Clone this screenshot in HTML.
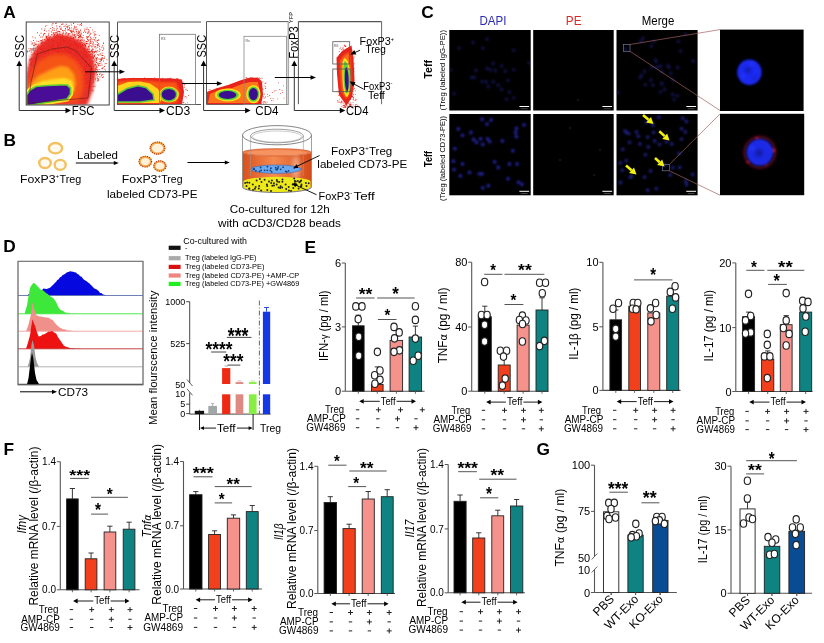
<!DOCTYPE html><html><head><meta charset="utf-8"><style>html,body{margin:0;padding:0;background:#fff;}svg{display:block;filter:blur(0.35px);}</style></head><body><svg width="824" height="643" viewBox="0 0 824 643" font-family='"Liberation Sans", Arial, sans-serif'>
<defs>
<filter id="b1" x="-20%" y="-20%" width="140%" height="140%"><feGaussianBlur stdDeviation="1"/></filter>
<filter id="b15" x="-20%" y="-20%" width="140%" height="140%"><feGaussianBlur stdDeviation="1.5"/></filter>
<filter id="b05" x="-20%" y="-20%" width="140%" height="140%"><feGaussianBlur stdDeviation="0.6"/></filter>
<filter id="b2" x="-30%" y="-30%" width="160%" height="160%"><feGaussianBlur stdDeviation="2"/></filter>
<filter id="b3" x="-30%" y="-30%" width="160%" height="160%"><feGaussianBlur stdDeviation="3"/></filter>
<radialGradient id="cellY" cx="50%" cy="50%" r="50%"><stop offset="0.55" stop-color="#fff8e0"/><stop offset="0.75" stop-color="#f6c55a"/><stop offset="0.9" stop-color="#f0b040"/><stop offset="1" stop-color="#f8dca0"/></radialGradient>
<linearGradient id="liq" x1="0" x2="1" y1="0" y2="0"><stop offset="0" stop-color="#d8501c"/><stop offset="0.45" stop-color="#f58a50"/><stop offset="1" stop-color="#d24a18"/></linearGradient>
<radialGradient id="nucB" cx="50%" cy="50%" r="50%"><stop offset="0" stop-color="#1c2ad8"/><stop offset="0.7" stop-color="#1a34f0"/><stop offset="1" stop-color="#1020a0"/></radialGradient>
</defs>
<rect width="824" height="643" fill="#fff"/>
<text x="3.2" y="17.7" font-size="17.3" font-weight="bold">A</text>
<text x="3.6" y="145.6" font-size="17.3" font-weight="bold">B</text>
<text x="421.2" y="17.6" font-size="17.3" font-weight="bold">C</text>
<text x="3.3" y="252.0" font-size="17.3" font-weight="bold">D</text>
<text x="304.6" y="252.6" font-size="17.3" font-weight="bold">E</text>
<text x="3.6" y="455.4" font-size="17.3" font-weight="bold">F</text>
<text x="536.4" y="455.3" font-size="17.3" font-weight="bold">G</text>
<clipPath id="cp1"><rect x="26.5" y="22.5" width="82.5" height="82.3"/></clipPath>
<clipPath id="cp2"><rect x="118" y="22.5" width="82" height="81.8"/></clipPath>
<clipPath id="cp3"><rect x="207" y="22" width="81" height="82.2"/></clipPath>
<clipPath id="cp4"><rect x="299" y="22" width="82" height="86"/></clipPath>
<g clip-path="url(#cp1)">
<path fill="#e4281c" d="M45.8 67.2h.9v.9h-.9zM76.1 73.9h.9v.9h-.9zM69.4 83.5h.9v.9h-.9zM78.0 47.0h.9v.9h-.9zM58.0 51.1h.9v.9h-.9zM73.6 45.7h.9v.9h-.9zM92.4 56.1h.9v.9h-.9zM29.7 73.0h.9v.9h-.9zM76.7 35.0h.9v.9h-.9zM69.2 75.4h.9v.9h-.9zM72.4 73.5h.9v.9h-.9zM68.1 57.8h.9v.9h-.9zM69.3 67.5h.9v.9h-.9zM60.5 70.1h.9v.9h-.9zM77.1 74.5h.9v.9h-.9zM78.1 60.7h.9v.9h-.9zM55.3 80.7h.9v.9h-.9zM75.2 48.6h.9v.9h-.9zM52.0 52.6h.9v.9h-.9zM50.9 53.3h.9v.9h-.9zM45.8 37.6h.9v.9h-.9zM83.9 30.5h.9v.9h-.9zM79.3 88.9h.9v.9h-.9zM48.5 50.7h.9v.9h-.9zM60.8 56.0h.9v.9h-.9zM69.1 46.0h.9v.9h-.9zM49.8 89.2h.9v.9h-.9zM50.9 77.0h.9v.9h-.9zM65.6 86.9h.9v.9h-.9zM92.9 90.4h.9v.9h-.9zM78.2 93.6h.9v.9h-.9zM48.5 44.3h.9v.9h-.9zM61.1 61.3h.9v.9h-.9zM52.2 48.1h.9v.9h-.9zM79.7 70.7h.9v.9h-.9zM41.9 49.3h.9v.9h-.9zM72.1 81.4h.9v.9h-.9zM76.2 87.0h.9v.9h-.9zM92.5 73.7h.9v.9h-.9zM56.9 63.2h.9v.9h-.9zM60.9 79.6h.9v.9h-.9zM46.3 66.5h.9v.9h-.9zM81.4 82.9h.9v.9h-.9zM34.6 70.8h.9v.9h-.9zM37.9 86.3h.9v.9h-.9zM68.4 81.4h.9v.9h-.9zM52.9 68.8h.9v.9h-.9zM46.1 36.9h.9v.9h-.9zM77.1 84.5h.9v.9h-.9zM56.5 54.9h.9v.9h-.9zM81.9 64.9h.9v.9h-.9zM79.4 96.5h.9v.9h-.9zM68.9 58.8h.9v.9h-.9zM41.4 44.2h.9v.9h-.9zM74.6 48.1h.9v.9h-.9zM84.5 56.3h.9v.9h-.9zM74.5 44.2h.9v.9h-.9zM40.3 51.9h.9v.9h-.9zM65.8 71.7h.9v.9h-.9zM64.8 41.1h.9v.9h-.9zM96.9 42.1h.9v.9h-.9zM86.5 29.1h.9v.9h-.9zM95.2 46.2h.9v.9h-.9zM74.2 78.1h.9v.9h-.9zM53.8 58.2h.9v.9h-.9zM58.4 67.2h.9v.9h-.9zM48.8 77.2h.9v.9h-.9zM80.3 88.9h.9v.9h-.9zM70.5 31.4h.9v.9h-.9zM55.2 81.6h.9v.9h-.9zM73.0 37.1h.9v.9h-.9zM75.6 68.1h.9v.9h-.9zM64.0 47.9h.9v.9h-.9zM71.1 83.4h.9v.9h-.9zM48.1 53.8h.9v.9h-.9zM29.5 63.9h.9v.9h-.9zM89.8 51.4h.9v.9h-.9zM59.5 66.9h.9v.9h-.9zM55.3 92.3h.9v.9h-.9zM48.5 30.3h.9v.9h-.9zM90.7 82.4h.9v.9h-.9zM38.2 55.1h.9v.9h-.9zM69.8 69.2h.9v.9h-.9zM46.8 86.9h.9v.9h-.9zM57.8 67.9h.9v.9h-.9zM75.9 82.3h.9v.9h-.9zM89.9 76.9h.9v.9h-.9zM69.5 60.2h.9v.9h-.9zM79.6 58.9h.9v.9h-.9zM91.8 73.7h.9v.9h-.9zM55.9 41.4h.9v.9h-.9zM98.3 79.7h.9v.9h-.9zM85.4 83.4h.9v.9h-.9zM62.3 84.8h.9v.9h-.9zM84.0 66.6h.9v.9h-.9zM79.9 47.3h.9v.9h-.9zM88.8 55.3h.9v.9h-.9zM56.8 65.9h.9v.9h-.9zM42.2 39.4h.9v.9h-.9zM59.5 36.0h.9v.9h-.9zM59.8 80.4h.9v.9h-.9zM59.5 54.9h.9v.9h-.9zM65.4 35.7h.9v.9h-.9zM54.7 32.3h.9v.9h-.9zM78.2 50.6h.9v.9h-.9zM35.5 54.4h.9v.9h-.9zM60.4 41.0h.9v.9h-.9zM65.9 44.4h.9v.9h-.9zM85.8 72.3h.9v.9h-.9zM58.1 62.4h.9v.9h-.9zM89.0 78.2h.9v.9h-.9zM56.7 28.0h.9v.9h-.9zM79.5 70.6h.9v.9h-.9zM72.7 56.8h.9v.9h-.9zM76.2 87.5h.9v.9h-.9zM41.6 36.7h.9v.9h-.9zM94.5 31.3h.9v.9h-.9zM33.1 60.6h.9v.9h-.9zM76.1 59.0h.9v.9h-.9zM43.1 66.8h.9v.9h-.9zM87.0 57.1h.9v.9h-.9zM76.3 39.8h.9v.9h-.9zM33.0 40.1h.9v.9h-.9zM70.5 56.8h.9v.9h-.9zM50.4 65.1h.9v.9h-.9zM61.9 50.6h.9v.9h-.9zM88.0 45.8h.9v.9h-.9zM50.8 56.1h.9v.9h-.9zM56.9 35.4h.9v.9h-.9zM64.4 65.7h.9v.9h-.9zM55.9 92.8h.9v.9h-.9zM70.5 35.8h.9v.9h-.9zM61.9 50.1h.9v.9h-.9zM71.3 29.8h.9v.9h-.9zM93.1 42.5h.9v.9h-.9zM95.0 67.8h.9v.9h-.9zM76.0 56.4h.9v.9h-.9zM55.2 59.8h.9v.9h-.9zM52.1 65.3h.9v.9h-.9zM71.6 62.5h.9v.9h-.9zM81.5 52.8h.9v.9h-.9zM57.8 90.7h.9v.9h-.9zM52.3 54.6h.9v.9h-.9zM48.2 67.3h.9v.9h-.9zM82.0 75.7h.9v.9h-.9zM57.7 30.9h.9v.9h-.9zM66.3 80.4h.9v.9h-.9zM90.9 69.2h.9v.9h-.9zM70.7 58.7h.9v.9h-.9zM48.1 38.8h.9v.9h-.9zM69.6 85.6h.9v.9h-.9zM70.9 58.6h.9v.9h-.9zM75.8 48.8h.9v.9h-.9zM57.0 48.4h.9v.9h-.9zM67.6 82.8h.9v.9h-.9zM63.6 61.7h.9v.9h-.9zM62.6 73.3h.9v.9h-.9zM51.0 63.9h.9v.9h-.9zM56.9 76.1h.9v.9h-.9zM74.5 34.1h.9v.9h-.9zM56.8 73.0h.9v.9h-.9zM32.8 48.6h.9v.9h-.9zM57.4 61.5h.9v.9h-.9zM75.7 29.0h.9v.9h-.9zM41.2 44.8h.9v.9h-.9zM68.5 57.9h.9v.9h-.9zM80.8 58.2h.9v.9h-.9zM53.5 56.8h.9v.9h-.9zM33.3 75.2h.9v.9h-.9zM97.2 66.7h.9v.9h-.9zM31.0 57.9h.9v.9h-.9zM101.8 55.0h.9v.9h-.9zM40.7 42.8h.9v.9h-.9zM83.6 50.2h.9v.9h-.9zM44.3 58.7h.9v.9h-.9zM46.4 80.1h.9v.9h-.9zM81.7 72.6h.9v.9h-.9zM88.3 54.7h.9v.9h-.9zM75.6 74.1h.9v.9h-.9zM66.7 70.1h.9v.9h-.9zM85.5 50.1h.9v.9h-.9zM74.4 90.4h.9v.9h-.9zM88.1 46.2h.9v.9h-.9zM82.3 83.0h.9v.9h-.9zM65.7 69.1h.9v.9h-.9zM83.9 68.7h.9v.9h-.9zM35.1 68.0h.9v.9h-.9zM86.2 36.3h.9v.9h-.9zM42.3 55.9h.9v.9h-.9zM42.7 63.9h.9v.9h-.9zM98.1 64.8h.9v.9h-.9zM65.6 58.0h.9v.9h-.9zM68.4 38.6h.9v.9h-.9zM88.3 40.7h.9v.9h-.9zM39.7 77.4h.9v.9h-.9zM68.2 52.9h.9v.9h-.9zM87.8 63.8h.9v.9h-.9zM61.5 88.8h.9v.9h-.9zM71.2 70.6h.9v.9h-.9zM66.2 83.3h.9v.9h-.9zM71.2 77.5h.9v.9h-.9zM47.9 80.2h.9v.9h-.9zM49.4 80.0h.9v.9h-.9zM58.2 88.8h.9v.9h-.9zM81.4 49.1h.9v.9h-.9zM63.6 88.4h.9v.9h-.9zM45.1 56.5h.9v.9h-.9zM52.2 69.5h.9v.9h-.9zM75.6 46.1h.9v.9h-.9zM73.2 44.0h.9v.9h-.9zM75.9 77.0h.9v.9h-.9zM69.3 57.4h.9v.9h-.9zM77.8 58.4h.9v.9h-.9zM51.3 61.2h.9v.9h-.9zM87.8 66.1h.9v.9h-.9zM68.2 74.3h.9v.9h-.9zM72.5 54.4h.9v.9h-.9zM87.3 43.4h.9v.9h-.9zM47.3 51.7h.9v.9h-.9zM42.8 50.0h.9v.9h-.9zM45.9 70.5h.9v.9h-.9zM46.0 37.1h.9v.9h-.9zM40.8 63.6h.9v.9h-.9zM99.3 68.9h.9v.9h-.9zM88.3 52.2h.9v.9h-.9zM48.6 40.2h.9v.9h-.9zM42.3 72.3h.9v.9h-.9zM65.7 53.4h.9v.9h-.9zM61.9 38.6h.9v.9h-.9zM61.0 48.2h.9v.9h-.9zM103.0 43.1h.9v.9h-.9zM53.6 47.2h.9v.9h-.9zM71.0 68.5h.9v.9h-.9zM68.1 46.7h.9v.9h-.9zM101.9 68.3h.9v.9h-.9zM59.1 50.6h.9v.9h-.9zM75.3 42.8h.9v.9h-.9zM54.5 36.1h.9v.9h-.9zM59.8 49.7h.9v.9h-.9zM66.4 86.6h.9v.9h-.9zM89.7 62.1h.9v.9h-.9zM57.7 64.8h.9v.9h-.9zM57.2 52.0h.9v.9h-.9zM67.2 59.5h.9v.9h-.9zM92.0 43.6h.9v.9h-.9zM49.3 77.0h.9v.9h-.9zM43.5 81.4h.9v.9h-.9zM89.6 79.9h.9v.9h-.9zM44.0 70.7h.9v.9h-.9zM96.3 58.9h.9v.9h-.9zM62.4 54.4h.9v.9h-.9zM84.0 48.4h.9v.9h-.9zM89.6 86.5h.9v.9h-.9zM75.3 55.6h.9v.9h-.9zM61.7 40.0h.9v.9h-.9zM55.1 71.9h.9v.9h-.9zM80.8 71.9h.9v.9h-.9zM67.1 65.4h.9v.9h-.9zM50.8 92.4h.9v.9h-.9zM66.3 58.8h.9v.9h-.9zM42.8 43.8h.9v.9h-.9zM72.6 69.9h.9v.9h-.9zM63.8 68.9h.9v.9h-.9zM50.3 73.9h.9v.9h-.9zM56.2 66.5h.9v.9h-.9zM74.1 34.4h.9v.9h-.9zM51.4 32.2h.9v.9h-.9zM83.0 92.1h.9v.9h-.9zM48.0 52.6h.9v.9h-.9zM56.7 51.5h.9v.9h-.9zM45.0 95.3h.9v.9h-.9zM79.8 62.3h.9v.9h-.9zM73.3 61.4h.9v.9h-.9zM58.5 39.1h.9v.9h-.9zM94.5 51.6h.9v.9h-.9zM72.5 58.1h.9v.9h-.9zM69.4 53.0h.9v.9h-.9zM63.2 75.8h.9v.9h-.9zM77.7 70.5h.9v.9h-.9zM77.4 32.4h.9v.9h-.9zM65.2 84.7h.9v.9h-.9zM89.4 85.1h.9v.9h-.9zM75.0 50.9h.9v.9h-.9zM44.7 87.8h.9v.9h-.9zM40.1 85.6h.9v.9h-.9zM60.4 40.4h.9v.9h-.9zM84.4 68.6h.9v.9h-.9zM67.5 34.7h.9v.9h-.9zM94.2 51.4h.9v.9h-.9zM40.3 74.0h.9v.9h-.9zM61.3 24.0h.9v.9h-.9zM46.7 60.3h.9v.9h-.9zM59.9 72.0h.9v.9h-.9zM45.5 56.8h.9v.9h-.9zM31.7 43.5h.9v.9h-.9zM85.3 53.9h.9v.9h-.9zM39.0 67.4h.9v.9h-.9zM87.4 48.6h.9v.9h-.9zM71.4 74.1h.9v.9h-.9zM47.3 79.2h.9v.9h-.9zM69.7 84.5h.9v.9h-.9zM42.2 65.0h.9v.9h-.9zM64.5 76.8h.9v.9h-.9zM56.9 80.6h.9v.9h-.9zM59.0 58.4h.9v.9h-.9zM51.2 81.1h.9v.9h-.9zM64.5 30.0h.9v.9h-.9zM67.1 81.0h.9v.9h-.9zM87.2 70.5h.9v.9h-.9zM69.1 72.8h.9v.9h-.9zM51.7 75.2h.9v.9h-.9zM74.7 62.7h.9v.9h-.9zM31.8 74.3h.9v.9h-.9zM38.7 84.9h.9v.9h-.9zM46.5 48.8h.9v.9h-.9zM71.8 56.3h.9v.9h-.9zM54.3 61.5h.9v.9h-.9zM57.0 49.6h.9v.9h-.9zM98.5 58.7h.9v.9h-.9zM69.2 63.7h.9v.9h-.9zM95.0 69.5h.9v.9h-.9zM53.6 47.1h.9v.9h-.9zM97.3 80.7h.9v.9h-.9zM83.0 70.0h.9v.9h-.9zM73.0 47.3h.9v.9h-.9zM101.7 52.5h.9v.9h-.9zM54.2 34.4h.9v.9h-.9zM62.8 32.7h.9v.9h-.9zM69.4 52.3h.9v.9h-.9zM44.0 47.8h.9v.9h-.9zM96.9 69.5h.9v.9h-.9zM49.4 45.7h.9v.9h-.9zM33.3 65.8h.9v.9h-.9zM48.7 73.7h.9v.9h-.9zM68.0 44.7h.9v.9h-.9zM44.4 28.5h.9v.9h-.9zM89.6 41.9h.9v.9h-.9zM67.9 43.4h.9v.9h-.9zM76.1 59.0h.9v.9h-.9zM76.9 78.8h.9v.9h-.9zM96.0 60.4h.9v.9h-.9zM33.0 45.2h.9v.9h-.9zM80.1 34.8h.9v.9h-.9zM42.9 52.9h.9v.9h-.9zM76.0 44.6h.9v.9h-.9zM67.7 37.2h.9v.9h-.9zM94.4 51.0h.9v.9h-.9zM49.6 65.3h.9v.9h-.9zM55.1 48.8h.9v.9h-.9zM67.9 71.8h.9v.9h-.9zM51.3 39.3h.9v.9h-.9zM74.9 51.3h.9v.9h-.9zM49.0 37.8h.9v.9h-.9zM64.5 79.8h.9v.9h-.9zM87.3 72.3h.9v.9h-.9zM50.3 60.7h.9v.9h-.9zM47.2 90.5h.9v.9h-.9zM70.0 70.8h.9v.9h-.9zM52.4 85.9h.9v.9h-.9zM51.2 84.2h.9v.9h-.9zM76.0 48.6h.9v.9h-.9zM68.2 61.2h.9v.9h-.9zM80.2 80.1h.9v.9h-.9zM101.9 57.6h.9v.9h-.9zM75.0 44.8h.9v.9h-.9zM78.5 76.5h.9v.9h-.9zM78.2 55.5h.9v.9h-.9zM51.1 45.0h.9v.9h-.9zM86.2 59.8h.9v.9h-.9zM55.5 69.1h.9v.9h-.9zM104.1 66.0h.9v.9h-.9zM86.1 64.2h.9v.9h-.9zM80.0 51.1h.9v.9h-.9zM57.2 84.7h.9v.9h-.9zM41.8 70.5h.9v.9h-.9zM68.5 77.3h.9v.9h-.9zM71.3 63.2h.9v.9h-.9zM105.1 69.7h.9v.9h-.9zM41.6 76.0h.9v.9h-.9zM71.2 31.0h.9v.9h-.9zM65.0 64.2h.9v.9h-.9zM34.4 54.0h.9v.9h-.9zM56.0 90.8h.9v.9h-.9zM53.2 91.7h.9v.9h-.9zM83.2 79.6h.9v.9h-.9zM69.1 74.2h.9v.9h-.9zM70.2 74.1h.9v.9h-.9zM49.6 36.4h.9v.9h-.9zM75.5 62.4h.9v.9h-.9zM42.7 64.2h.9v.9h-.9zM42.4 59.7h.9v.9h-.9zM73.1 47.8h.9v.9h-.9zM51.2 34.4h.9v.9h-.9zM63.4 67.1h.9v.9h-.9zM51.2 64.5h.9v.9h-.9zM95.8 51.0h.9v.9h-.9zM59.5 95.4h.9v.9h-.9zM78.0 33.0h.9v.9h-.9zM77.9 30.5h.9v.9h-.9zM74.7 54.2h.9v.9h-.9zM88.7 71.5h.9v.9h-.9zM73.1 83.4h.9v.9h-.9zM48.5 76.0h.9v.9h-.9zM71.8 69.2h.9v.9h-.9zM41.3 77.5h.9v.9h-.9zM70.3 59.4h.9v.9h-.9zM49.0 47.3h.9v.9h-.9zM50.0 45.9h.9v.9h-.9zM86.8 82.2h.9v.9h-.9zM55.2 77.3h.9v.9h-.9zM37.7 72.6h.9v.9h-.9zM40.6 58.4h.9v.9h-.9zM47.6 78.0h.9v.9h-.9zM47.4 36.3h.9v.9h-.9zM85.0 77.2h.9v.9h-.9zM87.9 77.2h.9v.9h-.9zM88.3 47.2h.9v.9h-.9zM90.2 51.6h.9v.9h-.9zM61.4 80.1h.9v.9h-.9zM72.5 69.1h.9v.9h-.9zM65.0 56.9h.9v.9h-.9zM64.2 82.7h.9v.9h-.9zM44.4 66.6h.9v.9h-.9zM75.5 28.6h.9v.9h-.9zM85.9 43.2h.9v.9h-.9zM66.6 43.4h.9v.9h-.9zM49.5 76.5h.9v.9h-.9zM44.7 42.7h.9v.9h-.9zM63.8 82.3h.9v.9h-.9zM26.9 51.5h.9v.9h-.9zM62.4 36.7h.9v.9h-.9zM51.4 34.0h.9v.9h-.9zM67.8 33.1h.9v.9h-.9zM35.0 76.9h.9v.9h-.9zM90.4 33.0h.9v.9h-.9zM83.7 53.0h.9v.9h-.9zM62.5 72.3h.9v.9h-.9zM91.8 76.8h.9v.9h-.9zM41.5 43.0h.9v.9h-.9zM49.9 88.0h.9v.9h-.9zM52.6 78.5h.9v.9h-.9zM61.5 54.8h.9v.9h-.9zM76.6 56.2h.9v.9h-.9zM65.1 80.8h.9v.9h-.9zM48.0 64.4h.9v.9h-.9zM84.9 53.7h.9v.9h-.9zM46.6 41.5h.9v.9h-.9zM74.8 76.4h.9v.9h-.9zM85.1 31.9h.9v.9h-.9zM88.4 80.9h.9v.9h-.9zM40.6 32.8h.9v.9h-.9zM65.5 52.6h.9v.9h-.9zM62.3 82.2h.9v.9h-.9zM88.2 36.3h.9v.9h-.9zM56.0 89.8h.9v.9h-.9zM90.7 78.1h.9v.9h-.9zM54.4 59.3h.9v.9h-.9zM99.7 65.1h.9v.9h-.9zM42.0 84.0h.9v.9h-.9zM83.8 66.4h.9v.9h-.9zM73.2 76.3h.9v.9h-.9zM85.0 44.7h.9v.9h-.9zM96.2 62.1h.9v.9h-.9zM69.2 69.1h.9v.9h-.9zM48.5 61.3h.9v.9h-.9zM72.5 56.1h.9v.9h-.9zM63.6 52.7h.9v.9h-.9zM72.5 90.0h.9v.9h-.9zM60.7 64.4h.9v.9h-.9zM55.6 42.1h.9v.9h-.9zM68.6 82.9h.9v.9h-.9zM58.8 58.3h.9v.9h-.9zM76.0 26.4h.9v.9h-.9zM70.4 50.2h.9v.9h-.9zM56.4 37.2h.9v.9h-.9zM46.9 65.8h.9v.9h-.9zM56.0 22.6h.9v.9h-.9zM76.9 81.8h.9v.9h-.9zM62.1 89.7h.9v.9h-.9zM76.5 70.6h.9v.9h-.9zM52.8 61.1h.9v.9h-.9zM85.2 78.3h.9v.9h-.9zM74.2 74.3h.9v.9h-.9zM81.5 53.7h.9v.9h-.9zM50.2 28.2h.9v.9h-.9zM88.7 51.6h.9v.9h-.9zM96.0 58.0h.9v.9h-.9zM57.9 89.1h.9v.9h-.9zM80.1 40.0h.9v.9h-.9zM97.0 57.3h.9v.9h-.9zM60.0 58.6h.9v.9h-.9zM71.3 86.7h.9v.9h-.9zM39.9 66.2h.9v.9h-.9zM75.0 50.4h.9v.9h-.9zM91.8 49.6h.9v.9h-.9zM87.3 64.4h.9v.9h-.9zM53.9 69.2h.9v.9h-.9zM43.8 46.1h.9v.9h-.9zM64.9 80.9h.9v.9h-.9zM95.3 50.9h.9v.9h-.9zM70.9 96.0h.9v.9h-.9zM42.1 55.4h.9v.9h-.9zM37.0 58.1h.9v.9h-.9zM31.4 49.5h.9v.9h-.9zM76.9 41.1h.9v.9h-.9zM55.3 37.0h.9v.9h-.9zM50.4 55.2h.9v.9h-.9zM57.0 51.1h.9v.9h-.9zM46.6 89.0h.9v.9h-.9zM51.5 64.8h.9v.9h-.9zM69.1 26.9h.9v.9h-.9zM83.2 78.9h.9v.9h-.9zM53.7 44.9h.9v.9h-.9zM60.7 72.8h.9v.9h-.9zM54.1 40.7h.9v.9h-.9zM79.6 41.2h.9v.9h-.9zM95.4 34.3h.9v.9h-.9zM83.8 44.7h.9v.9h-.9zM52.6 45.7h.9v.9h-.9zM83.8 62.5h.9v.9h-.9zM79.7 41.9h.9v.9h-.9zM75.1 51.4h.9v.9h-.9zM53.4 33.9h.9v.9h-.9zM76.9 44.7h.9v.9h-.9zM59.0 81.1h.9v.9h-.9zM59.1 66.0h.9v.9h-.9zM47.1 65.1h.9v.9h-.9zM53.6 61.8h.9v.9h-.9zM65.3 50.1h.9v.9h-.9zM64.5 59.7h.9v.9h-.9zM54.9 45.9h.9v.9h-.9zM68.1 40.9h.9v.9h-.9zM69.9 30.1h.9v.9h-.9zM63.8 87.8h.9v.9h-.9zM74.7 43.7h.9v.9h-.9zM51.0 38.7h.9v.9h-.9zM61.1 55.8h.9v.9h-.9zM45.1 93.0h.9v.9h-.9zM83.3 58.8h.9v.9h-.9zM65.6 33.0h.9v.9h-.9zM83.3 74.2h.9v.9h-.9zM52.9 54.0h.9v.9h-.9zM96.3 57.5h.9v.9h-.9zM101.1 58.2h.9v.9h-.9zM79.9 29.6h.9v.9h-.9zM41.5 87.1h.9v.9h-.9zM83.9 76.7h.9v.9h-.9zM35.2 53.4h.9v.9h-.9zM27.7 67.4h.9v.9h-.9zM40.9 48.7h.9v.9h-.9zM71.2 32.2h.9v.9h-.9zM58.9 87.4h.9v.9h-.9zM55.5 65.6h.9v.9h-.9zM79.7 83.1h.9v.9h-.9zM51.9 45.3h.9v.9h-.9zM61.5 36.6h.9v.9h-.9zM83.0 40.7h.9v.9h-.9zM37.2 49.9h.9v.9h-.9zM45.0 73.9h.9v.9h-.9zM78.2 45.6h.9v.9h-.9zM50.3 74.8h.9v.9h-.9zM34.9 57.2h.9v.9h-.9zM59.8 47.3h.9v.9h-.9zM89.0 64.5h.9v.9h-.9zM54.3 82.2h.9v.9h-.9zM97.3 46.9h.9v.9h-.9zM88.0 86.0h.9v.9h-.9zM52.6 49.5h.9v.9h-.9zM90.5 51.0h.9v.9h-.9zM68.5 86.9h.9v.9h-.9zM67.6 80.6h.9v.9h-.9zM77.4 24.2h.9v.9h-.9zM59.6 42.2h.9v.9h-.9zM101.3 74.3h.9v.9h-.9zM52.2 27.1h.9v.9h-.9zM54.6 54.3h.9v.9h-.9zM93.8 46.2h.9v.9h-.9zM92.1 29.4h.9v.9h-.9zM60.3 54.0h.9v.9h-.9zM31.7 54.4h.9v.9h-.9zM88.5 70.5h.9v.9h-.9zM78.8 63.2h.9v.9h-.9zM96.5 74.6h.9v.9h-.9zM84.9 77.8h.9v.9h-.9zM93.2 57.5h.9v.9h-.9zM45.0 48.2h.9v.9h-.9zM56.5 69.1h.9v.9h-.9zM45.9 89.7h.9v.9h-.9zM41.9 81.5h.9v.9h-.9zM95.6 66.0h.9v.9h-.9zM72.1 67.3h.9v.9h-.9zM93.0 56.7h.9v.9h-.9zM73.0 23.0h.9v.9h-.9zM32.9 74.4h.9v.9h-.9zM71.3 89.7h.9v.9h-.9zM83.5 62.5h.9v.9h-.9zM68.1 81.1h.9v.9h-.9zM54.9 61.6h.9v.9h-.9zM92.8 61.6h.9v.9h-.9zM91.2 50.9h.9v.9h-.9zM67.9 28.9h.9v.9h-.9zM72.5 65.2h.9v.9h-.9zM85.0 55.7h.9v.9h-.9zM42.9 49.2h.9v.9h-.9zM71.0 72.4h.9v.9h-.9zM76.7 49.5h.9v.9h-.9zM86.0 66.5h.9v.9h-.9zM61.9 60.2h.9v.9h-.9zM31.7 76.4h.9v.9h-.9zM52.5 74.6h.9v.9h-.9zM54.4 34.5h.9v.9h-.9zM89.8 39.8h.9v.9h-.9zM61.1 56.7h.9v.9h-.9zM85.9 41.0h.9v.9h-.9zM53.6 35.4h.9v.9h-.9zM75.7 44.6h.9v.9h-.9zM77.0 40.8h.9v.9h-.9zM70.3 79.3h.9v.9h-.9zM86.7 43.2h.9v.9h-.9zM46.1 55.9h.9v.9h-.9zM92.2 54.5h.9v.9h-.9zM55.4 62.7h.9v.9h-.9zM77.7 40.2h.9v.9h-.9zM62.9 90.6h.9v.9h-.9zM49.5 46.1h.9v.9h-.9zM48.4 66.3h.9v.9h-.9zM43.5 84.3h.9v.9h-.9zM66.5 57.1h.9v.9h-.9zM98.1 43.3h.9v.9h-.9zM69.7 56.7h.9v.9h-.9zM45.4 58.6h.9v.9h-.9zM44.2 39.1h.9v.9h-.9zM50.8 31.2h.9v.9h-.9zM65.2 86.0h.9v.9h-.9zM81.0 23.0h.9v.9h-.9zM61.8 50.8h.9v.9h-.9zM67.3 51.7h.9v.9h-.9zM45.6 89.9h.9v.9h-.9zM63.8 82.6h.9v.9h-.9zM86.2 65.4h.9v.9h-.9zM52.2 74.7h.9v.9h-.9zM46.9 92.6h.9v.9h-.9zM76.2 54.1h.9v.9h-.9zM43.0 72.0h.9v.9h-.9zM96.3 52.4h.9v.9h-.9zM29.9 61.5h.9v.9h-.9zM35.0 68.8h.9v.9h-.9zM83.2 48.2h.9v.9h-.9zM56.7 91.2h.9v.9h-.9zM89.8 34.2h.9v.9h-.9zM50.1 40.9h.9v.9h-.9zM46.1 62.9h.9v.9h-.9zM92.7 57.1h.9v.9h-.9zM68.0 57.6h.9v.9h-.9zM76.1 43.3h.9v.9h-.9zM53.0 41.9h.9v.9h-.9zM63.3 45.2h.9v.9h-.9zM62.6 77.0h.9v.9h-.9zM45.5 35.8h.9v.9h-.9zM46.3 37.0h.9v.9h-.9zM39.8 48.3h.9v.9h-.9zM52.5 23.1h.9v.9h-.9zM47.8 75.5h.9v.9h-.9zM87.5 35.9h.9v.9h-.9zM46.3 55.0h.9v.9h-.9zM81.9 57.0h.9v.9h-.9zM81.4 50.9h.9v.9h-.9zM66.9 93.9h.9v.9h-.9zM48.5 32.7h.9v.9h-.9zM84.5 83.5h.9v.9h-.9zM82.6 47.3h.9v.9h-.9zM62.9 30.5h.9v.9h-.9zM55.9 51.8h.9v.9h-.9zM70.6 89.0h.9v.9h-.9zM67.4 46.7h.9v.9h-.9zM59.0 74.9h.9v.9h-.9zM49.4 93.8h.9v.9h-.9zM58.4 91.5h.9v.9h-.9zM67.3 50.8h.9v.9h-.9zM48.5 63.9h.9v.9h-.9zM46.4 69.7h.9v.9h-.9zM74.2 25.7h.9v.9h-.9zM65.5 57.0h.9v.9h-.9zM103.3 48.5h.9v.9h-.9zM88.4 76.4h.9v.9h-.9zM81.6 57.9h.9v.9h-.9zM54.9 54.7h.9v.9h-.9zM84.8 66.7h.9v.9h-.9zM71.3 43.3h.9v.9h-.9zM50.0 70.6h.9v.9h-.9zM63.9 56.2h.9v.9h-.9zM47.3 69.0h.9v.9h-.9zM87.0 49.1h.9v.9h-.9zM76.3 60.9h.9v.9h-.9zM85.4 42.7h.9v.9h-.9zM82.0 54.9h.9v.9h-.9zM41.0 87.1h.9v.9h-.9zM43.9 30.0h.9v.9h-.9zM88.9 51.0h.9v.9h-.9zM51.1 58.9h.9v.9h-.9zM48.9 58.9h.9v.9h-.9zM71.0 73.1h.9v.9h-.9zM98.1 65.2h.9v.9h-.9zM68.2 80.2h.9v.9h-.9zM57.2 88.1h.9v.9h-.9zM76.7 34.5h.9v.9h-.9zM60.5 88.1h.9v.9h-.9zM80.3 91.1h.9v.9h-.9zM90.2 71.2h.9v.9h-.9zM53.9 40.8h.9v.9h-.9zM74.1 44.3h.9v.9h-.9zM73.8 75.7h.9v.9h-.9zM41.2 54.8h.9v.9h-.9zM78.9 59.1h.9v.9h-.9zM33.5 44.6h.9v.9h-.9zM66.7 88.5h.9v.9h-.9zM95.6 47.5h.9v.9h-.9zM85.5 40.9h.9v.9h-.9zM55.4 76.9h.9v.9h-.9zM53.4 48.8h.9v.9h-.9zM81.6 44.9h.9v.9h-.9zM57.7 50.3h.9v.9h-.9zM44.7 56.7h.9v.9h-.9zM55.3 49.9h.9v.9h-.9zM49.3 61.1h.9v.9h-.9zM64.9 75.7h.9v.9h-.9zM59.2 72.3h.9v.9h-.9zM70.4 66.8h.9v.9h-.9zM82.6 82.3h.9v.9h-.9zM80.9 39.3h.9v.9h-.9zM53.4 67.4h.9v.9h-.9zM65.1 54.8h.9v.9h-.9zM48.6 73.8h.9v.9h-.9zM64.6 25.5h.9v.9h-.9zM67.1 50.7h.9v.9h-.9zM96.0 66.8h.9v.9h-.9zM65.1 70.1h.9v.9h-.9zM84.9 55.9h.9v.9h-.9zM36.0 59.7h.9v.9h-.9zM42.2 36.4h.9v.9h-.9zM101.5 64.5h.9v.9h-.9zM65.3 60.0h.9v.9h-.9zM37.9 62.5h.9v.9h-.9zM51.9 29.5h.9v.9h-.9zM41.8 60.7h.9v.9h-.9zM59.5 63.7h.9v.9h-.9zM83.7 54.1h.9v.9h-.9zM74.2 41.2h.9v.9h-.9zM39.5 71.1h.9v.9h-.9zM61.6 58.1h.9v.9h-.9zM31.8 71.0h.9v.9h-.9zM56.2 25.5h.9v.9h-.9zM76.8 69.4h.9v.9h-.9zM61.0 49.1h.9v.9h-.9zM101.8 67.7h.9v.9h-.9zM56.9 33.3h.9v.9h-.9zM53.7 67.5h.9v.9h-.9zM86.2 75.5h.9v.9h-.9zM48.5 48.6h.9v.9h-.9zM86.8 41.1h.9v.9h-.9zM53.0 50.3h.9v.9h-.9zM29.3 49.9h.9v.9h-.9zM46.9 63.6h.9v.9h-.9zM34.8 44.2h.9v.9h-.9zM98.8 34.9h.9v.9h-.9zM77.5 50.2h.9v.9h-.9zM64.9 37.2h.9v.9h-.9zM68.1 41.8h.9v.9h-.9zM73.2 47.1h.9v.9h-.9zM35.3 57.7h.9v.9h-.9zM58.1 36.1h.9v.9h-.9zM86.2 50.8h.9v.9h-.9zM56.9 44.8h.9v.9h-.9zM37.1 71.0h.9v.9h-.9zM74.1 60.1h.9v.9h-.9zM95.6 59.6h.9v.9h-.9zM83.3 87.0h.9v.9h-.9zM82.8 47.7h.9v.9h-.9zM31.4 43.6h.9v.9h-.9zM69.7 79.1h.9v.9h-.9zM69.8 66.1h.9v.9h-.9zM55.0 80.4h.9v.9h-.9zM69.3 45.4h.9v.9h-.9zM49.3 66.0h.9v.9h-.9zM68.4 68.9h.9v.9h-.9zM78.5 56.4h.9v.9h-.9zM32.9 68.8h.9v.9h-.9zM62.5 33.0h.9v.9h-.9zM92.7 39.2h.9v.9h-.9zM60.8 72.9h.9v.9h-.9zM58.4 71.3h.9v.9h-.9zM69.7 87.1h.9v.9h-.9zM87.4 74.9h.9v.9h-.9zM57.6 96.2h.9v.9h-.9zM56.0 32.4h.9v.9h-.9zM100.9 75.4h.9v.9h-.9zM61.6 41.1h.9v.9h-.9zM78.1 91.1h.9v.9h-.9zM69.7 75.9h.9v.9h-.9zM84.8 45.3h.9v.9h-.9zM51.5 72.8h.9v.9h-.9zM44.5 64.0h.9v.9h-.9zM71.3 58.9h.9v.9h-.9zM83.9 49.3h.9v.9h-.9zM53.8 94.0h.9v.9h-.9zM92.8 67.7h.9v.9h-.9zM75.0 53.2h.9v.9h-.9zM54.6 32.4h.9v.9h-.9zM61.9 62.9h.9v.9h-.9zM60.9 63.5h.9v.9h-.9zM46.6 61.9h.9v.9h-.9zM55.5 85.5h.9v.9h-.9zM53.6 57.7h.9v.9h-.9zM81.3 46.2h.9v.9h-.9zM77.8 51.3h.9v.9h-.9zM54.6 33.7h.9v.9h-.9zM59.2 48.8h.9v.9h-.9zM68.1 34.5h.9v.9h-.9zM56.6 59.4h.9v.9h-.9zM62.6 63.3h.9v.9h-.9zM31.8 58.6h.9v.9h-.9zM67.2 67.7h.9v.9h-.9zM53.0 78.6h.9v.9h-.9zM65.3 33.5h.9v.9h-.9zM82.2 43.8h.9v.9h-.9zM45.1 61.2h.9v.9h-.9zM77.7 33.7h.9v.9h-.9zM71.8 33.5h.9v.9h-.9zM71.0 59.0h.9v.9h-.9zM61.2 72.3h.9v.9h-.9zM98.3 64.3h.9v.9h-.9zM60.7 92.1h.9v.9h-.9zM49.3 42.8h.9v.9h-.9zM86.3 74.3h.9v.9h-.9zM57.6 56.9h.9v.9h-.9zM57.3 79.3h.9v.9h-.9zM50.3 66.5h.9v.9h-.9zM51.6 24.6h.9v.9h-.9zM41.4 49.0h.9v.9h-.9zM55.3 89.8h.9v.9h-.9zM62.8 39.4h.9v.9h-.9zM92.2 52.0h.9v.9h-.9zM78.9 35.9h.9v.9h-.9zM57.3 60.5h.9v.9h-.9zM50.0 72.8h.9v.9h-.9zM69.1 57.2h.9v.9h-.9zM66.1 54.2h.9v.9h-.9zM33.3 47.4h.9v.9h-.9zM61.5 53.0h.9v.9h-.9zM94.2 52.3h.9v.9h-.9zM72.7 50.4h.9v.9h-.9zM53.5 49.5h.9v.9h-.9zM78.0 32.6h.9v.9h-.9zM93.3 66.2h.9v.9h-.9zM72.5 82.3h.9v.9h-.9zM56.3 52.5h.9v.9h-.9zM75.9 67.4h.9v.9h-.9zM90.1 36.8h.9v.9h-.9zM76.1 55.1h.9v.9h-.9zM75.4 70.7h.9v.9h-.9zM60.0 56.4h.9v.9h-.9zM52.8 59.3h.9v.9h-.9zM41.1 54.4h.9v.9h-.9zM87.7 36.5h.9v.9h-.9zM69.2 44.6h.9v.9h-.9zM102.4 74.2h.9v.9h-.9zM48.2 40.9h.9v.9h-.9zM69.0 59.4h.9v.9h-.9zM67.9 70.6h.9v.9h-.9zM45.0 52.7h.9v.9h-.9zM78.3 67.7h.9v.9h-.9zM79.1 73.7h.9v.9h-.9zM52.2 67.0h.9v.9h-.9zM67.3 70.7h.9v.9h-.9zM49.4 64.0h.9v.9h-.9zM56.8 59.3h.9v.9h-.9zM75.8 73.2h.9v.9h-.9zM68.2 76.7h.9v.9h-.9zM45.7 68.0h.9v.9h-.9zM46.5 52.8h.9v.9h-.9zM52.4 48.9h.9v.9h-.9zM71.5 53.6h.9v.9h-.9zM60.8 76.9h.9v.9h-.9zM60.8 63.0h.9v.9h-.9zM42.4 74.3h.9v.9h-.9zM51.3 58.7h.9v.9h-.9zM58.2 94.3h.9v.9h-.9zM93.0 82.3h.9v.9h-.9zM49.4 81.5h.9v.9h-.9zM76.3 93.5h.9v.9h-.9zM76.9 45.4h.9v.9h-.9zM37.4 49.7h.9v.9h-.9zM77.8 87.0h.9v.9h-.9zM85.9 81.3h.9v.9h-.9zM73.3 65.1h.9v.9h-.9zM77.1 51.8h.9v.9h-.9zM30.1 49.4h.9v.9h-.9zM35.9 43.7h.9v.9h-.9zM63.2 87.0h.9v.9h-.9zM55.3 72.1h.9v.9h-.9zM75.5 44.2h.9v.9h-.9zM92.5 41.4h.9v.9h-.9zM84.9 54.2h.9v.9h-.9zM60.5 63.5h.9v.9h-.9zM75.6 56.3h.9v.9h-.9zM60.0 61.1h.9v.9h-.9zM47.9 65.5h.9v.9h-.9zM84.7 28.9h.9v.9h-.9zM87.5 32.3h.9v.9h-.9zM50.9 45.6h.9v.9h-.9zM58.4 79.6h.9v.9h-.9zM46.2 45.0h.9v.9h-.9zM51.1 63.3h.9v.9h-.9zM56.8 67.3h.9v.9h-.9zM63.2 39.8h.9v.9h-.9zM88.9 43.8h.9v.9h-.9zM62.3 66.5h.9v.9h-.9zM63.3 74.0h.9v.9h-.9zM60.6 37.2h.9v.9h-.9zM45.9 62.2h.9v.9h-.9zM43.8 84.9h.9v.9h-.9zM62.8 95.2h.9v.9h-.9zM90.7 42.5h.9v.9h-.9zM59.6 39.3h.9v.9h-.9zM76.3 43.2h.9v.9h-.9zM57.9 69.0h.9v.9h-.9zM79.4 36.2h.9v.9h-.9zM56.9 31.6h.9v.9h-.9zM65.1 81.9h.9v.9h-.9zM53.3 85.2h.9v.9h-.9zM74.1 35.4h.9v.9h-.9zM40.9 65.5h.9v.9h-.9zM83.0 48.5h.9v.9h-.9zM76.1 55.9h.9v.9h-.9zM74.0 52.0h.9v.9h-.9zM51.4 46.6h.9v.9h-.9zM45.7 92.0h.9v.9h-.9zM62.7 47.9h.9v.9h-.9zM75.3 81.0h.9v.9h-.9zM75.2 36.5h.9v.9h-.9zM43.7 60.8h.9v.9h-.9zM72.0 57.8h.9v.9h-.9zM90.4 63.2h.9v.9h-.9zM65.4 79.7h.9v.9h-.9zM63.9 83.9h.9v.9h-.9zM54.8 55.4h.9v.9h-.9zM69.0 71.3h.9v.9h-.9zM62.6 83.8h.9v.9h-.9zM61.9 85.9h.9v.9h-.9zM87.9 31.7h.9v.9h-.9zM44.7 79.4h.9v.9h-.9zM55.4 87.9h.9v.9h-.9zM54.8 55.5h.9v.9h-.9zM57.3 43.0h.9v.9h-.9zM63.4 75.7h.9v.9h-.9zM84.8 75.4h.9v.9h-.9zM55.3 84.4h.9v.9h-.9zM88.6 64.3h.9v.9h-.9zM94.9 77.9h.9v.9h-.9zM66.6 40.3h.9v.9h-.9zM75.3 47.7h.9v.9h-.9zM51.3 63.2h.9v.9h-.9zM72.1 69.2h.9v.9h-.9zM60.1 51.4h.9v.9h-.9zM70.4 47.2h.9v.9h-.9zM84.5 64.4h.9v.9h-.9zM41.0 48.5h.9v.9h-.9zM86.4 42.8h.9v.9h-.9zM79.4 52.9h.9v.9h-.9zM44.9 86.2h.9v.9h-.9zM89.3 59.3h.9v.9h-.9zM67.2 27.4h.9v.9h-.9zM44.4 33.1h.9v.9h-.9zM74.5 63.5h.9v.9h-.9zM71.5 31.8h.9v.9h-.9zM66.5 26.5h.9v.9h-.9zM73.0 43.9h.9v.9h-.9zM88.9 63.0h.9v.9h-.9zM66.2 70.2h.9v.9h-.9zM61.2 93.6h.9v.9h-.9zM56.5 52.6h.9v.9h-.9zM72.7 42.5h.9v.9h-.9zM96.1 72.3h.9v.9h-.9zM101.5 58.9h.9v.9h-.9zM99.6 73.3h.9v.9h-.9zM59.5 57.4h.9v.9h-.9zM60.4 57.2h.9v.9h-.9zM52.8 82.0h.9v.9h-.9zM82.1 38.5h.9v.9h-.9zM103.0 42.5h.9v.9h-.9zM77.3 65.0h.9v.9h-.9zM42.1 83.1h.9v.9h-.9zM80.6 50.5h.9v.9h-.9zM44.2 53.2h.9v.9h-.9zM85.5 56.7h.9v.9h-.9zM42.6 48.0h.9v.9h-.9zM54.4 80.8h.9v.9h-.9zM34.1 42.5h.9v.9h-.9zM71.7 60.3h.9v.9h-.9zM37.8 41.1h.9v.9h-.9zM54.3 67.1h.9v.9h-.9zM80.0 24.2h.9v.9h-.9zM62.9 47.9h.9v.9h-.9zM78.9 69.1h.9v.9h-.9zM89.9 70.0h.9v.9h-.9zM79.6 53.9h.9v.9h-.9zM44.1 63.7h.9v.9h-.9zM71.3 61.3h.9v.9h-.9zM60.1 44.2h.9v.9h-.9zM64.7 46.2h.9v.9h-.9zM76.7 47.0h.9v.9h-.9zM70.4 62.4h.9v.9h-.9zM52.3 91.9h.9v.9h-.9zM53.9 41.1h.9v.9h-.9zM79.9 35.7h.9v.9h-.9zM54.1 75.1h.9v.9h-.9zM37.3 50.7h.9v.9h-.9zM42.7 58.5h.9v.9h-.9zM79.5 84.8h.9v.9h-.9zM91.8 89.8h.9v.9h-.9zM83.9 52.3h.9v.9h-.9zM56.5 46.5h.9v.9h-.9zM59.2 89.4h.9v.9h-.9zM101.9 77.1h.9v.9h-.9zM61.5 95.5h.9v.9h-.9zM94.4 39.7h.9v.9h-.9zM69.3 97.2h.9v.9h-.9zM34.0 52.6h.9v.9h-.9zM63.3 62.4h.9v.9h-.9zM42.8 80.9h.9v.9h-.9zM88.6 54.3h.9v.9h-.9zM52.6 86.0h.9v.9h-.9zM68.5 60.0h.9v.9h-.9zM65.4 59.1h.9v.9h-.9zM92.9 48.8h.9v.9h-.9zM79.1 71.4h.9v.9h-.9zM41.4 60.1h.9v.9h-.9zM85.9 54.9h.9v.9h-.9zM63.3 84.1h.9v.9h-.9zM44.5 53.8h.9v.9h-.9zM62.1 55.6h.9v.9h-.9zM42.4 79.7h.9v.9h-.9zM46.3 85.8h.9v.9h-.9zM88.5 87.5h.9v.9h-.9zM92.0 56.8h.9v.9h-.9zM54.0 51.7h.9v.9h-.9zM75.0 50.7h.9v.9h-.9zM86.0 87.0h.9v.9h-.9zM63.9 54.6h.9v.9h-.9zM72.3 45.0h.9v.9h-.9zM35.4 80.5h.9v.9h-.9zM56.7 84.2h.9v.9h-.9zM86.7 78.0h.9v.9h-.9zM87.4 32.6h.9v.9h-.9zM81.6 58.1h.9v.9h-.9zM59.0 51.7h.9v.9h-.9zM52.9 70.8h.9v.9h-.9zM66.1 92.4h.9v.9h-.9zM100.8 58.3h.9v.9h-.9zM74.3 45.6h.9v.9h-.9zM51.4 90.6h.9v.9h-.9zM48.0 51.8h.9v.9h-.9zM88.0 28.9h.9v.9h-.9zM78.3 42.6h.9v.9h-.9zM93.4 37.4h.9v.9h-.9zM39.7 68.0h.9v.9h-.9zM83.9 44.4h.9v.9h-.9zM69.7 59.7h.9v.9h-.9zM47.9 47.7h.9v.9h-.9zM41.1 73.9h.9v.9h-.9zM92.8 51.0h.9v.9h-.9zM49.2 47.8h.9v.9h-.9zM74.9 41.6h.9v.9h-.9zM93.3 77.5h.9v.9h-.9zM60.3 49.9h.9v.9h-.9zM80.4 44.4h.9v.9h-.9zM70.7 38.2h.9v.9h-.9zM65.8 51.8h.9v.9h-.9zM83.8 88.8h.9v.9h-.9zM70.2 45.6h.9v.9h-.9zM60.0 54.5h.9v.9h-.9zM39.9 71.7h.9v.9h-.9zM64.4 41.8h.9v.9h-.9zM85.6 68.5h.9v.9h-.9zM62.1 90.8h.9v.9h-.9zM36.8 71.8h.9v.9h-.9zM41.6 72.0h.9v.9h-.9zM51.8 54.0h.9v.9h-.9zM76.6 61.0h.9v.9h-.9zM84.9 47.7h.9v.9h-.9zM33.3 52.9h.9v.9h-.9zM65.4 48.7h.9v.9h-.9zM59.9 52.7h.9v.9h-.9zM81.0 41.7h.9v.9h-.9zM40.9 42.9h.9v.9h-.9zM58.5 66.8h.9v.9h-.9zM90.8 63.8h.9v.9h-.9zM48.6 90.9h.9v.9h-.9zM37.3 70.1h.9v.9h-.9zM58.8 94.2h.9v.9h-.9zM54.8 69.4h.9v.9h-.9zM93.3 86.1h.9v.9h-.9zM86.5 51.5h.9v.9h-.9zM69.9 46.3h.9v.9h-.9zM63.5 51.3h.9v.9h-.9zM51.5 50.4h.9v.9h-.9zM51.9 60.1h.9v.9h-.9zM86.1 51.6h.9v.9h-.9zM87.2 74.7h.9v.9h-.9zM74.1 65.8h.9v.9h-.9zM80.7 83.8h.9v.9h-.9zM76.4 72.6h.9v.9h-.9zM92.6 52.5h.9v.9h-.9zM57.2 68.8h.9v.9h-.9zM56.0 35.4h.9v.9h-.9zM71.4 45.6h.9v.9h-.9zM72.6 64.1h.9v.9h-.9zM58.6 51.5h.9v.9h-.9zM70.7 87.4h.9v.9h-.9zM59.7 65.5h.9v.9h-.9zM49.0 69.5h.9v.9h-.9zM73.9 62.5h.9v.9h-.9zM53.8 71.9h.9v.9h-.9zM54.2 49.3h.9v.9h-.9zM64.0 62.9h.9v.9h-.9zM48.0 50.1h.9v.9h-.9zM84.7 61.2h.9v.9h-.9zM30.5 60.1h.9v.9h-.9zM32.3 42.6h.9v.9h-.9zM61.4 34.6h.9v.9h-.9zM68.4 92.8h.9v.9h-.9zM85.7 50.5h.9v.9h-.9zM77.8 32.9h.9v.9h-.9zM30.6 41.4h.9v.9h-.9zM60.1 37.4h.9v.9h-.9zM37.0 79.9h.9v.9h-.9zM75.4 79.7h.9v.9h-.9zM58.7 58.2h.9v.9h-.9zM70.6 89.6h.9v.9h-.9zM76.8 64.1h.9v.9h-.9zM56.8 64.1h.9v.9h-.9zM83.5 88.8h.9v.9h-.9zM70.9 52.1h.9v.9h-.9zM38.8 57.6h.9v.9h-.9zM75.6 46.0h.9v.9h-.9zM97.3 40.1h.9v.9h-.9zM72.8 47.2h.9v.9h-.9zM88.0 73.6h.9v.9h-.9zM78.0 37.1h.9v.9h-.9zM72.8 70.5h.9v.9h-.9zM61.7 74.2h.9v.9h-.9zM54.1 36.6h.9v.9h-.9zM90.1 41.0h.9v.9h-.9zM67.2 49.4h.9v.9h-.9zM58.2 50.8h.9v.9h-.9zM67.9 59.8h.9v.9h-.9zM54.6 64.0h.9v.9h-.9zM72.7 58.0h.9v.9h-.9zM94.1 39.2h.9v.9h-.9zM94.8 44.2h.9v.9h-.9zM53.0 83.8h.9v.9h-.9zM73.8 53.4h.9v.9h-.9zM83.1 66.3h.9v.9h-.9zM58.1 46.1h.9v.9h-.9zM65.6 61.2h.9v.9h-.9zM82.8 74.0h.9v.9h-.9zM73.3 90.9h.9v.9h-.9zM72.2 88.3h.9v.9h-.9zM38.8 57.6h.9v.9h-.9zM83.4 55.5h.9v.9h-.9zM61.7 56.7h.9v.9h-.9zM52.3 56.4h.9v.9h-.9zM80.9 86.5h.9v.9h-.9zM40.0 90.0h.9v.9h-.9zM50.6 91.3h.9v.9h-.9zM77.5 82.5h.9v.9h-.9zM78.3 92.6h.9v.9h-.9zM57.7 64.9h.9v.9h-.9zM63.3 63.6h.9v.9h-.9zM94.0 56.0h.9v.9h-.9zM53.2 32.3h.9v.9h-.9zM91.4 38.7h.9v.9h-.9zM68.6 81.7h.9v.9h-.9zM55.5 50.0h.9v.9h-.9zM41.5 42.0h.9v.9h-.9zM54.4 56.4h.9v.9h-.9zM76.4 80.7h.9v.9h-.9zM60.6 63.9h.9v.9h-.9zM84.1 86.3h.9v.9h-.9zM51.6 56.2h.9v.9h-.9zM93.1 74.4h.9v.9h-.9zM78.6 42.8h.9v.9h-.9zM86.5 51.2h.9v.9h-.9zM53.8 44.6h.9v.9h-.9zM55.0 84.0h.9v.9h-.9zM62.3 66.0h.9v.9h-.9zM51.9 47.6h.9v.9h-.9zM82.8 68.0h.9v.9h-.9zM67.6 25.8h.9v.9h-.9zM90.1 68.8h.9v.9h-.9zM55.0 79.5h.9v.9h-.9zM33.8 51.4h.9v.9h-.9zM41.5 50.0h.9v.9h-.9zM45.8 30.7h.9v.9h-.9zM51.6 62.7h.9v.9h-.9zM64.9 49.6h.9v.9h-.9zM89.1 69.1h.9v.9h-.9zM53.6 48.9h.9v.9h-.9zM53.9 85.5h.9v.9h-.9zM41.9 39.7h.9v.9h-.9zM78.7 31.8h.9v.9h-.9zM60.3 89.0h.9v.9h-.9zM46.3 53.2h.9v.9h-.9zM83.1 83.0h.9v.9h-.9zM34.8 37.5h.9v.9h-.9zM89.8 68.0h.9v.9h-.9zM74.6 36.8h.9v.9h-.9zM63.1 51.6h.9v.9h-.9zM57.0 59.9h.9v.9h-.9zM35.5 53.1h.9v.9h-.9zM72.8 54.5h.9v.9h-.9zM102.2 45.3h.9v.9h-.9zM51.3 42.7h.9v.9h-.9zM72.2 94.0h.9v.9h-.9zM72.9 75.3h.9v.9h-.9zM80.4 70.9h.9v.9h-.9zM79.7 42.8h.9v.9h-.9zM94.8 40.7h.9v.9h-.9zM89.7 27.2h.9v.9h-.9zM86.4 38.2h.9v.9h-.9zM78.4 44.7h.9v.9h-.9zM81.6 80.9h.9v.9h-.9zM76.6 44.2h.9v.9h-.9zM69.3 71.4h.9v.9h-.9zM38.2 46.6h.9v.9h-.9zM53.1 38.2h.9v.9h-.9zM55.1 76.0h.9v.9h-.9zM48.4 77.0h.9v.9h-.9zM59.0 75.3h.9v.9h-.9zM77.1 54.4h.9v.9h-.9zM68.2 41.0h.9v.9h-.9zM40.7 82.6h.9v.9h-.9zM69.7 80.6h.9v.9h-.9zM47.3 62.5h.9v.9h-.9zM82.6 37.2h.9v.9h-.9zM75.6 29.3h.9v.9h-.9zM64.3 48.3h.9v.9h-.9zM53.1 59.1h.9v.9h-.9zM52.6 41.3h.9v.9h-.9zM47.0 50.4h.9v.9h-.9zM72.4 98.0h.9v.9h-.9zM53.0 63.4h.9v.9h-.9zM79.6 78.5h.9v.9h-.9zM47.2 39.5h.9v.9h-.9zM79.4 40.0h.9v.9h-.9zM52.4 66.7h.9v.9h-.9zM63.4 54.3h.9v.9h-.9zM78.6 54.7h.9v.9h-.9zM40.8 59.5h.9v.9h-.9zM84.6 83.9h.9v.9h-.9zM39.6 58.8h.9v.9h-.9zM49.3 57.1h.9v.9h-.9zM57.7 86.6h.9v.9h-.9zM63.2 90.9h.9v.9h-.9zM83.0 86.5h.9v.9h-.9zM81.3 24.9h.9v.9h-.9zM41.9 63.7h.9v.9h-.9zM32.7 75.2h.9v.9h-.9zM63.2 50.7h.9v.9h-.9zM28.8 76.8h.9v.9h-.9zM44.2 42.0h.9v.9h-.9zM52.6 81.8h.9v.9h-.9zM92.4 58.1h.9v.9h-.9zM62.4 70.6h.9v.9h-.9zM67.3 25.8h.9v.9h-.9zM44.0 42.9h.9v.9h-.9zM83.4 42.8h.9v.9h-.9zM73.8 68.1h.9v.9h-.9zM62.3 90.4h.9v.9h-.9zM46.0 42.7h.9v.9h-.9zM52.5 57.6h.9v.9h-.9zM55.2 51.1h.9v.9h-.9zM58.6 41.4h.9v.9h-.9zM59.9 28.5h.9v.9h-.9zM93.8 33.4h.9v.9h-.9zM66.4 53.6h.9v.9h-.9zM36.8 72.5h.9v.9h-.9zM70.8 79.1h.9v.9h-.9zM81.3 83.9h.9v.9h-.9zM74.7 43.8h.9v.9h-.9zM77.8 86.7h.9v.9h-.9zM71.6 57.1h.9v.9h-.9zM58.3 42.0h.9v.9h-.9zM71.7 72.3h.9v.9h-.9zM39.1 70.7h.9v.9h-.9zM58.9 59.2h.9v.9h-.9zM99.0 48.4h.9v.9h-.9zM47.7 92.5h.9v.9h-.9zM57.8 73.4h.9v.9h-.9zM44.3 70.7h.9v.9h-.9zM53.0 76.8h.9v.9h-.9zM60.3 47.5h.9v.9h-.9zM52.3 66.2h.9v.9h-.9zM73.5 79.2h.9v.9h-.9zM104.3 68.7h.9v.9h-.9zM78.1 86.4h.9v.9h-.9zM64.9 51.0h.9v.9h-.9zM59.2 48.9h.9v.9h-.9zM58.1 30.8h.9v.9h-.9zM32.7 67.5h.9v.9h-.9zM47.8 59.7h.9v.9h-.9zM41.1 54.9h.9v.9h-.9zM72.1 60.6h.9v.9h-.9zM41.0 68.8h.9v.9h-.9zM105.9 62.9h.9v.9h-.9zM74.1 52.0h.9v.9h-.9zM83.2 45.0h.9v.9h-.9zM43.0 43.9h.9v.9h-.9zM72.8 28.4h.9v.9h-.9zM66.5 75.5h.9v.9h-.9zM49.1 77.5h.9v.9h-.9zM70.2 52.2h.9v.9h-.9zM67.9 74.6h.9v.9h-.9zM77.9 62.0h.9v.9h-.9zM90.1 86.4h.9v.9h-.9zM87.1 80.7h.9v.9h-.9zM55.5 74.1h.9v.9h-.9zM48.1 33.7h.9v.9h-.9zM66.5 46.4h.9v.9h-.9zM77.9 66.9h.9v.9h-.9zM78.4 50.7h.9v.9h-.9zM75.8 56.8h.9v.9h-.9zM42.1 82.0h.9v.9h-.9zM70.4 78.5h.9v.9h-.9zM92.5 55.5h.9v.9h-.9zM77.4 90.0h.9v.9h-.9zM63.1 51.7h.9v.9h-.9zM59.5 64.7h.9v.9h-.9zM73.7 57.4h.9v.9h-.9zM61.2 60.7h.9v.9h-.9zM80.9 37.2h.9v.9h-.9zM96.4 40.5h.9v.9h-.9zM93.9 35.3h.9v.9h-.9zM64.4 61.0h.9v.9h-.9zM62.1 55.5h.9v.9h-.9zM58.7 88.8h.9v.9h-.9zM57.5 66.2h.9v.9h-.9zM59.6 64.2h.9v.9h-.9zM63.3 88.3h.9v.9h-.9zM81.3 57.6h.9v.9h-.9zM73.5 34.6h.9v.9h-.9zM81.9 82.8h.9v.9h-.9zM55.7 31.8h.9v.9h-.9zM88.6 30.3h.9v.9h-.9zM73.1 41.4h.9v.9h-.9zM70.5 52.8h.9v.9h-.9zM60.0 50.0h.9v.9h-.9zM79.8 81.7h.9v.9h-.9zM57.9 55.4h.9v.9h-.9zM46.3 35.8h.9v.9h-.9zM50.6 60.3h.9v.9h-.9zM53.6 28.2h.9v.9h-.9zM46.6 38.8h.9v.9h-.9zM80.3 46.1h.9v.9h-.9zM82.8 35.2h.9v.9h-.9zM57.6 50.5h.9v.9h-.9zM64.9 31.4h.9v.9h-.9zM34.8 42.7h.9v.9h-.9zM85.6 43.7h.9v.9h-.9zM67.8 33.7h.9v.9h-.9zM60.7 70.1h.9v.9h-.9zM76.2 31.5h.9v.9h-.9zM87.7 90.1h.9v.9h-.9zM76.9 46.5h.9v.9h-.9zM103.2 47.4h.9v.9h-.9zM47.7 54.4h.9v.9h-.9zM47.7 55.2h.9v.9h-.9zM45.1 51.4h.9v.9h-.9zM48.5 74.3h.9v.9h-.9zM74.5 83.7h.9v.9h-.9zM30.2 62.7h.9v.9h-.9zM62.5 87.8h.9v.9h-.9zM34.7 47.7h.9v.9h-.9zM57.8 44.8h.9v.9h-.9zM91.9 51.3h.9v.9h-.9zM47.9 63.4h.9v.9h-.9zM92.0 62.5h.9v.9h-.9zM81.4 90.6h.9v.9h-.9zM59.0 70.3h.9v.9h-.9zM64.5 90.2h.9v.9h-.9zM79.9 72.2h.9v.9h-.9zM52.1 84.3h.9v.9h-.9zM99.5 76.5h.9v.9h-.9zM68.5 43.4h.9v.9h-.9zM37.2 52.3h.9v.9h-.9zM79.2 62.9h.9v.9h-.9zM94.7 50.9h.9v.9h-.9zM45.6 49.9h.9v.9h-.9zM74.9 41.8h.9v.9h-.9zM67.1 37.9h.9v.9h-.9zM77.4 50.4h.9v.9h-.9zM43.6 86.9h.9v.9h-.9zM35.6 64.8h.9v.9h-.9zM77.6 78.4h.9v.9h-.9zM89.2 60.8h.9v.9h-.9zM84.1 40.4h.9v.9h-.9zM84.1 82.1h.9v.9h-.9zM65.1 47.7h.9v.9h-.9zM85.7 82.6h.9v.9h-.9zM41.0 84.3h.9v.9h-.9zM67.1 49.2h.9v.9h-.9zM86.6 36.7h.9v.9h-.9zM70.3 56.0h.9v.9h-.9zM57.6 72.5h.9v.9h-.9zM74.8 75.0h.9v.9h-.9zM80.6 65.1h.9v.9h-.9zM56.5 43.2h.9v.9h-.9zM101.4 68.1h.9v.9h-.9zM97.6 76.2h.9v.9h-.9zM83.6 62.4h.9v.9h-.9zM74.4 77.6h.9v.9h-.9zM48.3 78.1h.9v.9h-.9zM83.3 55.3h.9v.9h-.9zM52.8 77.5h.9v.9h-.9zM53.8 89.3h.9v.9h-.9zM64.1 57.3h.9v.9h-.9zM87.9 51.1h.9v.9h-.9zM54.7 67.9h.9v.9h-.9zM47.5 58.9h.9v.9h-.9zM91.9 48.4h.9v.9h-.9zM82.0 45.0h.9v.9h-.9zM61.4 40.2h.9v.9h-.9zM101.0 60.2h.9v.9h-.9zM82.0 85.8h.9v.9h-.9zM46.1 88.0h.9v.9h-.9zM91.6 45.6h.9v.9h-.9zM60.4 75.9h.9v.9h-.9zM64.7 52.7h.9v.9h-.9zM90.9 56.4h.9v.9h-.9zM70.9 24.5h.9v.9h-.9zM84.2 59.0h.9v.9h-.9zM73.4 30.8h.9v.9h-.9zM53.3 87.6h.9v.9h-.9zM69.4 39.3h.9v.9h-.9zM67.7 50.0h.9v.9h-.9zM59.1 26.3h.9v.9h-.9zM49.2 74.5h.9v.9h-.9zM96.9 74.0h.9v.9h-.9zM58.9 61.5h.9v.9h-.9zM63.1 43.5h.9v.9h-.9zM30.7 58.2h.9v.9h-.9zM59.0 87.4h.9v.9h-.9zM63.5 72.0h.9v.9h-.9zM57.9 75.9h.9v.9h-.9zM54.0 66.8h.9v.9h-.9zM79.4 59.7h.9v.9h-.9zM85.3 81.4h.9v.9h-.9zM56.8 67.1h.9v.9h-.9zM89.2 34.8h.9v.9h-.9zM43.7 57.8h.9v.9h-.9zM70.8 49.1h.9v.9h-.9zM72.7 90.5h.9v.9h-.9zM97.2 45.3h.9v.9h-.9zM64.2 88.0h.9v.9h-.9zM97.8 54.8h.9v.9h-.9zM63.5 85.0h.9v.9h-.9zM51.2 74.1h.9v.9h-.9zM64.0 86.4h.9v.9h-.9zM77.3 75.7h.9v.9h-.9zM84.2 75.7h.9v.9h-.9zM47.3 43.7h.9v.9h-.9zM99.6 58.7h.9v.9h-.9zM37.0 84.4h.9v.9h-.9zM68.8 63.2h.9v.9h-.9zM86.5 52.0h.9v.9h-.9zM96.2 65.4h.9v.9h-.9zM93.8 72.9h.9v.9h-.9zM69.3 33.0h.9v.9h-.9zM62.5 50.7h.9v.9h-.9zM79.2 34.2h.9v.9h-.9zM86.5 54.3h.9v.9h-.9zM98.5 65.4h.9v.9h-.9zM77.5 39.3h.9v.9h-.9zM64.9 45.6h.9v.9h-.9zM70.5 22.4h.9v.9h-.9zM73.9 42.2h.9v.9h-.9zM29.8 59.1h.9v.9h-.9zM99.6 54.4h.9v.9h-.9zM63.5 36.1h.9v.9h-.9zM72.3 67.0h.9v.9h-.9zM74.1 60.0h.9v.9h-.9zM66.7 37.1h.9v.9h-.9zM42.4 46.1h.9v.9h-.9zM43.4 65.6h.9v.9h-.9zM77.9 43.8h.9v.9h-.9zM59.6 31.5h.9v.9h-.9zM52.8 80.2h.9v.9h-.9zM75.4 36.3h.9v.9h-.9zM67.2 29.5h.9v.9h-.9zM60.6 89.2h.9v.9h-.9zM36.1 85.5h.9v.9h-.9zM56.3 59.1h.9v.9h-.9zM50.8 85.6h.9v.9h-.9zM50.1 67.7h.9v.9h-.9zM45.7 49.2h.9v.9h-.9zM76.3 75.7h.9v.9h-.9zM47.2 46.6h.9v.9h-.9zM70.5 60.2h.9v.9h-.9zM91.1 66.6h.9v.9h-.9zM73.9 58.7h.9v.9h-.9zM68.7 44.0h.9v.9h-.9zM51.5 77.3h.9v.9h-.9zM79.7 46.2h.9v.9h-.9zM70.3 55.3h.9v.9h-.9zM48.7 66.8h.9v.9h-.9zM63.4 73.5h.9v.9h-.9zM40.3 67.8h.9v.9h-.9zM62.9 73.6h.9v.9h-.9zM83.0 84.7h.9v.9h-.9zM77.9 44.7h.9v.9h-.9zM88.4 38.9h.9v.9h-.9zM80.8 24.5h.9v.9h-.9zM41.7 60.6h.9v.9h-.9zM87.6 73.2h.9v.9h-.9zM94.2 59.5h.9v.9h-.9zM81.8 45.0h.9v.9h-.9zM63.3 43.2h.9v.9h-.9zM81.9 44.4h.9v.9h-.9zM75.0 58.5h.9v.9h-.9zM66.1 51.8h.9v.9h-.9zM80.0 69.7h.9v.9h-.9zM65.6 74.4h.9v.9h-.9zM60.7 87.9h.9v.9h-.9zM68.6 66.9h.9v.9h-.9zM94.9 46.4h.9v.9h-.9zM49.0 53.9h.9v.9h-.9zM97.3 63.2h.9v.9h-.9zM72.6 30.5h.9v.9h-.9zM61.2 38.6h.9v.9h-.9zM64.8 74.5h.9v.9h-.9zM56.5 77.0h.9v.9h-.9zM63.5 70.4h.9v.9h-.9zM72.6 73.4h.9v.9h-.9zM89.3 62.4h.9v.9h-.9zM44.9 57.3h.9v.9h-.9zM75.7 60.8h.9v.9h-.9zM61.6 38.7h.9v.9h-.9zM51.0 94.7h.9v.9h-.9zM42.6 77.1h.9v.9h-.9zM38.3 63.1h.9v.9h-.9zM59.8 74.2h.9v.9h-.9zM52.5 73.0h.9v.9h-.9zM75.9 31.0h.9v.9h-.9zM88.7 68.0h.9v.9h-.9zM69.7 86.4h.9v.9h-.9zM77.5 58.9h.9v.9h-.9zM84.5 67.5h.9v.9h-.9zM56.1 70.3h.9v.9h-.9zM30.9 62.5h.9v.9h-.9zM63.1 39.0h.9v.9h-.9zM81.7 40.4h.9v.9h-.9zM66.5 49.6h.9v.9h-.9zM77.2 90.5h.9v.9h-.9zM38.5 79.7h.9v.9h-.9zM46.8 60.8h.9v.9h-.9zM79.9 66.2h.9v.9h-.9zM59.9 74.2h.9v.9h-.9zM86.1 78.0h.9v.9h-.9zM80.5 34.1h.9v.9h-.9zM76.8 67.0h.9v.9h-.9zM47.7 77.9h.9v.9h-.9zM81.5 58.8h.9v.9h-.9zM43.6 71.3h.9v.9h-.9zM76.3 44.2h.9v.9h-.9zM66.6 73.8h.9v.9h-.9zM79.2 91.8h.9v.9h-.9zM49.6 78.3h.9v.9h-.9zM74.1 83.9h.9v.9h-.9zM80.4 43.5h.9v.9h-.9zM76.1 61.3h.9v.9h-.9zM72.4 72.2h.9v.9h-.9zM82.9 89.9h.9v.9h-.9zM30.4 48.1h.9v.9h-.9zM54.1 71.9h.9v.9h-.9zM85.3 57.3h.9v.9h-.9zM65.8 69.7h.9v.9h-.9zM55.2 56.8h.9v.9h-.9zM50.9 57.7h.9v.9h-.9zM65.5 75.4h.9v.9h-.9zM62.2 75.9h.9v.9h-.9zM73.8 55.1h.9v.9h-.9zM40.5 46.3h.9v.9h-.9zM46.8 85.2h.9v.9h-.9zM97.8 62.8h.9v.9h-.9zM52.9 32.9h.9v.9h-.9zM84.4 28.4h.9v.9h-.9zM79.8 38.6h.9v.9h-.9zM73.9 74.1h.9v.9h-.9zM41.6 65.9h.9v.9h-.9zM81.5 83.7h.9v.9h-.9zM75.1 52.6h.9v.9h-.9zM54.2 34.0h.9v.9h-.9zM56.0 29.5h.9v.9h-.9zM45.1 66.7h.9v.9h-.9zM65.0 43.6h.9v.9h-.9zM55.3 23.0h.9v.9h-.9zM64.2 79.4h.9v.9h-.9zM64.3 87.1h.9v.9h-.9zM76.0 87.4h.9v.9h-.9zM87.8 82.7h.9v.9h-.9zM74.4 75.8h.9v.9h-.9zM57.0 42.8h.9v.9h-.9zM99.7 49.3h.9v.9h-.9zM56.8 74.7h.9v.9h-.9zM98.6 58.5h.9v.9h-.9zM71.1 48.3h.9v.9h-.9zM87.0 56.3h.9v.9h-.9zM62.7 67.8h.9v.9h-.9zM85.4 92.7h.9v.9h-.9zM97.1 44.3h.9v.9h-.9zM69.0 65.1h.9v.9h-.9zM40.3 52.8h.9v.9h-.9zM73.4 78.2h.9v.9h-.9zM100.5 62.5h.9v.9h-.9zM75.5 65.8h.9v.9h-.9zM84.0 84.3h.9v.9h-.9zM45.5 78.4h.9v.9h-.9zM77.1 51.3h.9v.9h-.9zM69.1 51.1h.9v.9h-.9zM45.8 78.0h.9v.9h-.9zM86.8 37.3h.9v.9h-.9zM56.9 55.1h.9v.9h-.9zM51.9 52.4h.9v.9h-.9zM54.1 62.3h.9v.9h-.9zM62.7 66.2h.9v.9h-.9zM56.9 35.3h.9v.9h-.9zM67.5 58.4h.9v.9h-.9zM42.6 50.9h.9v.9h-.9zM66.4 26.3h.9v.9h-.9zM70.1 75.1h.9v.9h-.9zM50.2 57.8h.9v.9h-.9zM67.2 94.9h.9v.9h-.9zM62.8 32.2h.9v.9h-.9zM53.2 44.1h.9v.9h-.9zM57.8 54.1h.9v.9h-.9zM69.0 40.0h.9v.9h-.9zM79.2 81.7h.9v.9h-.9zM66.1 53.5h.9v.9h-.9zM38.8 83.7h.9v.9h-.9zM46.8 92.1h.9v.9h-.9zM61.6 68.2h.9v.9h-.9zM60.2 38.1h.9v.9h-.9zM79.6 59.4h.9v.9h-.9zM66.3 43.0h.9v.9h-.9zM49.8 57.7h.9v.9h-.9zM34.8 58.0h.9v.9h-.9zM71.3 37.7h.9v.9h-.9zM75.9 96.5h.9v.9h-.9zM68.3 66.5h.9v.9h-.9zM43.2 50.1h.9v.9h-.9zM92.5 50.7h.9v.9h-.9zM87.0 62.2h.9v.9h-.9zM61.1 89.2h.9v.9h-.9zM57.8 50.4h.9v.9h-.9zM79.7 57.3h.9v.9h-.9zM52.1 60.3h.9v.9h-.9zM97.5 80.0h.9v.9h-.9zM51.6 85.8h.9v.9h-.9zM30.4 64.4h.9v.9h-.9zM60.2 75.6h.9v.9h-.9zM88.5 68.0h.9v.9h-.9zM68.2 53.5h.9v.9h-.9zM54.6 33.6h.9v.9h-.9zM99.0 74.2h.9v.9h-.9zM90.5 38.2h.9v.9h-.9zM50.0 81.9h.9v.9h-.9zM54.7 83.1h.9v.9h-.9zM81.1 74.9h.9v.9h-.9zM86.0 62.1h.9v.9h-.9zM66.7 65.2h.9v.9h-.9zM59.8 25.7h.9v.9h-.9zM74.9 77.3h.9v.9h-.9zM73.5 54.2h.9v.9h-.9zM75.4 26.8h.9v.9h-.9zM56.0 34.4h.9v.9h-.9zM52.7 50.8h.9v.9h-.9zM85.2 69.1h.9v.9h-.9zM92.9 52.7h.9v.9h-.9zM61.4 55.8h.9v.9h-.9zM72.8 57.6h.9v.9h-.9zM76.6 78.4h.9v.9h-.9zM90.3 54.2h.9v.9h-.9zM98.4 39.5h.9v.9h-.9zM62.4 54.6h.9v.9h-.9zM49.1 39.2h.9v.9h-.9zM49.5 56.4h.9v.9h-.9zM97.5 54.0h.9v.9h-.9zM69.3 27.9h.9v.9h-.9zM53.1 72.4h.9v.9h-.9zM70.2 62.2h.9v.9h-.9zM65.7 81.7h.9v.9h-.9zM58.6 45.8h.9v.9h-.9zM46.9 47.8h.9v.9h-.9zM61.5 38.3h.9v.9h-.9zM63.7 85.6h.9v.9h-.9zM58.1 81.1h.9v.9h-.9zM49.2 84.6h.9v.9h-.9zM83.1 78.2h.9v.9h-.9zM71.2 52.7h.9v.9h-.9zM34.5 57.0h.9v.9h-.9zM72.5 34.4h.9v.9h-.9zM58.3 97.5h.9v.9h-.9zM76.8 59.3h.9v.9h-.9zM102.2 50.1h.9v.9h-.9zM83.5 39.4h.9v.9h-.9zM47.9 59.8h.9v.9h-.9zM69.3 39.3h.9v.9h-.9zM70.6 89.0h.9v.9h-.9zM72.8 47.1h.9v.9h-.9zM85.7 61.0h.9v.9h-.9zM74.1 26.8h.9v.9h-.9zM62.2 87.2h.9v.9h-.9zM58.3 67.2h.9v.9h-.9zM65.4 44.6h.9v.9h-.9zM64.6 37.9h.9v.9h-.9zM75.3 41.9h.9v.9h-.9zM50.1 78.8h.9v.9h-.9zM85.6 51.2h.9v.9h-.9zM64.3 68.9h.9v.9h-.9zM49.7 71.3h.9v.9h-.9zM88.0 69.0h.9v.9h-.9zM41.2 73.5h.9v.9h-.9zM63.3 97.2h.9v.9h-.9zM71.0 52.1h.9v.9h-.9zM102.5 55.1h.9v.9h-.9zM56.9 42.6h.9v.9h-.9zM74.0 98.3h.9v.9h-.9zM58.0 68.1h.9v.9h-.9zM31.1 63.4h.9v.9h-.9zM36.4 54.6h.9v.9h-.9zM43.6 56.6h.9v.9h-.9zM50.0 67.3h.9v.9h-.9zM77.1 28.7h.9v.9h-.9zM68.4 44.0h.9v.9h-.9zM52.0 59.3h.9v.9h-.9zM69.7 43.0h.9v.9h-.9zM93.5 75.9h.9v.9h-.9zM39.2 34.8h.9v.9h-.9zM54.0 29.8h.9v.9h-.9zM86.8 52.3h.9v.9h-.9zM67.0 64.7h.9v.9h-.9zM60.2 78.7h.9v.9h-.9zM60.3 83.7h.9v.9h-.9zM52.1 39.9h.9v.9h-.9zM80.9 90.0h.9v.9h-.9zM72.0 63.3h.9v.9h-.9zM71.6 81.6h.9v.9h-.9zM55.3 67.6h.9v.9h-.9zM66.6 72.8h.9v.9h-.9zM68.1 70.0h.9v.9h-.9zM91.7 53.6h.9v.9h-.9zM50.7 58.6h.9v.9h-.9zM64.7 90.1h.9v.9h-.9zM42.3 65.2h.9v.9h-.9zM68.4 52.2h.9v.9h-.9zM71.0 44.3h.9v.9h-.9zM58.3 67.2h.9v.9h-.9zM56.0 66.7h.9v.9h-.9zM72.6 86.9h.9v.9h-.9zM45.7 88.3h.9v.9h-.9zM84.1 70.0h.9v.9h-.9zM69.1 81.0h.9v.9h-.9zM60.0 58.9h.9v.9h-.9zM64.9 78.8h.9v.9h-.9zM98.8 51.0h.9v.9h-.9zM41.3 45.1h.9v.9h-.9zM78.9 79.6h.9v.9h-.9zM69.7 37.1h.9v.9h-.9zM84.3 48.7h.9v.9h-.9zM84.2 63.9h.9v.9h-.9zM59.4 81.2h.9v.9h-.9zM82.9 87.6h.9v.9h-.9zM57.8 60.3h.9v.9h-.9zM70.0 41.5h.9v.9h-.9zM89.8 70.1h.9v.9h-.9zM46.0 86.1h.9v.9h-.9zM91.5 46.5h.9v.9h-.9zM102.7 58.0h.9v.9h-.9zM54.7 48.1h.9v.9h-.9zM85.0 45.6h.9v.9h-.9zM53.6 66.9h.9v.9h-.9zM40.0 56.4h.9v.9h-.9zM43.7 51.9h.9v.9h-.9zM57.0 55.4h.9v.9h-.9zM87.0 57.5h.9v.9h-.9zM70.2 50.8h.9v.9h-.9zM52.5 55.6h.9v.9h-.9zM97.9 39.6h.9v.9h-.9zM64.3 38.2h.9v.9h-.9zM74.4 63.9h.9v.9h-.9zM59.9 40.7h.9v.9h-.9zM83.5 93.9h.9v.9h-.9zM78.0 63.2h.9v.9h-.9zM43.8 66.6h.9v.9h-.9zM47.2 61.1h.9v.9h-.9zM41.0 50.7h.9v.9h-.9zM81.0 96.6h.9v.9h-.9zM65.8 23.8h.9v.9h-.9zM84.9 74.6h.9v.9h-.9zM97.2 50.3h.9v.9h-.9zM82.6 42.7h.9v.9h-.9zM84.9 51.4h.9v.9h-.9zM54.9 73.2h.9v.9h-.9zM58.0 73.0h.9v.9h-.9zM63.0 41.5h.9v.9h-.9zM61.8 80.4h.9v.9h-.9zM94.6 53.9h.9v.9h-.9zM72.0 48.2h.9v.9h-.9zM84.6 61.5h.9v.9h-.9zM90.4 72.8h.9v.9h-.9zM73.9 89.0h.9v.9h-.9zM65.2 38.4h.9v.9h-.9zM58.4 87.7h.9v.9h-.9zM83.8 53.7h.9v.9h-.9zM51.6 52.9h.9v.9h-.9zM58.4 45.4h.9v.9h-.9zM64.1 59.2h.9v.9h-.9zM69.2 66.7h.9v.9h-.9zM57.1 51.2h.9v.9h-.9zM73.1 75.3h.9v.9h-.9zM74.8 60.1h.9v.9h-.9zM100.1 60.5h.9v.9h-.9zM40.1 36.7h.9v.9h-.9zM49.5 69.9h.9v.9h-.9zM50.3 86.0h.9v.9h-.9zM75.2 74.9h.9v.9h-.9zM78.9 92.8h.9v.9h-.9zM84.5 56.5h.9v.9h-.9zM80.8 33.1h.9v.9h-.9zM75.8 97.4h.9v.9h-.9zM63.1 72.2h.9v.9h-.9zM86.2 55.8h.9v.9h-.9zM66.2 77.3h.9v.9h-.9zM59.6 63.1h.9v.9h-.9zM56.7 40.1h.9v.9h-.9zM69.3 59.0h.9v.9h-.9zM43.0 47.8h.9v.9h-.9zM56.3 74.9h.9v.9h-.9zM74.2 57.2h.9v.9h-.9zM68.5 88.2h.9v.9h-.9zM88.7 49.1h.9v.9h-.9zM91.6 49.0h.9v.9h-.9zM91.7 74.5h.9v.9h-.9zM55.7 66.6h.9v.9h-.9zM75.3 76.6h.9v.9h-.9zM47.2 78.5h.9v.9h-.9zM59.0 64.0h.9v.9h-.9zM61.0 49.1h.9v.9h-.9zM44.8 52.0h.9v.9h-.9zM62.2 62.7h.9v.9h-.9zM87.4 57.0h.9v.9h-.9zM60.6 44.4h.9v.9h-.9zM56.2 71.1h.9v.9h-.9zM63.8 83.5h.9v.9h-.9zM37.5 84.0h.9v.9h-.9zM84.8 83.8h.9v.9h-.9zM62.1 30.1h.9v.9h-.9zM65.7 63.5h.9v.9h-.9zM61.7 82.7h.9v.9h-.9zM57.6 75.1h.9v.9h-.9zM58.3 44.1h.9v.9h-.9zM73.8 48.2h.9v.9h-.9zM45.6 62.4h.9v.9h-.9zM74.7 80.6h.9v.9h-.9zM85.5 68.3h.9v.9h-.9zM95.8 69.0h.9v.9h-.9zM71.2 58.3h.9v.9h-.9zM78.6 52.0h.9v.9h-.9zM36.3 54.2h.9v.9h-.9zM84.7 60.0h.9v.9h-.9zM51.4 76.2h.9v.9h-.9zM102.7 67.2h.9v.9h-.9zM106.5 59.4h.9v.9h-.9zM42.3 40.9h.9v.9h-.9zM68.4 89.7h.9v.9h-.9zM56.4 62.9h.9v.9h-.9zM64.0 55.8h.9v.9h-.9zM78.6 85.5h.9v.9h-.9zM67.4 56.0h.9v.9h-.9zM67.0 82.4h.9v.9h-.9zM54.8 42.9h.9v.9h-.9zM85.0 45.8h.9v.9h-.9zM46.2 81.2h.9v.9h-.9zM84.2 78.6h.9v.9h-.9zM42.2 63.6h.9v.9h-.9zM93.3 44.5h.9v.9h-.9zM44.3 56.3h.9v.9h-.9zM58.6 46.7h.9v.9h-.9zM80.7 64.6h.9v.9h-.9zM27.2 50.6h.9v.9h-.9zM57.3 59.6h.9v.9h-.9zM96.8 77.6h.9v.9h-.9zM74.3 78.2h.9v.9h-.9zM66.9 27.3h.9v.9h-.9zM36.1 60.3h.9v.9h-.9zM57.1 93.1h.9v.9h-.9zM72.0 78.2h.9v.9h-.9zM37.1 46.2h.9v.9h-.9zM61.8 61.5h.9v.9h-.9zM65.0 91.4h.9v.9h-.9zM77.8 91.2h.9v.9h-.9zM47.9 82.9h.9v.9h-.9zM64.9 73.3h.9v.9h-.9zM81.1 79.1h.9v.9h-.9zM34.8 78.1h.9v.9h-.9zM50.1 75.0h.9v.9h-.9zM72.1 65.6h.9v.9h-.9zM69.5 51.2h.9v.9h-.9zM39.9 40.3h.9v.9h-.9zM41.9 80.2h.9v.9h-.9zM56.2 97.9h.9v.9h-.9zM74.3 86.6h.9v.9h-.9zM74.7 34.4h.9v.9h-.9zM66.4 73.0h.9v.9h-.9zM30.1 69.5h.9v.9h-.9zM67.6 34.5h.9v.9h-.9zM75.0 78.8h.9v.9h-.9zM84.7 79.3h.9v.9h-.9zM68.3 74.2h.9v.9h-.9zM94.4 33.8h.9v.9h-.9zM63.7 83.5h.9v.9h-.9zM75.3 65.6h.9v.9h-.9zM34.6 75.0h.9v.9h-.9zM83.3 70.9h.9v.9h-.9zM71.3 97.4h.9v.9h-.9zM59.0 42.8h.9v.9h-.9zM78.3 46.0h.9v.9h-.9zM46.4 25.2h.9v.9h-.9zM71.8 77.8h.9v.9h-.9zM36.2 83.6h.9v.9h-.9zM34.0 78.0h.9v.9h-.9zM67.0 88.6h.9v.9h-.9zM68.1 85.0h.9v.9h-.9zM56.2 69.4h.9v.9h-.9zM83.3 51.5h.9v.9h-.9zM69.4 28.2h.9v.9h-.9zM73.5 22.4h.9v.9h-.9zM98.1 78.5h.9v.9h-.9zM89.8 63.3h.9v.9h-.9zM53.8 66.8h.9v.9h-.9zM85.9 54.5h.9v.9h-.9zM66.5 53.4h.9v.9h-.9zM35.4 64.4h.9v.9h-.9zM62.5 23.6h.9v.9h-.9zM80.5 31.6h.9v.9h-.9zM73.6 72.5h.9v.9h-.9zM79.0 73.7h.9v.9h-.9zM46.7 38.3h.9v.9h-.9zM92.8 31.7h.9v.9h-.9zM66.3 36.1h.9v.9h-.9zM93.8 46.5h.9v.9h-.9zM63.5 25.9h.9v.9h-.9zM80.2 48.4h.9v.9h-.9zM73.8 65.9h.9v.9h-.9zM47.7 68.9h.9v.9h-.9zM37.1 32.3h.9v.9h-.9zM37.7 80.9h.9v.9h-.9zM68.2 91.7h.9v.9h-.9zM83.9 64.4h.9v.9h-.9zM64.6 48.0h.9v.9h-.9zM54.4 80.3h.9v.9h-.9zM100.6 59.0h.9v.9h-.9zM59.5 85.7h.9v.9h-.9zM91.1 61.2h.9v.9h-.9zM56.4 92.5h.9v.9h-.9zM81.4 61.4h.9v.9h-.9zM36.0 40.7h.9v.9h-.9zM76.3 64.0h.9v.9h-.9zM83.1 57.6h.9v.9h-.9zM32.1 65.5h.9v.9h-.9zM42.7 78.8h.9v.9h-.9zM60.3 68.3h.9v.9h-.9zM29.0 59.5h.9v.9h-.9zM58.9 77.2h.9v.9h-.9zM47.8 64.3h.9v.9h-.9zM73.7 73.1h.9v.9h-.9zM30.5 76.8h.9v.9h-.9zM68.7 44.9h.9v.9h-.9zM76.3 33.4h.9v.9h-.9zM68.1 87.5h.9v.9h-.9zM46.1 36.6h.9v.9h-.9zM65.0 85.4h.9v.9h-.9zM58.0 87.2h.9v.9h-.9zM75.7 79.9h.9v.9h-.9zM66.3 99.0h.9v.9h-.9zM52.2 52.6h.9v.9h-.9zM87.5 33.0h.9v.9h-.9zM94.7 61.2h.9v.9h-.9zM64.1 40.2h.9v.9h-.9zM58.6 53.7h.9v.9h-.9zM77.6 91.6h.9v.9h-.9zM59.6 87.7h.9v.9h-.9zM65.3 55.0h.9v.9h-.9zM28.5 47.9h.9v.9h-.9zM32.8 67.1h.9v.9h-.9zM68.7 42.2h.9v.9h-.9zM83.2 52.7h.9v.9h-.9zM71.6 66.8h.9v.9h-.9zM78.3 44.1h.9v.9h-.9zM65.9 93.5h.9v.9h-.9zM62.5 52.1h.9v.9h-.9zM66.7 41.7h.9v.9h-.9zM71.5 86.4h.9v.9h-.9zM31.1 58.1h.9v.9h-.9zM57.3 47.1h.9v.9h-.9zM101.5 74.7h.9v.9h-.9zM66.4 73.1h.9v.9h-.9zM79.4 85.0h.9v.9h-.9zM72.5 31.1h.9v.9h-.9zM52.1 49.6h.9v.9h-.9zM85.5 72.5h.9v.9h-.9zM31.1 68.9h.9v.9h-.9zM71.6 49.8h.9v.9h-.9zM41.1 74.4h.9v.9h-.9zM72.1 63.7h.9v.9h-.9zM65.8 63.4h.9v.9h-.9zM43.1 58.9h.9v.9h-.9zM68.4 76.4h.9v.9h-.9zM94.6 64.6h.9v.9h-.9zM39.6 47.2h.9v.9h-.9zM65.9 59.5h.9v.9h-.9zM42.7 58.0h.9v.9h-.9zM68.8 64.7h.9v.9h-.9zM64.9 45.9h.9v.9h-.9zM44.9 25.8h.9v.9h-.9zM53.2 64.8h.9v.9h-.9zM48.0 60.4h.9v.9h-.9zM49.5 82.5h.9v.9h-.9zM65.1 51.8h.9v.9h-.9zM85.8 93.5h.9v.9h-.9zM78.3 75.4h.9v.9h-.9zM42.9 51.8h.9v.9h-.9zM74.8 64.5h.9v.9h-.9zM54.9 49.3h.9v.9h-.9zM63.1 56.8h.9v.9h-.9zM69.6 52.0h.9v.9h-.9zM59.0 90.4h.9v.9h-.9zM62.0 59.1h.9v.9h-.9zM68.8 61.9h.9v.9h-.9zM95.2 37.7h.9v.9h-.9zM51.9 76.8h.9v.9h-.9zM78.5 35.2h.9v.9h-.9zM50.6 50.8h.9v.9h-.9zM56.6 36.3h.9v.9h-.9zM77.3 72.1h.9v.9h-.9zM71.2 65.6h.9v.9h-.9zM95.2 64.4h.9v.9h-.9zM83.0 54.4h.9v.9h-.9zM47.2 76.4h.9v.9h-.9zM89.4 75.0h.9v.9h-.9zM78.4 38.6h.9v.9h-.9zM63.2 40.8h.9v.9h-.9zM51.3 60.6h.9v.9h-.9zM80.1 29.9h.9v.9h-.9zM58.3 51.1h.9v.9h-.9zM67.4 75.3h.9v.9h-.9zM70.7 64.9h.9v.9h-.9zM99.0 45.8h.9v.9h-.9zM53.2 71.3h.9v.9h-.9zM59.3 72.3h.9v.9h-.9zM47.8 39.7h.9v.9h-.9zM88.6 64.8h.9v.9h-.9zM66.9 47.9h.9v.9h-.9zM85.3 31.7h.9v.9h-.9zM36.8 47.5h.9v.9h-.9zM74.2 39.6h.9v.9h-.9zM76.4 87.5h.9v.9h-.9zM94.1 51.8h.9v.9h-.9zM51.9 43.0h.9v.9h-.9zM32.4 36.5h.9v.9h-.9zM56.6 45.4h.9v.9h-.9zM65.3 56.8h.9v.9h-.9zM61.1 66.9h.9v.9h-.9zM33.4 72.9h.9v.9h-.9zM71.5 67.9h.9v.9h-.9zM95.0 57.5h.9v.9h-.9zM56.5 53.1h.9v.9h-.9zM97.3 78.5h.9v.9h-.9zM54.1 77.8h.9v.9h-.9zM64.1 66.8h.9v.9h-.9zM87.9 66.0h.9v.9h-.9zM58.1 75.3h.9v.9h-.9zM48.4 39.1h.9v.9h-.9zM68.4 51.1h.9v.9h-.9zM70.1 46.4h.9v.9h-.9zM43.7 74.7h.9v.9h-.9zM38.7 56.1h.9v.9h-.9zM69.6 85.0h.9v.9h-.9zM66.4 82.9h.9v.9h-.9zM73.4 67.2h.9v.9h-.9zM79.7 40.6h.9v.9h-.9zM75.1 59.8h.9v.9h-.9zM95.4 49.7h.9v.9h-.9zM77.3 48.4h.9v.9h-.9zM57.1 87.6h.9v.9h-.9zM62.1 34.6h.9v.9h-.9zM56.0 76.4h.9v.9h-.9zM81.7 67.1h.9v.9h-.9zM53.5 84.3h.9v.9h-.9zM70.4 58.4h.9v.9h-.9zM64.9 51.0h.9v.9h-.9zM80.6 47.0h.9v.9h-.9zM58.8 81.6h.9v.9h-.9zM68.6 40.2h.9v.9h-.9zM58.2 52.2h.9v.9h-.9zM39.8 85.2h.9v.9h-.9zM68.0 64.2h.9v.9h-.9zM82.1 72.4h.9v.9h-.9zM73.8 61.6h.9v.9h-.9zM91.6 40.7h.9v.9h-.9zM72.2 88.0h.9v.9h-.9zM89.6 56.0h.9v.9h-.9zM52.8 83.7h.9v.9h-.9zM86.6 27.5h.9v.9h-.9zM59.0 31.1h.9v.9h-.9zM52.3 47.3h.9v.9h-.9zM77.6 93.8h.9v.9h-.9zM65.2 77.9h.9v.9h-.9zM67.3 55.7h.9v.9h-.9zM67.0 66.4h.9v.9h-.9zM82.6 61.0h.9v.9h-.9zM62.2 59.8h.9v.9h-.9zM79.2 36.8h.9v.9h-.9zM40.3 80.8h.9v.9h-.9zM78.6 47.9h.9v.9h-.9zM77.9 93.9h.9v.9h-.9zM58.0 94.2h.9v.9h-.9zM83.0 31.9h.9v.9h-.9zM71.2 43.9h.9v.9h-.9zM97.7 44.5h.9v.9h-.9zM61.0 87.1h.9v.9h-.9zM68.6 29.3h.9v.9h-.9zM65.8 71.5h.9v.9h-.9zM67.0 80.5h.9v.9h-.9zM87.7 43.4h.9v.9h-.9zM78.3 36.5h.9v.9h-.9zM57.0 59.1h.9v.9h-.9zM95.7 67.9h.9v.9h-.9zM87.9 64.7h.9v.9h-.9zM74.9 63.1h.9v.9h-.9zM75.5 67.7h.9v.9h-.9zM86.6 55.8h.9v.9h-.9zM93.2 73.6h.9v.9h-.9zM46.4 55.4h.9v.9h-.9zM67.2 70.7h.9v.9h-.9zM56.7 27.8h.9v.9h-.9zM81.8 56.4h.9v.9h-.9zM70.8 50.4h.9v.9h-.9zM90.4 68.2h.9v.9h-.9zM74.5 44.5h.9v.9h-.9zM69.7 94.1h.9v.9h-.9zM83.4 74.6h.9v.9h-.9zM101.5 56.9h.9v.9h-.9zM60.2 80.8h.9v.9h-.9zM41.2 76.4h.9v.9h-.9zM66.5 57.6h.9v.9h-.9zM87.7 31.3h.9v.9h-.9zM61.5 43.9h.9v.9h-.9zM61.0 55.1h.9v.9h-.9zM88.4 71.7h.9v.9h-.9zM30.7 51.5h.9v.9h-.9zM85.1 62.8h.9v.9h-.9zM67.2 72.5h.9v.9h-.9zM79.2 32.3h.9v.9h-.9zM91.5 60.7h.9v.9h-.9zM45.1 75.0h.9v.9h-.9zM32.9 60.9h.9v.9h-.9zM68.1 62.8h.9v.9h-.9zM69.7 47.6h.9v.9h-.9zM70.4 56.5h.9v.9h-.9zM57.0 57.9h.9v.9h-.9zM60.0 86.6h.9v.9h-.9zM43.3 33.8h.9v.9h-.9zM76.7 58.6h.9v.9h-.9zM60.4 63.1h.9v.9h-.9zM92.4 76.9h.9v.9h-.9zM61.5 76.9h.9v.9h-.9zM76.7 71.7h.9v.9h-.9zM85.1 69.4h.9v.9h-.9zM61.8 74.8h.9v.9h-.9zM41.3 41.8h.9v.9h-.9zM89.8 43.1h.9v.9h-.9zM99.3 60.9h.9v.9h-.9zM86.6 65.6h.9v.9h-.9zM74.5 59.5h.9v.9h-.9zM48.0 57.6h.9v.9h-.9zM74.2 89.9h.9v.9h-.9zM73.1 64.5h.9v.9h-.9zM42.1 58.1h.9v.9h-.9zM41.3 28.5h.9v.9h-.9zM99.2 63.1h.9v.9h-.9zM70.5 84.7h.9v.9h-.9zM43.0 55.8h.9v.9h-.9zM68.6 57.4h.9v.9h-.9zM73.0 73.4h.9v.9h-.9zM65.9 39.0h.9v.9h-.9zM40.6 68.8h.9v.9h-.9zM62.2 65.3h.9v.9h-.9zM58.1 74.3h.9v.9h-.9zM72.6 54.4h.9v.9h-.9zM62.1 37.6h.9v.9h-.9zM58.7 55.7h.9v.9h-.9zM53.8 48.8h.9v.9h-.9zM33.9 66.2h.9v.9h-.9zM38.4 48.1h.9v.9h-.9zM70.2 61.4h.9v.9h-.9zM86.2 71.7h.9v.9h-.9zM84.1 44.3h.9v.9h-.9zM36.7 51.4h.9v.9h-.9zM66.0 40.2h.9v.9h-.9zM68.9 92.1h.9v.9h-.9zM79.5 52.0h.9v.9h-.9zM43.4 62.9h.9v.9h-.9zM52.5 29.6h.9v.9h-.9zM72.0 79.0h.9v.9h-.9zM68.4 38.3h.9v.9h-.9zM47.7 87.7h.9v.9h-.9zM71.8 51.1h.9v.9h-.9zM53.6 69.3h.9v.9h-.9zM72.0 48.1h.9v.9h-.9zM48.3 70.8h.9v.9h-.9zM82.8 52.0h.9v.9h-.9zM61.3 55.8h.9v.9h-.9zM52.1 48.1h.9v.9h-.9zM75.6 29.7h.9v.9h-.9zM92.5 60.7h.9v.9h-.9zM43.2 34.8h.9v.9h-.9zM45.2 76.3h.9v.9h-.9zM61.4 54.3h.9v.9h-.9zM86.9 56.6h.9v.9h-.9zM94.7 79.3h.9v.9h-.9zM66.2 58.1h.9v.9h-.9zM54.9 68.1h.9v.9h-.9zM67.2 49.3h.9v.9h-.9zM72.4 59.2h.9v.9h-.9zM87.8 79.9h.9v.9h-.9zM39.7 69.0h.9v.9h-.9zM81.6 42.2h.9v.9h-.9zM42.3 66.4h.9v.9h-.9zM47.0 52.2h.9v.9h-.9zM56.4 86.0h.9v.9h-.9zM68.7 62.5h.9v.9h-.9zM38.2 56.5h.9v.9h-.9zM45.6 37.6h.9v.9h-.9zM69.5 83.3h.9v.9h-.9zM57.9 52.6h.9v.9h-.9zM101.4 54.8h.9v.9h-.9zM61.3 59.6h.9v.9h-.9zM34.0 45.2h.9v.9h-.9zM59.4 35.1h.9v.9h-.9zM38.5 76.3h.9v.9h-.9zM44.7 88.8h.9v.9h-.9zM93.8 64.7h.9v.9h-.9zM81.6 76.8h.9v.9h-.9zM45.4 66.4h.9v.9h-.9zM48.5 54.8h.9v.9h-.9zM83.3 85.2h.9v.9h-.9zM57.8 34.5h.9v.9h-.9zM97.6 69.4h.9v.9h-.9zM68.5 97.4h.9v.9h-.9zM48.2 59.7h.9v.9h-.9zM104.7 63.3h.9v.9h-.9zM63.5 82.9h.9v.9h-.9zM69.1 79.5h.9v.9h-.9zM61.9 75.3h.9v.9h-.9zM91.2 50.1h.9v.9h-.9zM69.6 69.4h.9v.9h-.9zM84.8 64.9h.9v.9h-.9zM97.6 45.3h.9v.9h-.9zM32.4 65.5h.9v.9h-.9zM57.2 45.9h.9v.9h-.9zM85.8 55.8h.9v.9h-.9zM70.9 68.2h.9v.9h-.9zM51.2 84.1h.9v.9h-.9zM51.7 38.1h.9v.9h-.9zM56.4 69.9h.9v.9h-.9zM47.8 60.7h.9v.9h-.9zM86.3 69.1h.9v.9h-.9zM75.5 55.8h.9v.9h-.9zM72.3 83.1h.9v.9h-.9zM63.6 56.6h.9v.9h-.9zM31.6 53.9h.9v.9h-.9zM72.6 54.7h.9v.9h-.9zM66.5 43.2h.9v.9h-.9zM83.9 44.1h.9v.9h-.9zM81.7 40.1h.9v.9h-.9zM48.0 44.9h.9v.9h-.9zM51.3 72.1h.9v.9h-.9zM66.5 43.3h.9v.9h-.9zM89.2 66.1h.9v.9h-.9zM77.4 97.8h.9v.9h-.9zM77.0 75.2h.9v.9h-.9zM54.3 68.0h.9v.9h-.9zM53.8 80.5h.9v.9h-.9zM51.6 75.6h.9v.9h-.9zM60.8 57.0h.9v.9h-.9zM80.4 45.1h.9v.9h-.9zM65.6 88.9h.9v.9h-.9zM68.3 45.2h.9v.9h-.9zM37.0 59.6h.9v.9h-.9zM60.3 43.4h.9v.9h-.9zM36.6 63.1h.9v.9h-.9zM94.6 85.7h.9v.9h-.9zM73.7 53.7h.9v.9h-.9zM82.0 71.3h.9v.9h-.9zM45.7 67.6h.9v.9h-.9zM65.1 28.1h.9v.9h-.9zM50.9 63.3h.9v.9h-.9zM59.1 45.4h.9v.9h-.9zM64.8 29.4h.9v.9h-.9zM34.9 61.0h.9v.9h-.9zM75.9 78.5h.9v.9h-.9zM55.0 36.1h.9v.9h-.9zM65.7 80.1h.9v.9h-.9zM55.7 50.5h.9v.9h-.9zM78.1 35.0h.9v.9h-.9zM56.7 83.3h.9v.9h-.9zM71.7 71.2h.9v.9h-.9zM73.2 28.7h.9v.9h-.9zM87.3 75.4h.9v.9h-.9zM59.4 42.7h.9v.9h-.9zM74.2 74.9h.9v.9h-.9zM89.8 39.1h.9v.9h-.9zM56.4 57.2h.9v.9h-.9zM68.1 46.8h.9v.9h-.9zM82.1 37.2h.9v.9h-.9zM88.8 65.9h.9v.9h-.9zM60.1 74.6h.9v.9h-.9zM80.9 35.9h.9v.9h-.9zM71.8 88.5h.9v.9h-.9zM49.6 36.8h.9v.9h-.9zM49.0 37.6h.9v.9h-.9zM60.1 40.9h.9v.9h-.9zM89.0 45.5h.9v.9h-.9zM42.6 42.2h.9v.9h-.9zM79.3 56.6h.9v.9h-.9zM81.4 62.5h.9v.9h-.9zM69.0 48.7h.9v.9h-.9zM44.4 70.4h.9v.9h-.9zM59.1 66.7h.9v.9h-.9zM68.4 49.0h.9v.9h-.9zM73.9 76.8h.9v.9h-.9zM103.9 56.5h.9v.9h-.9zM65.3 68.1h.9v.9h-.9zM43.7 77.2h.9v.9h-.9zM76.8 43.9h.9v.9h-.9zM86.8 66.3h.9v.9h-.9zM31.2 63.7h.9v.9h-.9zM91.1 66.3h.9v.9h-.9zM69.0 64.8h.9v.9h-.9zM96.6 44.3h.9v.9h-.9zM73.2 67.9h.9v.9h-.9zM42.4 62.3h.9v.9h-.9zM49.8 50.3h.9v.9h-.9zM58.0 79.6h.9v.9h-.9zM60.2 35.9h.9v.9h-.9zM54.4 53.7h.9v.9h-.9zM52.1 83.8h.9v.9h-.9zM28.7 51.2h.9v.9h-.9zM88.9 88.5h.9v.9h-.9zM76.8 81.1h.9v.9h-.9zM69.8 45.2h.9v.9h-.9zM88.8 47.7h.9v.9h-.9zM30.3 70.2h.9v.9h-.9zM43.9 80.4h.9v.9h-.9zM76.5 60.7h.9v.9h-.9zM60.7 27.5h.9v.9h-.9zM50.4 77.7h.9v.9h-.9zM48.4 36.8h.9v.9h-.9zM82.3 70.3h.9v.9h-.9zM51.7 88.6h.9v.9h-.9zM51.5 58.0h.9v.9h-.9zM45.9 40.0h.9v.9h-.9zM66.5 60.1h.9v.9h-.9zM86.2 73.1h.9v.9h-.9zM78.8 30.9h.9v.9h-.9zM78.8 82.8h.9v.9h-.9zM85.5 87.0h.9v.9h-.9zM61.0 40.9h.9v.9h-.9zM67.0 72.0h.9v.9h-.9zM77.0 57.4h.9v.9h-.9zM72.3 61.5h.9v.9h-.9zM64.0 41.2h.9v.9h-.9zM45.1 42.2h.9v.9h-.9zM54.9 89.1h.9v.9h-.9zM70.8 66.4h.9v.9h-.9zM99.8 53.3h.9v.9h-.9zM83.3 87.2h.9v.9h-.9zM85.4 80.4h.9v.9h-.9zM62.1 37.1h.9v.9h-.9zM48.0 35.2h.9v.9h-.9zM75.5 99.6h.9v.9h-.9zM68.7 29.8h.9v.9h-.9zM48.3 53.8h.9v.9h-.9zM80.3 46.4h.9v.9h-.9zM86.6 63.9h.9v.9h-.9zM67.6 87.9h.9v.9h-.9zM39.9 47.3h.9v.9h-.9zM47.3 38.3h.9v.9h-.9zM40.4 49.2h.9v.9h-.9zM57.8 48.1h.9v.9h-.9zM74.8 36.3h.9v.9h-.9zM69.2 67.1h.9v.9h-.9zM72.4 37.9h.9v.9h-.9zM35.5 44.2h.9v.9h-.9zM54.1 73.2h.9v.9h-.9zM74.0 28.4h.9v.9h-.9zM51.3 54.8h.9v.9h-.9zM49.3 93.7h.9v.9h-.9zM75.4 80.2h.9v.9h-.9zM67.0 59.3h.9v.9h-.9zM47.6 85.6h.9v.9h-.9zM64.0 61.4h.9v.9h-.9zM69.3 39.9h.9v.9h-.9zM34.3 66.4h.9v.9h-.9zM53.0 39.9h.9v.9h-.9zM60.8 53.8h.9v.9h-.9zM68.8 25.2h.9v.9h-.9zM58.8 33.5h.9v.9h-.9zM71.5 63.7h.9v.9h-.9zM71.5 69.5h.9v.9h-.9zM75.6 56.2h.9v.9h-.9zM56.2 49.9h.9v.9h-.9zM79.2 24.7h.9v.9h-.9zM30.9 58.6h.9v.9h-.9zM46.2 95.2h.9v.9h-.9zM64.4 41.6h.9v.9h-.9zM53.2 56.2h.9v.9h-.9zM34.5 58.9h.9v.9h-.9zM57.1 46.7h.9v.9h-.9zM62.9 86.2h.9v.9h-.9zM76.6 81.8h.9v.9h-.9zM84.3 53.4h.9v.9h-.9zM60.9 45.2h.9v.9h-.9zM85.4 54.6h.9v.9h-.9zM84.9 71.5h.9v.9h-.9zM68.4 64.6h.9v.9h-.9zM53.0 35.8h.9v.9h-.9zM72.7 34.6h.9v.9h-.9zM33.5 58.2h.9v.9h-.9zM90.7 57.2h.9v.9h-.9zM46.6 64.1h.9v.9h-.9zM46.2 73.4h.9v.9h-.9zM72.9 38.3h.9v.9h-.9zM89.6 86.0h.9v.9h-.9zM90.7 53.6h.9v.9h-.9zM52.4 40.2h.9v.9h-.9zM65.6 52.9h.9v.9h-.9zM101.3 59.3h.9v.9h-.9zM32.0 74.1h.9v.9h-.9zM44.0 33.0h.9v.9h-.9zM40.6 54.8h.9v.9h-.9zM91.3 65.0h.9v.9h-.9zM68.0 48.5h.9v.9h-.9zM69.3 71.3h.9v.9h-.9zM41.5 50.2h.9v.9h-.9zM51.9 72.2h.9v.9h-.9zM45.9 50.3h.9v.9h-.9zM104.1 57.9h.9v.9h-.9zM60.7 51.8h.9v.9h-.9zM79.5 60.9h.9v.9h-.9zM88.5 58.7h.9v.9h-.9zM85.6 71.7h.9v.9h-.9zM73.5 53.7h.9v.9h-.9zM73.8 32.3h.9v.9h-.9zM90.0 54.2h.9v.9h-.9zM84.7 78.0h.9v.9h-.9zM53.8 69.8h.9v.9h-.9zM71.5 42.2h.9v.9h-.9zM57.0 34.1h.9v.9h-.9zM60.7 48.7h.9v.9h-.9zM66.1 67.2h.9v.9h-.9zM70.2 30.5h.9v.9h-.9zM60.6 29.2h.9v.9h-.9zM83.0 50.8h.9v.9h-.9zM84.8 44.4h.9v.9h-.9zM29.9 64.6h.9v.9h-.9zM96.7 63.9h.9v.9h-.9zM71.1 27.4h.9v.9h-.9zM49.2 53.2h.9v.9h-.9zM52.3 64.4h.9v.9h-.9zM65.9 82.2h.9v.9h-.9zM63.2 71.0h.9v.9h-.9zM59.8 60.2h.9v.9h-.9zM59.2 65.1h.9v.9h-.9zM71.0 39.9h.9v.9h-.9zM87.1 39.0h.9v.9h-.9zM49.8 36.2h.9v.9h-.9zM102.9 76.6h.9v.9h-.9zM42.1 82.1h.9v.9h-.9zM95.0 63.7h.9v.9h-.9zM48.2 80.4h.9v.9h-.9zM95.9 62.0h.9v.9h-.9zM85.2 45.6h.9v.9h-.9zM34.2 56.4h.9v.9h-.9zM101.4 46.8h.9v.9h-.9zM59.9 34.1h.9v.9h-.9zM54.1 58.8h.9v.9h-.9zM66.4 40.6h.9v.9h-.9zM96.2 57.5h.9v.9h-.9zM56.6 61.5h.9v.9h-.9zM89.5 31.7h.9v.9h-.9zM53.3 32.5h.9v.9h-.9zM74.0 81.0h.9v.9h-.9zM52.8 79.6h.9v.9h-.9zM58.5 51.8h.9v.9h-.9zM92.9 80.6h.9v.9h-.9zM44.0 59.2h.9v.9h-.9zM84.4 42.6h.9v.9h-.9zM50.7 52.8h.9v.9h-.9zM64.1 42.1h.9v.9h-.9zM68.4 56.4h.9v.9h-.9zM48.8 84.6h.9v.9h-.9zM45.2 64.0h.9v.9h-.9zM49.6 54.1h.9v.9h-.9zM81.3 64.8h.9v.9h-.9zM61.9 35.4h.9v.9h-.9zM76.6 53.3h.9v.9h-.9zM57.9 55.0h.9v.9h-.9zM35.9 71.2h.9v.9h-.9zM76.2 77.7h.9v.9h-.9zM64.0 72.3h.9v.9h-.9zM94.0 55.0h.9v.9h-.9zM86.8 61.6h.9v.9h-.9zM51.0 55.8h.9v.9h-.9zM90.4 45.3h.9v.9h-.9zM51.0 62.8h.9v.9h-.9zM52.9 35.7h.9v.9h-.9zM46.3 55.5h.9v.9h-.9zM79.1 78.6h.9v.9h-.9zM92.3 79.2h.9v.9h-.9zM79.0 90.0h.9v.9h-.9zM95.3 37.0h.9v.9h-.9zM60.1 91.2h.9v.9h-.9zM68.0 41.0h.9v.9h-.9zM57.7 42.6h.9v.9h-.9zM57.2 49.3h.9v.9h-.9zM79.5 85.4h.9v.9h-.9zM67.2 43.3h.9v.9h-.9zM86.2 84.0h.9v.9h-.9zM65.7 81.2h.9v.9h-.9zM66.0 32.2h.9v.9h-.9zM75.0 41.6h.9v.9h-.9zM80.3 62.8h.9v.9h-.9zM73.2 79.5h.9v.9h-.9zM37.9 44.5h.9v.9h-.9zM103.1 60.5h.9v.9h-.9zM53.4 84.8h.9v.9h-.9zM51.1 74.9h.9v.9h-.9zM62.1 23.5h.9v.9h-.9zM69.1 57.7h.9v.9h-.9zM88.2 65.9h.9v.9h-.9zM52.8 44.8h.9v.9h-.9zM71.5 67.5h.9v.9h-.9zM63.9 49.4h.9v.9h-.9zM87.7 89.0h.9v.9h-.9zM38.3 54.4h.9v.9h-.9zM80.1 36.5h.9v.9h-.9zM34.1 65.6h.9v.9h-.9zM81.1 52.7h.9v.9h-.9zM83.9 61.2h.9v.9h-.9zM47.0 66.2h.9v.9h-.9zM51.6 60.5h.9v.9h-.9zM78.4 68.6h.9v.9h-.9zM60.3 42.8h.9v.9h-.9zM61.4 77.6h.9v.9h-.9zM64.5 59.3h.9v.9h-.9zM57.9 92.5h.9v.9h-.9zM40.3 59.7h.9v.9h-.9zM78.8 78.3h.9v.9h-.9zM76.8 92.0h.9v.9h-.9zM56.6 87.3h.9v.9h-.9zM56.2 68.9h.9v.9h-.9zM65.7 81.6h.9v.9h-.9zM47.3 70.9h.9v.9h-.9zM60.8 75.6h.9v.9h-.9zM69.2 88.2h.9v.9h-.9zM85.3 60.5h.9v.9h-.9zM89.6 72.6h.9v.9h-.9zM60.6 28.7h.9v.9h-.9zM75.6 62.4h.9v.9h-.9zM64.8 39.9h.9v.9h-.9zM46.4 93.0h.9v.9h-.9zM35.6 76.4h.9v.9h-.9zM38.4 50.7h.9v.9h-.9zM87.2 56.0h.9v.9h-.9zM84.3 30.6h.9v.9h-.9zM41.0 40.0h.9v.9h-.9zM73.5 41.5h.9v.9h-.9zM87.8 40.0h.9v.9h-.9z"/>
<path d="M26.0,106.0 L26.0,74.0 L30.0,58.0 L37.0,46.0 L47.0,38.0 L59.0,34.0 L72.0,36.0 L84.0,44.0 L93.0,56.0 L96.0,72.0 L93.0,90.0 L87.0,106.0 Z" fill="#e8221a" filter="url(#b15)" opacity="0.93"/>
<path d="M27.0,104.0 L28.0,84.0 L32.0,70.0 L40.0,60.0 L52.0,54.0 L65.0,54.0 L76.0,60.0 L83.0,72.0 L84.0,88.0 L78.0,102.0 Z" fill="#f85a14" filter="url(#b2)" opacity="0.9"/>
<path d="M28.0,96.0 L30.0,84.0 L38.0,76.0 L50.0,70.0 L60.0,66.0 L68.0,67.0 L74.0,74.0 L76.0,84.0 L72.0,94.0 Z" fill="#ffa416" filter="url(#b15)" opacity="0.95"/>
<path d="M28.0,94.0 L32.0,86.0 L42.0,81.0 L54.0,79.0 L65.0,78.0 L72.0,81.0 L74.0,90.0 L70.0,96.0 Z" fill="#ffe028" filter="url(#b1)" opacity="1"/>
<path d="M26.5,105.5 L26.5,95 L30,90 L36,86.5 L48,85.5 L60,85 L67,85 L70.5,88 L70.5,94 L67,99 L55,101 L40,103.5 L30,105.5 Z" fill="#ffe028" stroke="#ffe028" stroke-width="5" stroke-linejoin="round" filter="url(#b05)"/>
<path d="M26.5,105.5 L26.5,95 L30,90 L36,86.5 L48,85.5 L60,85 L67,85 L70.5,88 L70.5,94 L67,99 L55,101 L40,103.5 L30,105.5 Z" fill="#4a0c98" stroke="#58cc30" stroke-width="1.7" stroke-linejoin="round" filter="url(#b05)"/>
<path d="M37.5,54 L52,49 L67,47 L76,51 L91.5,68 L88,98 L52,101 L28.5,103 L31,82 Z" fill="none" stroke="#5a1a10" stroke-width="0.7" opacity="0.8"/>
<text x="31.5" y="51" font-size="3.5" fill="#444">R1</text>
</g>
<rect x="26.2" y="22.0" width="83.0" height="83.0" fill="none" stroke="#444" stroke-width="1"/>
<line x1="117.5" y1="22.0" x2="201.0" y2="22.0" stroke="#555" stroke-width="1"/>
<line x1="117.5" y1="22.0" x2="117.5" y2="105.0" stroke="#555" stroke-width="1"/>
<line x1="117.5" y1="104.5" x2="201.0" y2="104.5" stroke="#555" stroke-width="1"/>
<g clip-path="url(#cp2)">
<path fill="#e8241a" d="M162.5 97.5h.8v.8h-.8zM185.8 97.5h.8v.8h-.8zM119.1 89.5h.8v.8h-.8zM164.4 102.1h.8v.8h-.8zM151.2 83.2h.8v.8h-.8zM137.4 102.6h.8v.8h-.8zM128.7 99.1h.8v.8h-.8zM162.1 79.7h.8v.8h-.8zM180.6 82.1h.8v.8h-.8zM131.9 103.3h.8v.8h-.8zM143.4 80.8h.8v.8h-.8zM121.8 84.7h.8v.8h-.8zM117.2 95.7h.8v.8h-.8zM139.6 99.7h.8v.8h-.8zM140.1 90.0h.8v.8h-.8zM121.2 104.3h.8v.8h-.8zM171.7 100.5h.8v.8h-.8zM174.5 86.6h.8v.8h-.8zM142.9 91.2h.8v.8h-.8zM124.9 97.7h.8v.8h-.8zM123.7 85.9h.8v.8h-.8zM156.8 85.1h.8v.8h-.8zM130.0 78.3h.8v.8h-.8zM167.3 104.9h.8v.8h-.8zM120.5 104.6h.8v.8h-.8zM146.6 82.9h.8v.8h-.8zM177.3 89.2h.8v.8h-.8zM121.1 102.6h.8v.8h-.8zM153.0 100.3h.8v.8h-.8zM170.4 103.5h.8v.8h-.8zM174.5 79.1h.8v.8h-.8zM127.9 100.5h.8v.8h-.8zM150.1 105.0h.8v.8h-.8zM170.3 89.9h.8v.8h-.8zM146.5 80.2h.8v.8h-.8zM153.5 85.8h.8v.8h-.8zM136.9 98.7h.8v.8h-.8zM143.4 98.8h.8v.8h-.8zM167.7 95.3h.8v.8h-.8zM143.5 96.4h.8v.8h-.8zM152.5 98.3h.8v.8h-.8zM138.5 103.4h.8v.8h-.8zM135.3 95.5h.8v.8h-.8zM176.6 94.8h.8v.8h-.8zM142.4 94.7h.8v.8h-.8zM177.5 86.2h.8v.8h-.8zM180.5 96.0h.8v.8h-.8zM129.1 100.3h.8v.8h-.8zM151.8 96.1h.8v.8h-.8zM170.3 81.0h.8v.8h-.8zM159.4 95.3h.8v.8h-.8zM162.5 98.5h.8v.8h-.8zM149.2 94.9h.8v.8h-.8zM167.1 94.3h.8v.8h-.8zM151.4 82.6h.8v.8h-.8zM126.7 85.2h.8v.8h-.8zM144.8 93.7h.8v.8h-.8zM134.4 102.2h.8v.8h-.8zM146.6 84.1h.8v.8h-.8zM125.4 100.1h.8v.8h-.8zM119.6 93.8h.8v.8h-.8zM156.8 85.8h.8v.8h-.8zM176.3 94.6h.8v.8h-.8zM127.4 93.3h.8v.8h-.8zM142.6 101.9h.8v.8h-.8zM124.9 92.4h.8v.8h-.8zM127.3 94.3h.8v.8h-.8zM144.4 88.5h.8v.8h-.8zM138.3 104.2h.8v.8h-.8zM187.2 102.5h.8v.8h-.8zM136.0 104.4h.8v.8h-.8zM147.3 85.3h.8v.8h-.8zM152.9 84.3h.8v.8h-.8zM125.9 94.0h.8v.8h-.8zM138.4 98.7h.8v.8h-.8zM118.0 91.4h.8v.8h-.8zM136.5 80.5h.8v.8h-.8zM138.4 93.6h.8v.8h-.8zM164.1 93.5h.8v.8h-.8zM125.6 98.1h.8v.8h-.8zM155.9 85.7h.8v.8h-.8zM155.7 89.5h.8v.8h-.8zM171.4 93.1h.8v.8h-.8zM135.4 89.2h.8v.8h-.8zM173.8 88.4h.8v.8h-.8zM168.7 94.3h.8v.8h-.8zM179.2 81.7h.8v.8h-.8zM177.6 77.9h.8v.8h-.8zM167.7 88.6h.8v.8h-.8zM174.0 102.4h.8v.8h-.8zM151.9 91.9h.8v.8h-.8zM141.1 80.5h.8v.8h-.8zM176.3 78.0h.8v.8h-.8zM176.8 99.0h.8v.8h-.8zM118.9 97.0h.8v.8h-.8zM178.5 82.4h.8v.8h-.8zM138.4 102.6h.8v.8h-.8zM161.6 88.0h.8v.8h-.8zM144.7 78.1h.8v.8h-.8zM159.0 97.5h.8v.8h-.8zM126.8 88.5h.8v.8h-.8zM160.8 90.2h.8v.8h-.8zM144.3 77.6h.8v.8h-.8zM128.0 94.3h.8v.8h-.8zM136.2 92.0h.8v.8h-.8zM171.8 91.0h.8v.8h-.8zM134.1 86.8h.8v.8h-.8zM130.1 96.7h.8v.8h-.8zM123.2 95.4h.8v.8h-.8zM126.1 93.2h.8v.8h-.8zM181.0 89.9h.8v.8h-.8zM120.9 80.4h.8v.8h-.8zM166.7 82.5h.8v.8h-.8zM188.0 95.3h.8v.8h-.8zM127.2 94.1h.8v.8h-.8zM134.2 85.7h.8v.8h-.8zM142.5 87.2h.8v.8h-.8zM177.7 94.8h.8v.8h-.8zM148.6 100.7h.8v.8h-.8zM160.3 92.6h.8v.8h-.8zM145.9 78.8h.8v.8h-.8zM152.1 98.1h.8v.8h-.8zM151.3 101.8h.8v.8h-.8zM148.3 89.5h.8v.8h-.8zM128.3 80.6h.8v.8h-.8zM145.2 101.5h.8v.8h-.8zM135.5 84.0h.8v.8h-.8zM138.0 82.8h.8v.8h-.8zM119.3 102.8h.8v.8h-.8zM185.5 95.9h.8v.8h-.8zM151.4 103.4h.8v.8h-.8zM165.8 84.4h.8v.8h-.8zM170.2 80.7h.8v.8h-.8zM118.8 82.7h.8v.8h-.8zM146.3 104.2h.8v.8h-.8zM139.8 89.6h.8v.8h-.8zM170.5 96.8h.8v.8h-.8zM134.6 95.5h.8v.8h-.8zM164.1 88.5h.8v.8h-.8zM117.5 77.8h.8v.8h-.8zM123.8 78.1h.8v.8h-.8zM152.9 103.1h.8v.8h-.8zM121.4 83.4h.8v.8h-.8zM146.4 91.4h.8v.8h-.8zM139.9 79.1h.8v.8h-.8zM152.5 92.6h.8v.8h-.8zM162.6 97.0h.8v.8h-.8zM139.5 89.0h.8v.8h-.8zM133.4 79.4h.8v.8h-.8zM123.4 98.4h.8v.8h-.8zM139.8 79.8h.8v.8h-.8zM134.9 78.4h.8v.8h-.8zM159.1 83.1h.8v.8h-.8zM137.9 86.8h.8v.8h-.8zM147.7 85.1h.8v.8h-.8zM157.6 102.0h.8v.8h-.8zM172.5 92.7h.8v.8h-.8zM176.6 95.0h.8v.8h-.8zM170.1 96.3h.8v.8h-.8zM176.3 87.1h.8v.8h-.8zM121.8 80.9h.8v.8h-.8zM166.3 84.3h.8v.8h-.8zM172.8 92.2h.8v.8h-.8zM120.7 79.8h.8v.8h-.8zM179.8 103.5h.8v.8h-.8zM133.9 88.4h.8v.8h-.8zM177.4 97.1h.8v.8h-.8zM155.7 81.0h.8v.8h-.8zM149.6 103.2h.8v.8h-.8zM125.6 85.2h.8v.8h-.8zM150.7 88.6h.8v.8h-.8zM173.0 103.2h.8v.8h-.8zM176.4 88.2h.8v.8h-.8zM152.2 101.6h.8v.8h-.8zM132.7 84.0h.8v.8h-.8zM158.1 86.4h.8v.8h-.8zM134.6 86.2h.8v.8h-.8zM162.1 87.6h.8v.8h-.8zM177.7 90.2h.8v.8h-.8zM129.4 78.9h.8v.8h-.8zM182.7 81.8h.8v.8h-.8zM140.7 95.8h.8v.8h-.8zM162.5 99.2h.8v.8h-.8zM117.7 90.8h.8v.8h-.8zM130.5 87.3h.8v.8h-.8zM119.0 85.1h.8v.8h-.8zM151.8 96.4h.8v.8h-.8zM167.6 95.4h.8v.8h-.8zM175.3 86.5h.8v.8h-.8zM166.6 91.1h.8v.8h-.8zM122.7 78.5h.8v.8h-.8zM159.4 98.0h.8v.8h-.8zM139.4 102.9h.8v.8h-.8zM169.3 78.1h.8v.8h-.8zM165.9 103.8h.8v.8h-.8zM167.2 100.3h.8v.8h-.8zM161.6 82.1h.8v.8h-.8zM182.4 82.9h.8v.8h-.8zM156.7 87.4h.8v.8h-.8zM145.5 81.2h.8v.8h-.8zM182.7 102.4h.8v.8h-.8zM145.2 79.2h.8v.8h-.8zM157.4 96.7h.8v.8h-.8zM181.7 82.2h.8v.8h-.8zM136.5 94.0h.8v.8h-.8zM129.2 94.4h.8v.8h-.8zM133.4 77.8h.8v.8h-.8zM177.6 101.5h.8v.8h-.8zM147.4 88.3h.8v.8h-.8zM161.2 104.0h.8v.8h-.8zM119.2 79.4h.8v.8h-.8zM161.1 81.3h.8v.8h-.8zM160.4 94.7h.8v.8h-.8zM170.2 77.8h.8v.8h-.8zM177.9 103.8h.8v.8h-.8zM179.1 94.7h.8v.8h-.8zM133.7 96.2h.8v.8h-.8zM151.8 78.9h.8v.8h-.8zM128.4 78.7h.8v.8h-.8zM161.9 79.0h.8v.8h-.8zM170.7 99.7h.8v.8h-.8zM169.1 102.8h.8v.8h-.8zM162.6 104.0h.8v.8h-.8zM124.5 77.9h.8v.8h-.8zM144.3 89.3h.8v.8h-.8zM171.2 78.4h.8v.8h-.8zM156.7 86.9h.8v.8h-.8zM160.6 86.9h.8v.8h-.8zM153.2 103.9h.8v.8h-.8zM122.3 98.0h.8v.8h-.8zM138.6 79.4h.8v.8h-.8zM142.9 97.4h.8v.8h-.8zM144.9 84.4h.8v.8h-.8zM167.9 98.9h.8v.8h-.8zM138.6 85.8h.8v.8h-.8zM134.4 95.3h.8v.8h-.8zM136.8 78.8h.8v.8h-.8zM150.5 87.1h.8v.8h-.8zM120.9 82.3h.8v.8h-.8zM149.3 89.7h.8v.8h-.8zM137.4 103.7h.8v.8h-.8zM154.1 77.5h.8v.8h-.8zM173.8 88.6h.8v.8h-.8zM182.9 94.7h.8v.8h-.8zM147.2 101.4h.8v.8h-.8zM183.8 87.0h.8v.8h-.8zM172.2 101.9h.8v.8h-.8zM174.0 88.2h.8v.8h-.8zM136.8 89.6h.8v.8h-.8zM165.7 79.6h.8v.8h-.8zM150.4 78.1h.8v.8h-.8zM182.5 101.7h.8v.8h-.8zM118.3 100.0h.8v.8h-.8zM160.7 80.0h.8v.8h-.8zM130.5 88.4h.8v.8h-.8zM172.0 86.8h.8v.8h-.8zM128.1 91.0h.8v.8h-.8zM168.2 78.6h.8v.8h-.8zM164.0 86.9h.8v.8h-.8zM151.9 92.9h.8v.8h-.8zM134.6 92.5h.8v.8h-.8zM156.8 97.2h.8v.8h-.8zM152.1 96.5h.8v.8h-.8zM173.3 88.1h.8v.8h-.8zM161.6 99.0h.8v.8h-.8zM149.9 95.0h.8v.8h-.8zM144.0 91.4h.8v.8h-.8zM185.4 103.5h.8v.8h-.8zM139.0 80.8h.8v.8h-.8zM122.6 89.0h.8v.8h-.8zM155.6 87.3h.8v.8h-.8zM138.8 92.0h.8v.8h-.8zM127.1 86.2h.8v.8h-.8zM158.3 82.0h.8v.8h-.8zM121.4 78.5h.8v.8h-.8zM127.5 104.1h.8v.8h-.8zM137.1 98.7h.8v.8h-.8zM136.1 100.0h.8v.8h-.8zM145.4 94.2h.8v.8h-.8zM136.2 101.4h.8v.8h-.8zM120.8 97.5h.8v.8h-.8zM153.1 101.3h.8v.8h-.8zM160.0 79.4h.8v.8h-.8zM161.6 93.7h.8v.8h-.8zM166.9 78.7h.8v.8h-.8zM150.6 94.8h.8v.8h-.8zM169.6 78.0h.8v.8h-.8zM178.6 79.5h.8v.8h-.8zM135.9 84.7h.8v.8h-.8zM172.3 91.0h.8v.8h-.8zM151.0 80.5h.8v.8h-.8zM136.2 103.5h.8v.8h-.8zM123.4 86.2h.8v.8h-.8zM148.0 94.0h.8v.8h-.8zM129.8 80.0h.8v.8h-.8zM167.2 89.0h.8v.8h-.8zM153.0 91.5h.8v.8h-.8zM157.5 95.2h.8v.8h-.8zM174.3 100.2h.8v.8h-.8zM124.9 83.5h.8v.8h-.8zM181.9 83.7h.8v.8h-.8zM163.8 103.7h.8v.8h-.8zM173.2 85.8h.8v.8h-.8zM163.1 100.5h.8v.8h-.8zM120.6 104.2h.8v.8h-.8zM163.5 97.0h.8v.8h-.8zM146.8 85.6h.8v.8h-.8zM121.7 96.8h.8v.8h-.8zM130.2 103.4h.8v.8h-.8zM182.4 90.7h.8v.8h-.8zM147.4 82.6h.8v.8h-.8zM158.2 84.4h.8v.8h-.8zM154.3 103.1h.8v.8h-.8zM151.0 79.0h.8v.8h-.8zM125.4 91.6h.8v.8h-.8zM136.9 92.0h.8v.8h-.8zM148.2 82.1h.8v.8h-.8zM184.1 85.4h.8v.8h-.8zM155.6 80.0h.8v.8h-.8zM185.5 89.5h.8v.8h-.8zM137.7 97.6h.8v.8h-.8zM151.3 98.0h.8v.8h-.8zM126.8 81.9h.8v.8h-.8zM170.2 79.0h.8v.8h-.8zM126.7 80.9h.8v.8h-.8zM149.6 94.0h.8v.8h-.8zM128.9 96.3h.8v.8h-.8zM159.4 83.3h.8v.8h-.8zM120.8 96.9h.8v.8h-.8zM172.8 85.8h.8v.8h-.8zM163.7 90.2h.8v.8h-.8zM184.1 84.2h.8v.8h-.8zM147.3 104.3h.8v.8h-.8zM164.8 98.0h.8v.8h-.8zM117.1 103.4h.8v.8h-.8zM179.3 95.2h.8v.8h-.8zM178.1 95.6h.8v.8h-.8zM170.4 90.6h.8v.8h-.8zM161.8 99.1h.8v.8h-.8zM173.3 100.3h.8v.8h-.8zM156.1 89.9h.8v.8h-.8zM131.8 104.3h.8v.8h-.8zM134.4 100.0h.8v.8h-.8zM145.1 94.7h.8v.8h-.8zM159.4 97.6h.8v.8h-.8zM148.7 84.9h.8v.8h-.8zM144.2 93.3h.8v.8h-.8zM149.5 95.9h.8v.8h-.8zM136.0 100.4h.8v.8h-.8zM124.8 89.3h.8v.8h-.8zM175.6 89.8h.8v.8h-.8zM118.8 99.1h.8v.8h-.8zM162.5 100.2h.8v.8h-.8zM169.3 100.7h.8v.8h-.8zM118.5 101.7h.8v.8h-.8zM131.7 77.9h.8v.8h-.8zM124.3 86.7h.8v.8h-.8zM138.9 97.1h.8v.8h-.8zM129.1 103.6h.8v.8h-.8zM167.3 82.3h.8v.8h-.8zM149.9 87.9h.8v.8h-.8zM150.3 98.3h.8v.8h-.8zM179.8 95.8h.8v.8h-.8zM180.6 102.6h.8v.8h-.8zM147.4 95.1h.8v.8h-.8zM181.4 96.7h.8v.8h-.8zM130.9 85.5h.8v.8h-.8zM166.8 98.3h.8v.8h-.8zM155.9 100.4h.8v.8h-.8zM123.9 93.6h.8v.8h-.8zM127.5 84.4h.8v.8h-.8zM127.9 88.3h.8v.8h-.8zM117.4 91.9h.8v.8h-.8zM177.9 85.5h.8v.8h-.8zM122.8 80.4h.8v.8h-.8zM121.3 93.5h.8v.8h-.8zM151.9 99.3h.8v.8h-.8zM129.5 88.4h.8v.8h-.8zM177.1 82.7h.8v.8h-.8zM176.6 78.1h.8v.8h-.8zM133.0 95.3h.8v.8h-.8zM123.9 97.2h.8v.8h-.8zM140.4 100.8h.8v.8h-.8zM139.6 95.7h.8v.8h-.8zM154.9 78.4h.8v.8h-.8zM154.5 89.6h.8v.8h-.8zM128.0 84.1h.8v.8h-.8zM122.2 95.6h.8v.8h-.8zM138.2 78.6h.8v.8h-.8zM142.2 103.4h.8v.8h-.8zM142.0 82.1h.8v.8h-.8zM150.7 78.9h.8v.8h-.8zM141.0 95.9h.8v.8h-.8zM137.9 83.7h.8v.8h-.8zM153.7 86.1h.8v.8h-.8zM178.7 92.5h.8v.8h-.8zM164.9 93.8h.8v.8h-.8zM148.1 79.8h.8v.8h-.8zM181.2 84.9h.8v.8h-.8zM161.0 93.1h.8v.8h-.8zM149.6 97.3h.8v.8h-.8zM124.9 97.9h.8v.8h-.8zM121.9 78.4h.8v.8h-.8zM137.8 95.0h.8v.8h-.8zM150.3 80.7h.8v.8h-.8zM167.6 90.8h.8v.8h-.8zM178.4 94.0h.8v.8h-.8zM129.9 89.8h.8v.8h-.8zM162.6 79.2h.8v.8h-.8zM144.0 98.7h.8v.8h-.8zM170.1 89.3h.8v.8h-.8zM129.7 87.9h.8v.8h-.8zM146.3 83.4h.8v.8h-.8zM148.9 93.8h.8v.8h-.8zM165.1 83.1h.8v.8h-.8zM159.4 90.6h.8v.8h-.8zM173.8 84.9h.8v.8h-.8zM161.7 80.7h.8v.8h-.8zM120.3 90.5h.8v.8h-.8zM131.0 104.5h.8v.8h-.8zM135.1 77.9h.8v.8h-.8zM178.0 98.7h.8v.8h-.8zM129.3 83.8h.8v.8h-.8zM129.8 96.9h.8v.8h-.8zM117.8 84.8h.8v.8h-.8zM179.1 97.2h.8v.8h-.8zM158.8 84.2h.8v.8h-.8zM136.0 89.3h.8v.8h-.8zM122.9 83.2h.8v.8h-.8zM186.9 90.1h.8v.8h-.8zM171.3 93.2h.8v.8h-.8zM145.7 85.2h.8v.8h-.8zM179.4 98.9h.8v.8h-.8zM133.7 82.0h.8v.8h-.8zM159.7 84.2h.8v.8h-.8zM132.1 102.7h.8v.8h-.8zM160.2 96.4h.8v.8h-.8zM152.6 101.3h.8v.8h-.8zM167.4 78.3h.8v.8h-.8zM151.0 91.8h.8v.8h-.8zM171.1 86.1h.8v.8h-.8zM155.1 100.3h.8v.8h-.8zM157.9 93.6h.8v.8h-.8zM139.8 84.1h.8v.8h-.8zM160.9 94.7h.8v.8h-.8zM149.6 92.2h.8v.8h-.8zM124.5 102.9h.8v.8h-.8zM153.4 84.5h.8v.8h-.8zM136.7 80.7h.8v.8h-.8zM167.7 94.1h.8v.8h-.8zM133.7 84.2h.8v.8h-.8zM149.3 83.5h.8v.8h-.8zM152.4 80.3h.8v.8h-.8zM169.6 89.8h.8v.8h-.8zM173.2 103.7h.8v.8h-.8zM120.2 90.6h.8v.8h-.8zM141.2 95.8h.8v.8h-.8zM162.0 93.8h.8v.8h-.8zM184.6 96.5h.8v.8h-.8zM168.4 82.7h.8v.8h-.8zM162.3 77.8h.8v.8h-.8zM133.6 90.3h.8v.8h-.8zM169.7 98.2h.8v.8h-.8zM185.6 88.8h.8v.8h-.8zM164.6 91.7h.8v.8h-.8zM179.8 80.3h.8v.8h-.8zM161.9 96.3h.8v.8h-.8zM175.6 100.0h.8v.8h-.8zM148.1 102.5h.8v.8h-.8zM172.2 85.7h.8v.8h-.8zM155.8 95.4h.8v.8h-.8zM180.2 96.7h.8v.8h-.8zM153.0 90.3h.8v.8h-.8zM140.3 90.5h.8v.8h-.8zM130.9 102.9h.8v.8h-.8zM138.8 99.5h.8v.8h-.8zM165.7 92.5h.8v.8h-.8zM151.8 85.5h.8v.8h-.8zM127.9 85.1h.8v.8h-.8zM138.4 94.2h.8v.8h-.8zM125.6 91.2h.8v.8h-.8zM127.5 98.8h.8v.8h-.8zM149.1 98.2h.8v.8h-.8zM180.8 85.2h.8v.8h-.8zM120.2 102.0h.8v.8h-.8zM117.2 83.5h.8v.8h-.8zM169.3 97.4h.8v.8h-.8zM117.5 84.9h.8v.8h-.8zM183.4 102.3h.8v.8h-.8zM123.0 88.4h.8v.8h-.8zM150.1 85.0h.8v.8h-.8zM151.7 84.9h.8v.8h-.8zM134.8 88.3h.8v.8h-.8zM134.4 104.9h.8v.8h-.8zM155.2 95.5h.8v.8h-.8zM155.1 86.6h.8v.8h-.8zM119.1 79.5h.8v.8h-.8zM117.7 95.6h.8v.8h-.8zM134.0 85.1h.8v.8h-.8zM132.3 100.7h.8v.8h-.8z"/>
<path d="M117.0,105.0 L117.0,79.0 L130.0,78.0 L150.0,78.0 L172.0,78.5 L182.0,79.5 L184.0,92.0 L182.0,104.0 Z" fill="#e8221a" filter="url(#b05)" opacity="1"/>
<path d="M117.0,104.0 L117.0,81.5 L132.0,80.0 L148.0,80.5 L160.0,82.0 L176.0,82.0 L180.0,92.0 L177.0,103.0 Z" fill="#f95a16" filter="url(#b1)" opacity="0.9"/>
<path d="M117.0,103.0 L117.0,86.0 L128.0,82.0 L140.0,81.5 L150.0,83.5 L158.0,89.0 L162.0,97.0 L160.0,103.0 Z" fill="#ffd21e" filter="url(#b05)" opacity="1"/>
<path d="M117,102 L117,94.5 L127,88.5 L138,85.8 L146,87.5 L153,94 L154,100 L140,102 Z" fill="#3a0f8f" stroke="#58c83a" stroke-width="1.5" stroke-linejoin="round" filter="url(#b05)"/>
<ellipse cx="169.0" cy="94.6" rx="10.0" ry="8.0" fill="#ffd21e" filter="url(#b05)" opacity="1"/>
<ellipse cx="168.8" cy="94.6" rx="7.8" ry="6.4" fill="#3a0f8f" filter="url(#b05)" opacity="1" stroke="#58c83a" stroke-width="1.4"/>
</g>
<rect x="159.5" y="34.3" width="35.9" height="70.2" fill="none" stroke="#777" stroke-width="0.8"/>
<text x="161" y="39.5" font-size="3.5" fill="#555">R3</text>
<line x1="206.5" y1="21.6" x2="288.5" y2="21.6" stroke="#555" stroke-width="1"/>
<line x1="206.5" y1="21.6" x2="206.5" y2="104.5" stroke="#555" stroke-width="1"/>
<line x1="206.5" y1="104.5" x2="288.5" y2="104.5" stroke="#666" stroke-width="1"/>
<line x1="288.3" y1="21.6" x2="288.3" y2="104.8" stroke="#aaa" stroke-width="1.6"/>
<g clip-path="url(#cp3)">
<path fill="#e8241a" d="M244.0 86.2h.8v.8h-.8zM247.5 102.7h.8v.8h-.8zM265.1 87.7h.8v.8h-.8zM216.7 92.4h.8v.8h-.8zM246.7 102.6h.8v.8h-.8zM238.9 94.2h.8v.8h-.8zM253.4 80.2h.8v.8h-.8zM255.5 79.5h.8v.8h-.8zM260.9 92.7h.8v.8h-.8zM253.7 88.5h.8v.8h-.8zM224.1 88.3h.8v.8h-.8zM214.1 93.9h.8v.8h-.8zM226.9 97.1h.8v.8h-.8zM225.5 103.9h.8v.8h-.8zM236.8 100.8h.8v.8h-.8zM260.4 80.1h.8v.8h-.8zM220.8 103.4h.8v.8h-.8zM252.0 79.1h.8v.8h-.8zM251.5 95.9h.8v.8h-.8zM243.1 96.1h.8v.8h-.8zM237.6 101.6h.8v.8h-.8zM246.6 78.0h.8v.8h-.8zM249.3 80.2h.8v.8h-.8zM213.7 98.4h.8v.8h-.8zM251.7 86.6h.8v.8h-.8zM245.6 103.4h.8v.8h-.8zM250.0 102.3h.8v.8h-.8zM258.4 91.3h.8v.8h-.8zM265.0 96.6h.8v.8h-.8zM236.9 101.4h.8v.8h-.8zM256.1 95.3h.8v.8h-.8zM244.6 91.1h.8v.8h-.8zM207.7 103.6h.8v.8h-.8zM244.4 90.7h.8v.8h-.8zM257.8 82.1h.8v.8h-.8zM248.4 80.9h.8v.8h-.8zM246.3 85.4h.8v.8h-.8zM243.9 93.3h.8v.8h-.8zM242.2 80.6h.8v.8h-.8zM222.1 96.3h.8v.8h-.8zM218.0 93.8h.8v.8h-.8zM242.8 93.2h.8v.8h-.8zM250.4 85.1h.8v.8h-.8zM251.2 89.1h.8v.8h-.8zM232.9 100.0h.8v.8h-.8zM214.9 96.5h.8v.8h-.8zM249.7 77.1h.8v.8h-.8zM232.6 86.6h.8v.8h-.8zM256.0 101.1h.8v.8h-.8zM207.8 95.5h.8v.8h-.8zM245.3 101.0h.8v.8h-.8zM218.5 88.5h.8v.8h-.8zM234.8 93.0h.8v.8h-.8zM269.3 95.1h.8v.8h-.8zM261.9 87.7h.8v.8h-.8zM238.9 88.9h.8v.8h-.8zM221.9 90.9h.8v.8h-.8zM250.2 95.1h.8v.8h-.8zM253.5 81.0h.8v.8h-.8zM243.3 103.9h.8v.8h-.8zM223.0 95.0h.8v.8h-.8zM253.5 100.3h.8v.8h-.8zM245.5 80.4h.8v.8h-.8zM248.6 82.6h.8v.8h-.8zM283.0 85.4h.8v.8h-.8zM231.9 100.5h.8v.8h-.8zM257.9 103.1h.8v.8h-.8zM258.1 84.7h.8v.8h-.8zM251.6 96.2h.8v.8h-.8zM211.7 92.2h.8v.8h-.8zM232.0 88.7h.8v.8h-.8zM215.3 101.4h.8v.8h-.8zM261.4 81.7h.8v.8h-.8zM239.6 103.6h.8v.8h-.8zM258.8 99.0h.8v.8h-.8zM238.2 103.3h.8v.8h-.8zM216.5 92.3h.8v.8h-.8zM255.9 86.4h.8v.8h-.8zM249.1 94.9h.8v.8h-.8zM266.6 101.7h.8v.8h-.8zM244.8 94.6h.8v.8h-.8zM261.5 98.2h.8v.8h-.8zM254.2 94.0h.8v.8h-.8zM254.0 91.0h.8v.8h-.8zM258.7 95.9h.8v.8h-.8zM282.2 92.3h.8v.8h-.8zM229.8 96.1h.8v.8h-.8zM247.9 88.3h.8v.8h-.8zM220.0 104.4h.8v.8h-.8zM232.5 89.3h.8v.8h-.8zM233.0 96.0h.8v.8h-.8zM255.7 99.3h.8v.8h-.8zM240.0 88.5h.8v.8h-.8zM213.4 98.2h.8v.8h-.8zM230.0 89.5h.8v.8h-.8zM211.3 97.0h.8v.8h-.8zM214.0 102.3h.8v.8h-.8zM250.0 87.2h.8v.8h-.8zM227.4 104.7h.8v.8h-.8zM217.7 90.0h.8v.8h-.8zM244.1 86.0h.8v.8h-.8zM242.8 101.8h.8v.8h-.8zM257.1 82.7h.8v.8h-.8zM212.8 102.2h.8v.8h-.8zM245.3 87.5h.8v.8h-.8zM258.7 79.5h.8v.8h-.8zM252.4 94.4h.8v.8h-.8zM207.1 98.5h.8v.8h-.8zM222.2 99.2h.8v.8h-.8zM250.5 88.1h.8v.8h-.8zM223.8 102.0h.8v.8h-.8zM250.9 83.0h.8v.8h-.8zM221.2 92.4h.8v.8h-.8zM263.7 85.5h.8v.8h-.8zM222.7 104.9h.8v.8h-.8zM244.7 81.2h.8v.8h-.8zM244.7 87.8h.8v.8h-.8zM233.8 93.7h.8v.8h-.8zM217.8 99.7h.8v.8h-.8zM227.6 99.9h.8v.8h-.8zM229.1 87.4h.8v.8h-.8zM210.8 96.7h.8v.8h-.8zM212.4 103.1h.8v.8h-.8zM240.2 85.9h.8v.8h-.8zM260.2 97.4h.8v.8h-.8zM265.3 88.3h.8v.8h-.8zM228.5 102.3h.8v.8h-.8zM239.5 87.6h.8v.8h-.8zM248.3 85.3h.8v.8h-.8zM244.9 79.7h.8v.8h-.8zM251.4 97.0h.8v.8h-.8zM238.1 94.0h.8v.8h-.8zM245.6 95.3h.8v.8h-.8zM231.7 88.9h.8v.8h-.8zM238.0 90.2h.8v.8h-.8zM254.1 91.4h.8v.8h-.8zM211.8 97.6h.8v.8h-.8zM256.8 92.4h.8v.8h-.8zM261.2 92.2h.8v.8h-.8zM238.4 103.7h.8v.8h-.8zM225.1 85.9h.8v.8h-.8zM259.3 94.1h.8v.8h-.8zM244.3 94.6h.8v.8h-.8zM226.7 90.4h.8v.8h-.8zM260.8 91.3h.8v.8h-.8zM211.1 91.0h.8v.8h-.8zM256.6 78.2h.8v.8h-.8zM211.5 93.2h.8v.8h-.8zM254.9 97.2h.8v.8h-.8zM250.3 96.5h.8v.8h-.8zM249.0 84.7h.8v.8h-.8zM226.7 97.2h.8v.8h-.8zM208.4 93.1h.8v.8h-.8zM256.9 81.0h.8v.8h-.8zM214.3 105.0h.8v.8h-.8zM254.1 88.8h.8v.8h-.8zM248.0 92.5h.8v.8h-.8zM264.6 82.9h.8v.8h-.8zM209.8 98.2h.8v.8h-.8zM232.4 93.8h.8v.8h-.8zM253.8 103.0h.8v.8h-.8zM244.9 104.0h.8v.8h-.8zM222.9 94.6h.8v.8h-.8zM258.8 94.4h.8v.8h-.8zM207.4 104.2h.8v.8h-.8zM219.1 98.9h.8v.8h-.8zM253.0 94.5h.8v.8h-.8zM211.0 96.1h.8v.8h-.8zM247.2 100.8h.8v.8h-.8zM235.3 104.7h.8v.8h-.8zM250.8 90.7h.8v.8h-.8zM261.0 83.1h.8v.8h-.8zM240.7 104.9h.8v.8h-.8zM209.8 92.4h.8v.8h-.8zM234.0 85.6h.8v.8h-.8zM242.0 100.4h.8v.8h-.8zM244.2 82.0h.8v.8h-.8zM239.5 94.0h.8v.8h-.8zM256.2 101.5h.8v.8h-.8zM260.9 103.2h.8v.8h-.8zM210.1 89.8h.8v.8h-.8zM222.6 90.1h.8v.8h-.8zM216.5 93.2h.8v.8h-.8zM255.9 85.1h.8v.8h-.8zM225.2 103.0h.8v.8h-.8zM260.1 91.2h.8v.8h-.8zM261.6 102.2h.8v.8h-.8zM207.8 91.0h.8v.8h-.8zM228.5 88.9h.8v.8h-.8zM252.0 94.9h.8v.8h-.8zM258.2 103.5h.8v.8h-.8zM251.0 85.1h.8v.8h-.8zM256.4 100.6h.8v.8h-.8zM240.6 94.2h.8v.8h-.8zM260.4 93.9h.8v.8h-.8zM252.7 86.0h.8v.8h-.8zM230.2 88.0h.8v.8h-.8zM242.6 92.1h.8v.8h-.8zM229.5 90.4h.8v.8h-.8zM225.4 96.5h.8v.8h-.8zM226.2 92.0h.8v.8h-.8zM250.6 96.0h.8v.8h-.8zM238.6 98.2h.8v.8h-.8zM216.5 91.6h.8v.8h-.8zM278.1 82.5h.8v.8h-.8zM243.1 82.1h.8v.8h-.8zM242.2 91.2h.8v.8h-.8zM238.9 101.2h.8v.8h-.8zM245.5 101.7h.8v.8h-.8zM235.8 94.9h.8v.8h-.8zM253.1 88.3h.8v.8h-.8zM260.6 88.4h.8v.8h-.8zM245.3 87.1h.8v.8h-.8zM244.7 95.8h.8v.8h-.8zM253.3 79.2h.8v.8h-.8zM237.9 89.3h.8v.8h-.8zM228.3 90.7h.8v.8h-.8zM244.6 88.4h.8v.8h-.8zM211.7 97.9h.8v.8h-.8zM262.5 89.1h.8v.8h-.8zM250.7 96.8h.8v.8h-.8zM256.1 83.1h.8v.8h-.8zM248.1 92.2h.8v.8h-.8zM226.1 101.8h.8v.8h-.8zM264.7 102.6h.8v.8h-.8zM239.1 91.1h.8v.8h-.8zM211.3 89.9h.8v.8h-.8zM208.4 96.2h.8v.8h-.8zM250.4 91.2h.8v.8h-.8zM220.1 101.2h.8v.8h-.8zM272.6 100.4h.8v.8h-.8zM251.1 99.7h.8v.8h-.8zM219.3 103.2h.8v.8h-.8zM251.5 77.3h.8v.8h-.8zM248.5 85.9h.8v.8h-.8zM215.8 93.1h.8v.8h-.8zM262.5 94.3h.8v.8h-.8zM264.6 101.6h.8v.8h-.8zM257.2 98.4h.8v.8h-.8zM228.9 86.3h.8v.8h-.8zM224.7 92.4h.8v.8h-.8zM234.3 94.9h.8v.8h-.8zM263.2 101.6h.8v.8h-.8zM231.7 91.2h.8v.8h-.8zM260.3 83.5h.8v.8h-.8zM248.1 88.6h.8v.8h-.8zM226.0 102.6h.8v.8h-.8zM222.0 100.4h.8v.8h-.8zM242.0 83.1h.8v.8h-.8zM265.5 82.6h.8v.8h-.8zM214.7 94.0h.8v.8h-.8zM236.1 91.2h.8v.8h-.8zM259.3 102.0h.8v.8h-.8zM245.5 102.3h.8v.8h-.8zM260.5 86.9h.8v.8h-.8zM234.0 95.4h.8v.8h-.8zM224.0 89.7h.8v.8h-.8zM243.3 99.0h.8v.8h-.8zM240.5 84.2h.8v.8h-.8zM270.4 98.2h.8v.8h-.8zM247.9 95.8h.8v.8h-.8zM245.5 93.9h.8v.8h-.8zM244.3 86.8h.8v.8h-.8zM237.5 96.0h.8v.8h-.8zM240.5 83.1h.8v.8h-.8zM232.5 91.9h.8v.8h-.8zM221.0 101.6h.8v.8h-.8zM254.0 98.0h.8v.8h-.8zM207.8 101.7h.8v.8h-.8zM240.7 83.2h.8v.8h-.8zM254.9 97.8h.8v.8h-.8zM220.3 87.4h.8v.8h-.8zM263.8 97.6h.8v.8h-.8zM279.4 89.1h.8v.8h-.8zM235.2 94.7h.8v.8h-.8zM234.5 102.5h.8v.8h-.8zM226.7 96.3h.8v.8h-.8zM225.5 101.8h.8v.8h-.8zM259.7 93.6h.8v.8h-.8zM263.9 104.3h.8v.8h-.8zM251.8 96.3h.8v.8h-.8zM217.1 92.8h.8v.8h-.8zM244.2 90.0h.8v.8h-.8zM235.1 102.2h.8v.8h-.8zM243.2 96.0h.8v.8h-.8zM209.9 94.8h.8v.8h-.8zM220.3 88.4h.8v.8h-.8zM247.4 96.1h.8v.8h-.8zM209.4 100.0h.8v.8h-.8zM256.7 89.7h.8v.8h-.8zM240.7 91.8h.8v.8h-.8zM259.3 77.6h.8v.8h-.8zM247.8 87.5h.8v.8h-.8zM231.6 96.9h.8v.8h-.8zM251.7 101.2h.8v.8h-.8zM231.3 87.3h.8v.8h-.8zM245.4 82.7h.8v.8h-.8zM235.4 84.2h.8v.8h-.8zM232.4 96.4h.8v.8h-.8zM243.0 99.2h.8v.8h-.8zM253.7 91.6h.8v.8h-.8zM216.5 93.9h.8v.8h-.8zM231.3 85.5h.8v.8h-.8zM256.4 103.7h.8v.8h-.8zM265.3 85.9h.8v.8h-.8zM234.6 95.3h.8v.8h-.8zM208.0 92.1h.8v.8h-.8zM257.7 91.8h.8v.8h-.8zM227.0 104.0h.8v.8h-.8zM233.3 85.6h.8v.8h-.8zM239.0 90.5h.8v.8h-.8zM245.5 98.3h.8v.8h-.8zM226.8 104.3h.8v.8h-.8zM257.4 95.4h.8v.8h-.8zM259.0 97.4h.8v.8h-.8zM271.0 99.9h.8v.8h-.8zM260.2 92.0h.8v.8h-.8zM261.5 88.0h.8v.8h-.8zM254.9 92.4h.8v.8h-.8zM275.6 90.3h.8v.8h-.8zM238.6 84.7h.8v.8h-.8zM249.6 89.4h.8v.8h-.8zM239.8 98.3h.8v.8h-.8zM248.3 83.6h.8v.8h-.8zM226.9 102.5h.8v.8h-.8zM249.6 80.1h.8v.8h-.8zM254.5 94.5h.8v.8h-.8zM221.4 103.2h.8v.8h-.8zM220.1 96.1h.8v.8h-.8zM249.6 91.5h.8v.8h-.8zM254.1 86.8h.8v.8h-.8zM214.3 99.2h.8v.8h-.8zM256.1 90.3h.8v.8h-.8zM260.5 87.9h.8v.8h-.8zM256.6 78.6h.8v.8h-.8zM264.5 101.1h.8v.8h-.8zM241.2 99.9h.8v.8h-.8zM244.0 90.2h.8v.8h-.8zM227.6 99.2h.8v.8h-.8zM242.3 101.6h.8v.8h-.8zM220.3 100.0h.8v.8h-.8zM210.5 95.0h.8v.8h-.8zM256.1 92.8h.8v.8h-.8zM240.6 81.9h.8v.8h-.8zM208.8 88.9h.8v.8h-.8zM254.3 92.6h.8v.8h-.8zM242.2 86.8h.8v.8h-.8zM262.6 81.5h.8v.8h-.8zM250.9 78.7h.8v.8h-.8zM238.3 87.2h.8v.8h-.8zM252.4 99.4h.8v.8h-.8zM241.3 86.6h.8v.8h-.8zM245.8 77.1h.8v.8h-.8zM227.5 99.6h.8v.8h-.8zM232.4 87.6h.8v.8h-.8zM229.9 99.6h.8v.8h-.8zM249.8 80.0h.8v.8h-.8zM242.4 98.7h.8v.8h-.8zM208.9 92.6h.8v.8h-.8zM222.3 92.7h.8v.8h-.8zM233.9 101.1h.8v.8h-.8zM247.2 85.6h.8v.8h-.8zM262.9 96.2h.8v.8h-.8zM280.0 92.9h.8v.8h-.8zM251.4 82.0h.8v.8h-.8zM221.9 89.7h.8v.8h-.8zM260.3 86.2h.8v.8h-.8zM234.5 104.5h.8v.8h-.8zM229.3 91.6h.8v.8h-.8zM257.0 100.3h.8v.8h-.8zM266.1 103.7h.8v.8h-.8zM244.3 94.8h.8v.8h-.8zM253.5 98.8h.8v.8h-.8zM261.5 92.1h.8v.8h-.8zM222.3 91.5h.8v.8h-.8zM255.2 104.3h.8v.8h-.8zM246.0 91.9h.8v.8h-.8zM225.7 104.7h.8v.8h-.8zM250.0 92.1h.8v.8h-.8zM210.9 98.3h.8v.8h-.8zM243.4 94.7h.8v.8h-.8zM260.9 91.3h.8v.8h-.8zM233.3 104.0h.8v.8h-.8zM255.6 79.4h.8v.8h-.8zM254.5 78.8h.8v.8h-.8zM231.2 85.7h.8v.8h-.8zM208.7 90.7h.8v.8h-.8zM255.8 80.6h.8v.8h-.8zM245.5 88.0h.8v.8h-.8zM272.2 92.2h.8v.8h-.8zM255.7 101.3h.8v.8h-.8zM232.8 104.2h.8v.8h-.8zM258.2 98.3h.8v.8h-.8zM260.4 78.0h.8v.8h-.8zM242.3 94.9h.8v.8h-.8zM252.6 93.5h.8v.8h-.8zM277.4 98.4h.8v.8h-.8zM243.7 102.0h.8v.8h-.8zM254.2 85.5h.8v.8h-.8zM247.8 101.9h.8v.8h-.8zM236.4 87.4h.8v.8h-.8zM207.8 96.0h.8v.8h-.8zM216.4 91.3h.8v.8h-.8zM225.7 90.9h.8v.8h-.8zM240.9 94.8h.8v.8h-.8zM255.8 97.5h.8v.8h-.8zM221.8 92.2h.8v.8h-.8zM248.0 93.1h.8v.8h-.8zM251.0 101.6h.8v.8h-.8zM251.3 79.6h.8v.8h-.8zM236.8 104.8h.8v.8h-.8zM259.7 93.1h.8v.8h-.8zM239.3 98.8h.8v.8h-.8zM217.9 104.2h.8v.8h-.8zM232.8 96.5h.8v.8h-.8zM263.2 103.4h.8v.8h-.8zM281.7 89.9h.8v.8h-.8zM248.3 87.1h.8v.8h-.8zM237.8 84.0h.8v.8h-.8zM261.7 77.7h.8v.8h-.8zM261.4 93.3h.8v.8h-.8zM241.6 91.5h.8v.8h-.8zM232.4 102.9h.8v.8h-.8zM243.4 100.2h.8v.8h-.8zM225.5 101.9h.8v.8h-.8zM225.2 97.3h.8v.8h-.8zM247.4 100.0h.8v.8h-.8zM226.5 88.3h.8v.8h-.8zM248.7 104.8h.8v.8h-.8zM236.2 85.9h.8v.8h-.8zM221.5 93.3h.8v.8h-.8zM232.7 86.3h.8v.8h-.8zM247.9 79.6h.8v.8h-.8zM252.7 80.0h.8v.8h-.8zM254.5 98.2h.8v.8h-.8zM254.6 81.1h.8v.8h-.8zM261.3 100.0h.8v.8h-.8zM260.2 96.6h.8v.8h-.8zM267.5 95.9h.8v.8h-.8zM257.5 92.0h.8v.8h-.8zM226.9 93.6h.8v.8h-.8zM230.4 97.6h.8v.8h-.8zM228.0 100.8h.8v.8h-.8zM214.3 92.9h.8v.8h-.8zM226.1 91.2h.8v.8h-.8zM261.2 96.7h.8v.8h-.8zM252.2 102.7h.8v.8h-.8zM212.5 95.2h.8v.8h-.8zM239.0 103.0h.8v.8h-.8zM238.8 83.4h.8v.8h-.8zM216.5 96.7h.8v.8h-.8zM208.0 101.3h.8v.8h-.8zM225.2 88.5h.8v.8h-.8zM259.2 81.2h.8v.8h-.8zM226.8 89.7h.8v.8h-.8zM267.1 94.2h.8v.8h-.8zM251.8 77.0h.8v.8h-.8zM264.0 93.8h.8v.8h-.8zM254.1 98.8h.8v.8h-.8zM237.0 100.6h.8v.8h-.8zM259.7 81.6h.8v.8h-.8zM255.3 84.7h.8v.8h-.8zM219.5 88.6h.8v.8h-.8zM243.3 87.6h.8v.8h-.8zM247.4 91.7h.8v.8h-.8zM221.3 89.7h.8v.8h-.8zM240.3 98.8h.8v.8h-.8zM231.1 97.3h.8v.8h-.8zM234.2 101.8h.8v.8h-.8zM260.5 95.7h.8v.8h-.8zM225.3 87.5h.8v.8h-.8zM246.7 97.7h.8v.8h-.8zM256.4 86.2h.8v.8h-.8zM257.4 99.0h.8v.8h-.8zM258.5 92.3h.8v.8h-.8zM210.8 98.7h.8v.8h-.8zM261.1 100.0h.8v.8h-.8zM216.3 88.5h.8v.8h-.8zM251.4 88.9h.8v.8h-.8zM228.8 95.7h.8v.8h-.8zM223.1 99.2h.8v.8h-.8zM220.6 88.8h.8v.8h-.8zM230.9 92.9h.8v.8h-.8zM258.6 103.2h.8v.8h-.8zM272.7 98.2h.8v.8h-.8zM217.2 96.1h.8v.8h-.8zM248.7 82.8h.8v.8h-.8zM224.7 102.6h.8v.8h-.8zM212.6 102.8h.8v.8h-.8zM260.9 81.9h.8v.8h-.8zM260.8 82.0h.8v.8h-.8zM238.0 104.9h.8v.8h-.8zM231.5 102.8h.8v.8h-.8zM273.8 90.6h.8v.8h-.8zM237.1 89.5h.8v.8h-.8zM228.5 97.6h.8v.8h-.8zM222.2 104.8h.8v.8h-.8zM217.6 91.5h.8v.8h-.8zM249.2 80.4h.8v.8h-.8zM218.3 94.0h.8v.8h-.8zM232.6 91.3h.8v.8h-.8zM283.7 97.7h.8v.8h-.8zM245.5 96.7h.8v.8h-.8zM239.2 90.1h.8v.8h-.8zM238.9 92.2h.8v.8h-.8zM237.2 101.1h.8v.8h-.8zM242.7 97.3h.8v.8h-.8zM225.5 101.1h.8v.8h-.8zM237.8 96.5h.8v.8h-.8zM253.7 83.7h.8v.8h-.8zM248.1 78.9h.8v.8h-.8zM228.5 100.7h.8v.8h-.8zM230.3 96.5h.8v.8h-.8zM220.2 104.0h.8v.8h-.8zM250.4 94.3h.8v.8h-.8zM239.0 96.6h.8v.8h-.8zM253.0 97.4h.8v.8h-.8zM209.2 92.3h.8v.8h-.8zM212.5 98.8h.8v.8h-.8zM233.9 102.1h.8v.8h-.8z"/>
<path d="M207.0,104.5 L207.0,92.0 L216.0,88.5 L228.0,85.0 L240.0,80.5 L248.0,78.0 L258.0,77.5 L262.0,82.0 L263.0,95.0 L261.0,104.5 Z" fill="#e8241a" filter="url(#b05)" opacity="1"/>
<path d="M208.0,103.0 L210.0,94.0 L220.0,89.5 L232.0,88.0 L242.0,84.0 L250.0,82.0 L258.0,82.0 L260.0,95.0 L258.0,103.0 Z" fill="#ff7a1a" filter="url(#b05)" opacity="0.95"/>
<ellipse cx="227.8" cy="95.0" rx="13.0" ry="6.5" fill="#ffe21a" filter="url(#b05)" opacity="1"/>
<ellipse cx="227.8" cy="95.0" rx="11.0" ry="5.2" fill="#5cd23a" filter="url(#b05)" opacity="1"/>
<ellipse cx="227.6" cy="95.0" rx="8.8" ry="3.9" fill="#3a0f8f" filter="url(#b05)" opacity="1"/>
<ellipse cx="253.4" cy="94.1" rx="7.2" ry="9.2" fill="#ffe21a" filter="url(#b05)" opacity="1"/>
<ellipse cx="253.4" cy="94.1" rx="5.8" ry="7.6" fill="#5cd23a" filter="url(#b05)" opacity="1"/>
<ellipse cx="253.4" cy="94.1" rx="4.5" ry="6.1" fill="#3a0f8f" filter="url(#b05)" opacity="1"/>
</g>
<rect x="244.0" y="36.3" width="42.5" height="68.2" fill="none" stroke="#888" stroke-width="0.8"/>
<text x="245.5" y="41.5" font-size="3.5" fill="#555">Rx</text>
<line x1="298.4" y1="21.6" x2="381.6" y2="21.6" stroke="#555" stroke-width="1.2"/>
<line x1="298.4" y1="21.6" x2="298.4" y2="104.2" stroke="#555" stroke-width="1"/>
<line x1="381.6" y1="21.6" x2="381.6" y2="104.2" stroke="#666" stroke-width="1"/>
<g clip-path="url(#cp4)">
<path fill="#e8241a" d="M343.8 79.8h.8v.8h-.8zM344.1 76.5h.8v.8h-.8zM349.0 83.4h.8v.8h-.8zM344.1 72.2h.8v.8h-.8zM345.5 85.0h.8v.8h-.8zM349.2 73.3h.8v.8h-.8zM350.4 64.2h.8v.8h-.8zM339.5 48.5h.8v.8h-.8zM342.4 98.2h.8v.8h-.8zM348.4 93.8h.8v.8h-.8zM348.7 51.5h.8v.8h-.8zM337.5 61.3h.8v.8h-.8zM352.9 63.5h.8v.8h-.8zM337.5 69.2h.8v.8h-.8zM348.7 50.4h.8v.8h-.8zM337.5 60.5h.8v.8h-.8zM340.6 63.0h.8v.8h-.8zM347.6 67.8h.8v.8h-.8zM336.9 91.3h.8v.8h-.8zM347.7 71.0h.8v.8h-.8zM350.3 60.4h.8v.8h-.8zM347.5 62.8h.8v.8h-.8zM346.5 98.6h.8v.8h-.8zM346.9 52.4h.8v.8h-.8zM355.2 106.8h.8v.8h-.8zM350.0 81.4h.8v.8h-.8zM350.2 105.6h.8v.8h-.8zM348.5 74.9h.8v.8h-.8zM346.2 91.2h.8v.8h-.8zM351.2 89.0h.8v.8h-.8zM352.6 99.3h.8v.8h-.8zM348.2 68.5h.8v.8h-.8zM347.8 49.1h.8v.8h-.8zM342.1 91.0h.8v.8h-.8zM343.5 97.7h.8v.8h-.8zM344.5 58.7h.8v.8h-.8zM344.9 83.3h.8v.8h-.8zM349.6 57.0h.8v.8h-.8zM337.2 71.6h.8v.8h-.8zM347.2 64.3h.8v.8h-.8zM344.9 97.6h.8v.8h-.8zM350.5 104.8h.8v.8h-.8zM337.6 70.5h.8v.8h-.8zM344.8 64.2h.8v.8h-.8zM350.4 80.5h.8v.8h-.8zM343.8 45.6h.8v.8h-.8zM348.4 72.6h.8v.8h-.8zM349.0 95.7h.8v.8h-.8zM349.8 56.8h.8v.8h-.8zM350.6 55.5h.8v.8h-.8zM341.0 88.6h.8v.8h-.8zM348.0 92.4h.8v.8h-.8zM352.6 102.0h.8v.8h-.8zM343.8 84.0h.8v.8h-.8zM341.8 80.4h.8v.8h-.8zM352.7 104.4h.8v.8h-.8zM348.9 57.1h.8v.8h-.8zM353.3 85.1h.8v.8h-.8zM337.5 101.6h.8v.8h-.8zM340.3 102.2h.8v.8h-.8zM341.1 49.3h.8v.8h-.8zM346.3 93.2h.8v.8h-.8zM345.4 90.3h.8v.8h-.8zM349.9 104.5h.8v.8h-.8zM345.7 62.6h.8v.8h-.8zM348.6 77.5h.8v.8h-.8zM346.6 63.9h.8v.8h-.8zM354.1 106.0h.8v.8h-.8zM346.9 56.9h.8v.8h-.8zM345.1 82.7h.8v.8h-.8zM352.8 80.0h.8v.8h-.8zM342.8 105.2h.8v.8h-.8zM343.3 96.2h.8v.8h-.8zM344.4 64.3h.8v.8h-.8zM348.1 103.2h.8v.8h-.8zM341.2 83.7h.8v.8h-.8zM351.0 51.9h.8v.8h-.8zM338.5 56.7h.8v.8h-.8zM343.4 68.0h.8v.8h-.8zM345.8 54.2h.8v.8h-.8zM348.4 84.9h.8v.8h-.8zM354.1 83.1h.8v.8h-.8zM338.0 91.4h.8v.8h-.8zM350.9 60.6h.8v.8h-.8zM353.6 71.0h.8v.8h-.8zM345.1 92.5h.8v.8h-.8zM349.8 56.1h.8v.8h-.8zM345.4 80.4h.8v.8h-.8zM336.8 57.1h.8v.8h-.8zM351.9 64.9h.8v.8h-.8zM345.4 71.5h.8v.8h-.8zM342.5 56.5h.8v.8h-.8zM345.3 45.0h.8v.8h-.8zM352.8 89.1h.8v.8h-.8zM348.4 69.9h.8v.8h-.8zM345.1 106.9h.8v.8h-.8zM338.7 102.3h.8v.8h-.8zM352.2 96.1h.8v.8h-.8zM355.3 100.3h.8v.8h-.8zM351.9 93.0h.8v.8h-.8zM344.2 44.7h.8v.8h-.8zM348.6 83.9h.8v.8h-.8zM349.2 80.5h.8v.8h-.8zM342.1 108.0h.8v.8h-.8zM350.2 92.8h.8v.8h-.8zM345.2 105.9h.8v.8h-.8zM344.3 54.8h.8v.8h-.8zM347.9 47.7h.8v.8h-.8zM342.9 77.7h.8v.8h-.8zM341.5 62.3h.8v.8h-.8zM346.6 62.1h.8v.8h-.8zM342.1 101.4h.8v.8h-.8zM344.4 106.3h.8v.8h-.8zM345.6 104.0h.8v.8h-.8zM344.2 106.6h.8v.8h-.8zM347.7 51.4h.8v.8h-.8zM343.8 57.0h.8v.8h-.8zM345.7 52.0h.8v.8h-.8zM349.4 73.2h.8v.8h-.8zM347.1 70.9h.8v.8h-.8zM345.8 107.8h.8v.8h-.8zM351.1 59.3h.8v.8h-.8zM355.2 94.2h.8v.8h-.8zM341.3 61.4h.8v.8h-.8zM346.7 81.9h.8v.8h-.8zM351.6 56.1h.8v.8h-.8zM343.1 83.9h.8v.8h-.8zM346.1 48.6h.8v.8h-.8zM349.6 79.2h.8v.8h-.8zM341.7 74.6h.8v.8h-.8zM340.9 91.7h.8v.8h-.8zM348.2 93.2h.8v.8h-.8zM343.0 60.5h.8v.8h-.8zM341.6 85.8h.8v.8h-.8zM340.5 79.1h.8v.8h-.8zM349.8 63.1h.8v.8h-.8zM350.0 62.1h.8v.8h-.8zM341.3 90.5h.8v.8h-.8zM355.9 104.2h.8v.8h-.8zM343.4 95.4h.8v.8h-.8zM340.3 69.6h.8v.8h-.8zM341.5 67.3h.8v.8h-.8zM342.1 56.5h.8v.8h-.8zM352.7 78.6h.8v.8h-.8zM346.6 55.3h.8v.8h-.8zM345.4 78.8h.8v.8h-.8zM338.4 58.1h.8v.8h-.8zM345.6 92.9h.8v.8h-.8zM340.8 106.0h.8v.8h-.8zM344.8 78.4h.8v.8h-.8zM350.4 102.6h.8v.8h-.8zM353.5 86.7h.8v.8h-.8zM353.0 97.4h.8v.8h-.8zM350.5 95.3h.8v.8h-.8zM342.9 53.4h.8v.8h-.8zM347.2 102.2h.8v.8h-.8zM346.3 96.3h.8v.8h-.8zM338.8 100.8h.8v.8h-.8zM340.9 79.0h.8v.8h-.8zM344.5 58.1h.8v.8h-.8zM345.7 77.0h.8v.8h-.8zM352.7 89.7h.8v.8h-.8zM348.6 107.6h.8v.8h-.8zM345.9 53.6h.8v.8h-.8zM344.2 105.2h.8v.8h-.8zM354.3 63.4h.8v.8h-.8zM342.8 102.7h.8v.8h-.8zM345.7 54.1h.8v.8h-.8zM340.1 63.9h.8v.8h-.8zM339.9 73.9h.8v.8h-.8zM341.4 88.0h.8v.8h-.8zM342.3 73.6h.8v.8h-.8zM341.8 89.4h.8v.8h-.8zM346.7 73.3h.8v.8h-.8zM348.0 62.6h.8v.8h-.8zM346.0 63.1h.8v.8h-.8zM342.2 86.7h.8v.8h-.8zM350.4 55.5h.8v.8h-.8zM342.6 48.7h.8v.8h-.8zM343.1 76.7h.8v.8h-.8zM351.9 96.6h.8v.8h-.8zM340.6 70.4h.8v.8h-.8zM342.4 88.8h.8v.8h-.8zM352.5 86.3h.8v.8h-.8zM348.9 50.8h.8v.8h-.8zM345.2 94.5h.8v.8h-.8zM347.9 54.1h.8v.8h-.8zM345.0 53.1h.8v.8h-.8zM353.7 56.6h.8v.8h-.8zM348.3 56.7h.8v.8h-.8zM338.4 80.9h.8v.8h-.8zM340.6 103.5h.8v.8h-.8zM344.0 51.9h.8v.8h-.8zM346.6 79.9h.8v.8h-.8zM355.6 107.5h.8v.8h-.8zM347.6 51.8h.8v.8h-.8zM346.9 97.2h.8v.8h-.8zM346.2 48.9h.8v.8h-.8zM349.1 63.7h.8v.8h-.8zM351.2 68.4h.8v.8h-.8zM344.2 53.2h.8v.8h-.8zM346.8 55.1h.8v.8h-.8zM344.2 70.3h.8v.8h-.8zM349.9 92.5h.8v.8h-.8zM344.6 107.7h.8v.8h-.8zM346.7 101.9h.8v.8h-.8zM345.7 71.7h.8v.8h-.8zM340.3 47.5h.8v.8h-.8zM351.5 63.5h.8v.8h-.8zM345.1 69.4h.8v.8h-.8zM350.1 77.7h.8v.8h-.8zM340.0 69.3h.8v.8h-.8zM349.3 99.5h.8v.8h-.8zM352.9 58.2h.8v.8h-.8zM346.7 101.8h.8v.8h-.8zM339.8 64.8h.8v.8h-.8zM341.3 81.5h.8v.8h-.8zM345.0 103.8h.8v.8h-.8zM344.3 57.2h.8v.8h-.8zM350.9 64.0h.8v.8h-.8zM350.1 104.0h.8v.8h-.8zM350.5 56.6h.8v.8h-.8zM338.1 86.5h.8v.8h-.8zM341.7 86.4h.8v.8h-.8zM347.3 58.7h.8v.8h-.8zM348.6 49.8h.8v.8h-.8zM343.4 77.8h.8v.8h-.8zM344.0 92.0h.8v.8h-.8zM346.5 85.3h.8v.8h-.8zM349.1 94.1h.8v.8h-.8zM345.1 98.1h.8v.8h-.8zM345.5 104.9h.8v.8h-.8zM352.3 54.6h.8v.8h-.8zM338.1 72.2h.8v.8h-.8zM352.5 94.6h.8v.8h-.8zM344.7 58.2h.8v.8h-.8zM345.0 46.3h.8v.8h-.8zM350.6 80.6h.8v.8h-.8zM344.9 71.8h.8v.8h-.8zM348.2 77.6h.8v.8h-.8zM347.3 49.7h.8v.8h-.8zM350.0 97.2h.8v.8h-.8zM344.7 92.7h.8v.8h-.8zM343.0 48.9h.8v.8h-.8zM338.0 60.2h.8v.8h-.8zM338.3 73.5h.8v.8h-.8zM341.5 65.6h.8v.8h-.8zM350.1 99.3h.8v.8h-.8zM353.9 68.4h.8v.8h-.8zM346.3 54.5h.8v.8h-.8zM343.6 107.6h.8v.8h-.8zM338.8 69.1h.8v.8h-.8zM350.6 61.2h.8v.8h-.8zM351.9 90.3h.8v.8h-.8zM342.2 59.3h.8v.8h-.8zM340.1 71.1h.8v.8h-.8zM350.9 86.6h.8v.8h-.8zM337.3 61.9h.8v.8h-.8zM342.5 68.7h.8v.8h-.8zM348.4 80.2h.8v.8h-.8zM349.3 105.1h.8v.8h-.8zM343.1 69.1h.8v.8h-.8zM342.0 65.0h.8v.8h-.8zM339.3 54.2h.8v.8h-.8zM344.4 54.7h.8v.8h-.8zM343.0 53.7h.8v.8h-.8zM350.2 79.4h.8v.8h-.8zM344.9 81.5h.8v.8h-.8zM340.5 60.2h.8v.8h-.8zM341.0 101.1h.8v.8h-.8zM344.2 83.4h.8v.8h-.8zM341.4 80.9h.8v.8h-.8zM352.1 84.1h.8v.8h-.8zM342.7 70.6h.8v.8h-.8zM353.6 100.3h.8v.8h-.8zM345.2 63.8h.8v.8h-.8zM338.2 75.6h.8v.8h-.8zM346.3 84.0h.8v.8h-.8zM353.6 106.0h.8v.8h-.8zM341.0 100.7h.8v.8h-.8zM350.6 88.5h.8v.8h-.8zM348.2 75.4h.8v.8h-.8zM341.6 62.3h.8v.8h-.8zM345.9 59.2h.8v.8h-.8zM340.4 55.4h.8v.8h-.8zM343.7 93.4h.8v.8h-.8zM352.7 69.1h.8v.8h-.8zM340.7 92.6h.8v.8h-.8zM353.5 80.3h.8v.8h-.8zM350.4 83.9h.8v.8h-.8zM349.4 58.8h.8v.8h-.8zM342.9 84.4h.8v.8h-.8zM339.4 90.8h.8v.8h-.8zM346.1 74.9h.8v.8h-.8zM340.0 95.2h.8v.8h-.8zM339.4 69.1h.8v.8h-.8zM351.9 106.8h.8v.8h-.8zM350.0 78.9h.8v.8h-.8zM346.7 53.2h.8v.8h-.8zM339.1 58.6h.8v.8h-.8zM341.5 60.6h.8v.8h-.8zM344.6 70.5h.8v.8h-.8zM342.3 47.7h.8v.8h-.8zM349.1 83.9h.8v.8h-.8zM356.4 99.3h.8v.8h-.8zM343.5 97.4h.8v.8h-.8zM351.6 63.8h.8v.8h-.8zM352.6 91.1h.8v.8h-.8zM352.9 97.0h.8v.8h-.8zM342.5 89.1h.8v.8h-.8zM349.1 95.9h.8v.8h-.8zM348.6 66.7h.8v.8h-.8zM340.7 91.5h.8v.8h-.8zM351.3 79.0h.8v.8h-.8zM341.1 71.6h.8v.8h-.8zM345.1 69.8h.8v.8h-.8zM346.0 104.9h.8v.8h-.8zM350.4 55.4h.8v.8h-.8zM349.6 104.7h.8v.8h-.8zM336.8 66.9h.8v.8h-.8zM348.7 57.6h.8v.8h-.8zM355.1 98.8h.8v.8h-.8zM345.1 80.3h.8v.8h-.8zM353.8 88.1h.8v.8h-.8zM349.3 70.8h.8v.8h-.8zM345.4 46.1h.8v.8h-.8zM343.6 82.0h.8v.8h-.8zM351.2 107.3h.8v.8h-.8zM344.8 59.0h.8v.8h-.8zM348.9 104.0h.8v.8h-.8zM352.7 76.7h.8v.8h-.8zM345.9 99.4h.8v.8h-.8zM346.4 94.4h.8v.8h-.8zM338.3 95.2h.8v.8h-.8zM352.0 79.2h.8v.8h-.8zM336.7 68.9h.8v.8h-.8zM348.0 101.7h.8v.8h-.8zM349.4 71.6h.8v.8h-.8zM340.8 64.2h.8v.8h-.8zM339.2 82.6h.8v.8h-.8zM344.1 52.3h.8v.8h-.8zM351.1 67.1h.8v.8h-.8zM342.6 53.4h.8v.8h-.8zM343.0 96.5h.8v.8h-.8zM343.9 76.4h.8v.8h-.8zM341.0 89.0h.8v.8h-.8zM347.1 62.2h.8v.8h-.8zM339.4 98.7h.8v.8h-.8zM343.8 103.8h.8v.8h-.8zM351.3 82.5h.8v.8h-.8zM343.5 105.1h.8v.8h-.8zM350.1 87.0h.8v.8h-.8zM342.7 52.5h.8v.8h-.8zM353.3 98.4h.8v.8h-.8zM346.2 50.4h.8v.8h-.8zM350.8 86.8h.8v.8h-.8zM348.5 74.0h.8v.8h-.8zM344.1 64.2h.8v.8h-.8zM347.7 106.1h.8v.8h-.8zM348.9 88.9h.8v.8h-.8zM349.1 58.0h.8v.8h-.8zM342.3 91.5h.8v.8h-.8zM351.3 60.2h.8v.8h-.8zM351.0 93.7h.8v.8h-.8zM344.2 45.0h.8v.8h-.8zM341.1 78.3h.8v.8h-.8zM345.2 52.0h.8v.8h-.8zM342.8 47.5h.8v.8h-.8zM343.7 79.7h.8v.8h-.8zM342.6 83.2h.8v.8h-.8zM350.5 54.0h.8v.8h-.8zM338.8 51.2h.8v.8h-.8zM340.5 75.3h.8v.8h-.8zM355.1 104.6h.8v.8h-.8zM345.0 101.8h.8v.8h-.8zM341.6 71.5h.8v.8h-.8zM341.3 71.6h.8v.8h-.8zM345.7 79.0h.8v.8h-.8zM340.2 75.0h.8v.8h-.8zM342.6 105.8h.8v.8h-.8zM347.4 105.5h.8v.8h-.8zM347.5 67.6h.8v.8h-.8zM347.8 81.7h.8v.8h-.8zM344.9 77.0h.8v.8h-.8zM349.7 49.5h.8v.8h-.8zM353.3 94.5h.8v.8h-.8zM348.2 79.3h.8v.8h-.8zM351.6 81.1h.8v.8h-.8zM351.2 70.8h.8v.8h-.8zM352.3 72.2h.8v.8h-.8zM341.8 72.7h.8v.8h-.8zM349.3 79.1h.8v.8h-.8zM346.6 103.0h.8v.8h-.8zM342.8 78.3h.8v.8h-.8zM349.5 103.4h.8v.8h-.8zM349.9 68.8h.8v.8h-.8zM347.2 56.9h.8v.8h-.8zM345.5 68.9h.8v.8h-.8zM344.5 106.8h.8v.8h-.8zM350.1 58.9h.8v.8h-.8zM351.0 80.8h.8v.8h-.8zM350.6 71.7h.8v.8h-.8zM346.5 106.4h.8v.8h-.8zM343.9 75.2h.8v.8h-.8zM346.8 79.3h.8v.8h-.8zM337.7 56.8h.8v.8h-.8zM347.9 51.7h.8v.8h-.8zM347.1 101.6h.8v.8h-.8zM349.9 67.3h.8v.8h-.8zM350.7 62.6h.8v.8h-.8zM350.9 60.9h.8v.8h-.8zM339.6 60.2h.8v.8h-.8zM344.6 61.4h.8v.8h-.8zM339.2 76.6h.8v.8h-.8zM347.8 78.8h.8v.8h-.8zM345.9 86.2h.8v.8h-.8zM351.0 104.4h.8v.8h-.8zM346.7 66.3h.8v.8h-.8zM349.1 48.6h.8v.8h-.8zM349.8 98.7h.8v.8h-.8zM345.6 48.9h.8v.8h-.8zM345.0 56.6h.8v.8h-.8zM342.8 75.1h.8v.8h-.8zM344.7 79.7h.8v.8h-.8zM346.6 52.6h.8v.8h-.8zM340.7 88.9h.8v.8h-.8zM357.4 104.8h.8v.8h-.8zM344.7 81.8h.8v.8h-.8zM347.9 83.2h.8v.8h-.8zM353.6 88.1h.8v.8h-.8zM347.1 92.5h.8v.8h-.8zM340.7 66.2h.8v.8h-.8zM352.0 60.8h.8v.8h-.8zM345.7 65.5h.8v.8h-.8zM343.8 59.0h.8v.8h-.8zM344.5 94.2h.8v.8h-.8zM345.6 60.3h.8v.8h-.8zM340.6 90.5h.8v.8h-.8zM342.8 107.3h.8v.8h-.8zM341.3 102.3h.8v.8h-.8zM342.1 52.7h.8v.8h-.8zM352.3 65.6h.8v.8h-.8zM341.9 62.4h.8v.8h-.8zM351.3 74.5h.8v.8h-.8zM337.3 100.2h.8v.8h-.8zM354.9 90.5h.8v.8h-.8zM343.8 67.8h.8v.8h-.8zM340.0 55.7h.8v.8h-.8zM345.7 78.6h.8v.8h-.8zM351.8 77.7h.8v.8h-.8z"/>
<path d="M336.5,58.0 L342.0,51.0 L351.5,45.5 L353.5,58.5 L354.5,80.0 L352.0,97.0 L346.5,105.5 L339.0,95.0 L337.0,74.0 Z" fill="#e8241a" filter="url(#b05)" opacity="1"/>
<path d="M340.0,61.0 L344.5,55.0 L350.0,52.0 L350.5,62.0 L351.0,80.0 L349.0,94.0 L346.5,99.0 L342.0,92.0 L340.5,74.0 Z" fill="#ff7a1a" filter="url(#b1)" opacity="0.85"/>
<path d="M344.5,58 C348,59 350,66 350.5,78 C351,88 349,96 347,97 C344,96 342.5,86 342.5,76 C342.5,66 342,60 344.5,58 Z" fill="#ffe21a" filter="url(#b05)" opacity="1"/>
<path d="M344.8,61 C347.5,62 349,68 349.4,78 C349.6,87 348.2,93 347,94 C345,93 343.6,86 343.6,77 C343.6,68 343,63 344.8,61 Z" fill="#5cd23a" filter="url(#b05)" opacity="1"/>
<path d="M346.3,67 C348.3,70 348.8,78 348.6,84 C348.4,89 347.6,92 347,92 C345.8,90 344.8,84 344.8,78 C344.8,72 345.2,68 346.3,67 Z" fill="#3a0f8f" filter="url(#b05)" opacity="1"/>
</g>
<rect x="332.8" y="41.7" width="16.9" height="22.3" fill="none" stroke="#555" stroke-width="0.8"/>
<rect x="332.8" y="69.0" width="17.3" height="22.7" fill="none" stroke="#555" stroke-width="0.8"/>
<text x="334" y="46.5" font-size="3.5" fill="#555">R6</text>
<line x1="85.0" y1="71.8" x2="120.6" y2="71.8" stroke="#000" stroke-width="1"/>
<polygon points="125.0,71.8 119.5,74.0 119.5,69.5" fill="#000"/>
<line x1="182.0" y1="83.5" x2="218.0" y2="83.5" stroke="#000" stroke-width="1"/>
<polygon points="222.4,83.5 216.9,85.8 216.9,81.2" fill="#000"/>
<line x1="274.8" y1="77.5" x2="311.6" y2="77.5" stroke="#000" stroke-width="1"/>
<polygon points="316.0,77.5 310.5,79.8 310.5,75.2" fill="#000"/>
<line x1="19.2" y1="110.5" x2="19.2" y2="64.0" stroke="#333" stroke-width="1"/>
<polygon points="19.2,60.6 22.1,66.1 16.4,66.1" fill="#000"/>
<line x1="19.2" y1="110.5" x2="68.0" y2="110.5" stroke="#333" stroke-width="1"/>
<polygon points="71.0,110.5 65.5,113.2 65.5,107.8" fill="#000"/>
<line x1="114.2" y1="110.5" x2="114.2" y2="64.0" stroke="#333" stroke-width="1"/>
<polygon points="114.2,60.6 117.2,66.1 111.3,66.1" fill="#000"/>
<line x1="114.2" y1="110.5" x2="162.0" y2="110.5" stroke="#333" stroke-width="1"/>
<polygon points="165.0,110.5 159.5,113.2 159.5,107.8" fill="#000"/>
<line x1="203.6" y1="110.5" x2="203.6" y2="64.0" stroke="#333" stroke-width="1"/>
<polygon points="203.6,60.6 206.5,66.1 200.7,66.1" fill="#000"/>
<line x1="203.6" y1="110.5" x2="247.6" y2="110.5" stroke="#333" stroke-width="1"/>
<polygon points="250.6,110.5 245.1,113.2 245.1,107.8" fill="#000"/>
<line x1="294.3" y1="110.5" x2="294.3" y2="64.0" stroke="#333" stroke-width="1"/>
<polygon points="294.3,60.6 297.2,66.1 291.4,66.1" fill="#000"/>
<line x1="294.3" y1="110.5" x2="342.3" y2="110.5" stroke="#333" stroke-width="1"/>
<polygon points="345.3,110.5 339.8,113.2 339.8,107.8" fill="#000"/>
<text transform="translate(23.6,58.0) rotate(-90)" font-size="12.2" textLength="23.0" lengthAdjust="spacingAndGlyphs">SSC</text>
<text transform="translate(118.6,58.0) rotate(-90)" font-size="12.2" textLength="23.0" lengthAdjust="spacingAndGlyphs">SSC</text>
<text transform="translate(206.3,57.5) rotate(-90)" font-size="12.2" textLength="22.7" lengthAdjust="spacingAndGlyphs">SSC</text>
<text transform="translate(298.2,58.8) rotate(-90)" font-size="12.6" textLength="32.5" lengthAdjust="spacingAndGlyphs">FoxP3</text>
<text transform="translate(293.4,22.9) rotate(-90)" font-size="5.2" textLength="10.7" lengthAdjust="spacingAndGlyphs">YFP</text>
<text x="71.8" y="115.4" font-size="13" textLength="22.7" lengthAdjust="spacingAndGlyphs">FSC</text>
<text x="166.0" y="115.4" font-size="13" textLength="24.2" lengthAdjust="spacingAndGlyphs">CD3</text>
<text x="255.3" y="115.2" font-size="13" textLength="23.2" lengthAdjust="spacingAndGlyphs">CD4</text>
<text x="346.0" y="115.2" font-size="13" textLength="22.5" lengthAdjust="spacingAndGlyphs">CD4</text>
<text x="359.6" y="45.4" font-size="11.5" textLength="31.2" lengthAdjust="spacingAndGlyphs">FoxP3</text>
<text x="390.6" y="40.6" font-size="6">+</text>
<text x="365.5" y="53.2" font-size="11.5" textLength="20.3" lengthAdjust="spacingAndGlyphs">Treg</text>
<text x="363.2" y="90.2" font-size="11.5" textLength="27.3" lengthAdjust="spacingAndGlyphs">FoxP3</text>
<text x="390.5" y="84.6" font-size="6">-</text>
<text x="368.0" y="99.2" font-size="11.5" textLength="16.8" lengthAdjust="spacingAndGlyphs">Teff</text>
<line x1="360.1" y1="50.2" x2="354.3" y2="52.8" stroke="#000" stroke-width="0.9"/>
<polygon points="350.3,54.6 354.3,50.1 356.3,54.6" fill="#000"/>
<line x1="363.7" y1="89.2" x2="353.4" y2="83.7" stroke="#000" stroke-width="0.9"/>
<polygon points="349.5,81.6 355.5,82.0 353.2,86.4" fill="#000"/>
<ellipse cx="55.5" cy="148.2" rx="6.6" ry="5.2" fill="#fffaf0" stroke="#f4c060" stroke-width="2.4" filter="url(#b05)"/>
<ellipse cx="45.0" cy="163" rx="5.8" ry="5.0" fill="#fffaf0" stroke="#f4c060" stroke-width="2.4" filter="url(#b05)"/>
<ellipse cx="60.2" cy="164.9" rx="5.5" ry="5.0" fill="#fffaf0" stroke="#f4c060" stroke-width="2.4" filter="url(#b05)"/>
<text x="77.0" y="159.3" font-size="10.5" textLength="41.0" lengthAdjust="spacingAndGlyphs">Labeled</text>
<line x1="75.8" y1="163.0" x2="114.8" y2="163.0" stroke="#000" stroke-width="1"/>
<polygon points="118.8,163.0 113.8,165.1 113.8,160.9" fill="#000"/>
<text x="20.0" y="183.3" font-size="10.8" textLength="35.5" lengthAdjust="spacingAndGlyphs">FoxP3</text>
<text x="55.6" y="178.0" font-size="6">+</text>
<text x="59.5" y="183.3" font-size="10.8" textLength="21.8" lengthAdjust="spacingAndGlyphs">Treg</text>
<ellipse cx="157.5" cy="148.1" rx="6.8" ry="5.5" fill="#fff0d8" stroke="#f4a444" stroke-width="2.2" filter="url(#b05)"/>
<ellipse cx="157.5" cy="148.1" rx="7.3999999999999995" ry="6.1" fill="none" stroke="#9a2a18" stroke-width="1.1" stroke-dasharray="0.9 1.3"/>
<ellipse cx="145.3" cy="161.6" rx="5.7" ry="4.8" fill="#fff0d8" stroke="#f4a444" stroke-width="2.2" filter="url(#b05)"/>
<ellipse cx="145.3" cy="161.6" rx="6.3" ry="5.3999999999999995" fill="none" stroke="#9a2a18" stroke-width="1.1" stroke-dasharray="0.9 1.3"/>
<ellipse cx="159.9" cy="166" rx="5.5" ry="4.6" fill="#fff0d8" stroke="#f4a444" stroke-width="2.2" filter="url(#b05)"/>
<ellipse cx="159.9" cy="166" rx="6.1" ry="5.199999999999999" fill="none" stroke="#9a2a18" stroke-width="1.1" stroke-dasharray="0.9 1.3"/>
<text x="121.8" y="183.3" font-size="10.8" textLength="35.7" lengthAdjust="spacingAndGlyphs">FoxP3</text>
<text x="157.6" y="178.0" font-size="6">+</text>
<text x="161.3" y="183.3" font-size="10.8" textLength="21.2" lengthAdjust="spacingAndGlyphs">Treg</text>
<text x="107.0" y="197.5" font-size="10.8" textLength="90.5" lengthAdjust="spacingAndGlyphs">labeled CD73-PE</text>
<line x1="187.5" y1="162.5" x2="225.8" y2="162.5" stroke="#000" stroke-width="1"/>
<polygon points="229.8,162.5 224.8,164.6 224.8,160.4" fill="#000"/>
<ellipse cx="277" cy="135.2" rx="34.5" ry="9.6" fill="none" stroke="#666" stroke-width="0.8"/>
<ellipse cx="277" cy="136" rx="26.4" ry="6.8" fill="none" stroke="#777" stroke-width="0.7"/>
<ellipse cx="277" cy="136.6" rx="24.6" ry="5.6" fill="none" stroke="#999" stroke-width="0.5"/>
<path d="M242.6,152.3 L242.6,186 A34.4,6 0 0 0 311.4,186 L311.4,152.3 A34.4,3.8 0 0 1 242.6,152.3 Z" fill="url(#liq)"/>
<ellipse cx="277" cy="152.3" rx="34.4" ry="3.8" fill="#f07a48" stroke="#b84a20" stroke-width="0.4"/>
<ellipse cx="277" cy="152.6" rx="30" ry="2.6" fill="#f69a68" opacity="0.8"/>
<ellipse cx="296" cy="168" rx="4" ry="12" fill="#ffd8c0" opacity="0.55" filter="url(#b2)"/>
<path d="M243.5,181 A33.6,4.5 0 0 1 310.5,181 L310.5,187 A33.6,5.5 0 0 1 243.5,187 Z" fill="#eeea1a"/>
<g fill="#222"><circle cx="255.6" cy="187.1" r="1.0"/><circle cx="285.6" cy="184.5" r="1.0"/><circle cx="258.8" cy="188.4" r="1.0"/><circle cx="296.7" cy="184.9" r="1.0"/><circle cx="277.3" cy="181.5" r="1.0"/><circle cx="245.2" cy="183.1" r="1.0"/><circle cx="282.5" cy="179.4" r="1.0"/><circle cx="295.8" cy="181.4" r="1.0"/><circle cx="259.9" cy="179.0" r="1.0"/><circle cx="301.0" cy="186.2" r="1.0"/><circle cx="247.2" cy="182.6" r="1.0"/><circle cx="276.8" cy="179.9" r="1.0"/><circle cx="305.9" cy="183.1" r="1.0"/><circle cx="254.9" cy="188.7" r="1.0"/><circle cx="253.0" cy="190.1" r="1.0"/><circle cx="274.0" cy="185.4" r="1.0"/><circle cx="266.9" cy="184.6" r="1.0"/><circle cx="300.4" cy="181.4" r="1.0"/><circle cx="294.9" cy="181.1" r="1.0"/><circle cx="293.3" cy="188.0" r="1.0"/><circle cx="282.2" cy="187.6" r="1.0"/><circle cx="252.8" cy="184.5" r="1.0"/><circle cx="297.9" cy="181.0" r="1.0"/><circle cx="271.2" cy="183.1" r="1.0"/><circle cx="273.9" cy="183.3" r="1.0"/><circle cx="308.7" cy="183.3" r="1.0"/><circle cx="291.0" cy="190.9" r="1.0"/><circle cx="276.7" cy="184.6" r="1.0"/><circle cx="280.2" cy="187.9" r="1.0"/><circle cx="259.2" cy="186.1" r="1.0"/><circle cx="280.6" cy="186.3" r="1.0"/><circle cx="256.6" cy="180.6" r="1.0"/><circle cx="267.3" cy="190.1" r="1.0"/><circle cx="267.2" cy="186.0" r="1.0"/><circle cx="264.6" cy="179.8" r="1.0"/><circle cx="249.2" cy="188.7" r="1.0"/><circle cx="294.7" cy="183.2" r="1.0"/><circle cx="288.7" cy="186.9" r="1.0"/><circle cx="271.0" cy="190.9" r="1.0"/><circle cx="306.5" cy="185.9" r="1.0"/><circle cx="301.5" cy="184.6" r="1.0"/><circle cx="269.0" cy="181.6" r="1.0"/><circle cx="301.1" cy="180.5" r="1.0"/><circle cx="249.4" cy="188.6" r="1.0"/><circle cx="294.5" cy="184.5" r="1.0"/><circle cx="261.5" cy="182.1" r="1.0"/><circle cx="271.9" cy="180.6" r="1.0"/><circle cx="249.4" cy="182.7" r="1.0"/><circle cx="292.7" cy="184.5" r="1.0"/><circle cx="261.1" cy="190.5" r="1.0"/><circle cx="278.6" cy="187.6" r="1.0"/><circle cx="298.6" cy="188.4" r="1.0"/><circle cx="301.4" cy="186.0" r="1.0"/><circle cx="272.3" cy="185.8" r="1.0"/><circle cx="299.4" cy="182.3" r="1.0"/><circle cx="279.2" cy="181.9" r="1.0"/><circle cx="294.2" cy="178.6" r="1.0"/><circle cx="288.9" cy="190.4" r="1.0"/><circle cx="246.5" cy="185.9" r="1.0"/><circle cx="286.2" cy="189.1" r="1.0"/><circle cx="282.4" cy="181.7" r="1.0"/></g>
<ellipse cx="276" cy="169.2" rx="25" ry="4.2" fill="#6aa8f0" stroke="#2a5ab0" stroke-width="0.5"/>
<g fill="#16407a"><circle cx="271.7" cy="171.8" r="0.9"/><circle cx="294.7" cy="167.2" r="0.9"/><circle cx="254.2" cy="169.0" r="0.9"/><circle cx="259.5" cy="171.3" r="0.9"/><circle cx="283.1" cy="167.2" r="0.9"/><circle cx="277.8" cy="168.3" r="0.9"/><circle cx="275.7" cy="167.7" r="0.9"/><circle cx="260.6" cy="167.5" r="0.9"/><circle cx="270.4" cy="170.4" r="0.9"/><circle cx="278.3" cy="166.8" r="0.9"/><circle cx="285.7" cy="171.3" r="0.9"/><circle cx="288.6" cy="170.8" r="0.9"/><circle cx="253.4" cy="169.1" r="0.9"/><circle cx="255.9" cy="170.7" r="0.9"/><circle cx="261.1" cy="170.4" r="0.9"/><circle cx="264.6" cy="170.3" r="0.9"/><circle cx="267.4" cy="166.7" r="0.9"/><circle cx="270.9" cy="168.2" r="0.9"/><circle cx="294.4" cy="168.1" r="0.9"/><circle cx="276.1" cy="169.5" r="0.9"/><circle cx="280.7" cy="169.3" r="0.9"/><circle cx="286.8" cy="171.8" r="0.9"/><circle cx="267.3" cy="170.3" r="0.9"/><circle cx="277.2" cy="169.6" r="0.9"/></g>
<line x1="242.5" y1="135.2" x2="242.5" y2="187.0" stroke="#777" stroke-width="0.7"/>
<line x1="311.5" y1="135.2" x2="311.5" y2="187.0" stroke="#777" stroke-width="0.7"/>
<line x1="250.6" y1="136.0" x2="250.6" y2="176.0" stroke="#999" stroke-width="0.6"/>
<line x1="303.4" y1="136.0" x2="303.4" y2="176.0" stroke="#999" stroke-width="0.6"/>
<path d="M242.5,187 A34.5,5.5 0 0 0 311.5,187" fill="none" stroke="#555" stroke-width="0.8"/>
<text x="331.0" y="155.0" font-size="10.8" textLength="34.0" lengthAdjust="spacingAndGlyphs">FoxP3</text>
<text x="365.2" y="149.8" font-size="6">+</text>
<text x="369.0" y="155.0" font-size="10.8" textLength="23.3" lengthAdjust="spacingAndGlyphs">Treg</text>
<text x="317.3" y="167.5" font-size="10.8" textLength="90.0" lengthAdjust="spacingAndGlyphs">labeled CD73-PE</text>
<line x1="319.6" y1="155.5" x2="296.7" y2="166.4" stroke="#000" stroke-width="0.9"/>
<polygon points="293.5,168.0 296.7,164.3 298.4,167.9" fill="#000"/>
<text x="318.5" y="200.0" font-size="10.8" textLength="31.5" lengthAdjust="spacingAndGlyphs">FoxP3</text>
<text x="350.3" y="194.5" font-size="6">-</text>
<text x="353.5" y="200.0" font-size="10.8" textLength="21.3" lengthAdjust="spacingAndGlyphs">Teff</text>
<line x1="316.5" y1="194.7" x2="295.5" y2="185.0" stroke="#000" stroke-width="0.9"/>
<polygon points="292.2,183.5 297.1,183.6 295.4,187.2" fill="#000"/>
<text x="229.8" y="213.0" font-size="11.2" textLength="100.0" lengthAdjust="spacingAndGlyphs">Co-cultured for 12h</text>
<text x="218.0" y="227.2" font-size="11.2" textLength="123.0" lengthAdjust="spacingAndGlyphs">with αCD3/CD28 beads</text>
<text x="479.5" y="25.0" font-size="12.2" fill="#2b2bb5" textLength="27.0" lengthAdjust="spacingAndGlyphs">DAPI</text>
<text x="565.8" y="25.0" font-size="12.2" fill="#d92a2a" textLength="15.7" lengthAdjust="spacingAndGlyphs">PE</text>
<text x="641.8" y="25.0" font-size="12.2" textLength="32.5" lengthAdjust="spacingAndGlyphs">Merge</text>
<text transform="translate(432.2,78.8) rotate(-90)" font-size="10.5" font-weight="bold" textLength="18.8" lengthAdjust="spacingAndGlyphs">Teff</text>
<text transform="translate(432.2,167.0) rotate(-90)" font-size="10.5" font-weight="bold" textLength="16.0" lengthAdjust="spacingAndGlyphs">Teff</text>
<text transform="translate(444.8,110.5) rotate(-90)" font-size="7.8" textLength="80.5" lengthAdjust="spacingAndGlyphs">(Treg (labeled IgG-PE))</text>
<text transform="translate(444.8,201.0) rotate(-90)" font-size="7.8" textLength="85.0" lengthAdjust="spacingAndGlyphs">(Treg (labeled CD73-PE))</text>
<rect x="449.3" y="30.0" width="81.4" height="80.5" fill="#000"/>
<clipPath id="cc1"><rect x="449.3" y="30" width="81.4" height="80.5"/></clipPath>
<rect x="533.2" y="30.0" width="80.5" height="80.5" fill="#000"/>
<clipPath id="cc2"><rect x="533.2" y="30" width="80.5" height="80.5"/></clipPath>
<rect x="616.5" y="30.0" width="81.1" height="80.5" fill="#000"/>
<clipPath id="cc3"><rect x="616.5" y="30" width="81.1" height="80.5"/></clipPath>
<rect x="449.3" y="114.0" width="81.4" height="81.3" fill="#000"/>
<clipPath id="cc4"><rect x="449.3" y="114" width="81.4" height="81.3"/></clipPath>
<rect x="533.2" y="114.0" width="80.5" height="81.3" fill="#000"/>
<clipPath id="cc5"><rect x="533.2" y="114" width="80.5" height="81.3"/></clipPath>
<rect x="616.5" y="114.0" width="81.1" height="81.3" fill="#000"/>
<clipPath id="cc6"><rect x="616.5" y="114" width="81.1" height="81.3"/></clipPath>
<rect x="720.0" y="29.6" width="83.6" height="81.4" fill="#000"/>
<rect x="720.0" y="113.8" width="84.2" height="81.4" fill="#000"/>
<g clip-path="url(#cc1)"><g fill="#2a2aa0" opacity="0.42" filter="url(#b1)"><circle cx="459.0" cy="48.1" r="1.9"/><circle cx="473.0" cy="42.5" r="1.9"/><circle cx="487.0" cy="39.0" r="1.9"/><circle cx="482.8" cy="48.1" r="1.9"/><circle cx="513.6" cy="50.2" r="1.9"/><circle cx="493.3" cy="63.5" r="1.9"/><circle cx="501.7" cy="65.9" r="1.9"/><circle cx="475.8" cy="70.5" r="1.9"/><circle cx="487.0" cy="68.4" r="1.9"/><circle cx="490.5" cy="69.8" r="1.9"/><circle cx="495.4" cy="70.5" r="1.9"/><circle cx="505.2" cy="71.2" r="1.9"/><circle cx="471.6" cy="77.5" r="1.9"/><circle cx="474.4" cy="77.5" r="1.9"/><circle cx="482.1" cy="81.7" r="1.9"/><circle cx="486.3" cy="81.7" r="1.9"/><circle cx="493.3" cy="81.7" r="1.9"/><circle cx="498.2" cy="85.2" r="1.9"/><circle cx="488.4" cy="86.6" r="1.9"/><circle cx="501.7" cy="89.4" r="1.9"/><circle cx="508.0" cy="80.3" r="1.9"/><circle cx="513.6" cy="69.8" r="1.9"/><circle cx="509.4" cy="92.2" r="1.9"/><circle cx="506.6" cy="99.2" r="1.9"/><circle cx="513.6" cy="97.8" r="1.9"/><circle cx="454.1" cy="93.6" r="1.9"/><circle cx="450.6" cy="69.8" r="1.9"/><circle cx="529.0" cy="62.8" r="1.9"/></g></g>
<g clip-path="url(#cc4)"><g fill="#3030d8" opacity="0.7" filter="url(#b1)"><circle cx="482.1" cy="119.2" r="1.9"/><circle cx="491.2" cy="119.9" r="1.9"/><circle cx="487.0" cy="124.1" r="1.9"/><circle cx="524.1" cy="124.8" r="1.9"/><circle cx="458.3" cy="129.0" r="1.9"/><circle cx="470.9" cy="132.5" r="1.9"/><circle cx="462.5" cy="135.3" r="1.9"/><circle cx="516.4" cy="128.3" r="1.9"/><circle cx="515.7" cy="132.5" r="1.9"/><circle cx="516.4" cy="136.7" r="1.9"/><circle cx="473.7" cy="139.5" r="1.9"/><circle cx="476.5" cy="142.3" r="1.9"/><circle cx="480.7" cy="138.8" r="1.9"/><circle cx="487.7" cy="138.8" r="1.9"/><circle cx="489.8" cy="141.6" r="1.9"/><circle cx="482.8" cy="144.4" r="1.9"/><circle cx="502.4" cy="140.9" r="1.9"/><circle cx="454.8" cy="148.6" r="1.9"/><circle cx="512.9" cy="150.7" r="1.9"/><circle cx="453.4" cy="161.2" r="1.9"/><circle cx="462.5" cy="164.0" r="1.9"/><circle cx="494.7" cy="161.9" r="1.9"/><circle cx="498.2" cy="167.5" r="1.9"/><circle cx="509.4" cy="164.0" r="1.9"/><circle cx="517.1" cy="164.0" r="1.9"/><circle cx="454.1" cy="169.6" r="1.9"/><circle cx="460.4" cy="175.9" r="1.9"/><circle cx="469.5" cy="172.4" r="1.9"/><circle cx="479.3" cy="173.8" r="1.9"/><circle cx="482.1" cy="173.8" r="1.9"/><circle cx="508.0" cy="178.7" r="1.9"/><circle cx="518.5" cy="182.2" r="1.9"/><circle cx="522.0" cy="184.3" r="1.9"/><circle cx="482.8" cy="187.8" r="1.9"/><circle cx="488.4" cy="185.7" r="1.9"/></g></g>
<g clip-path="url(#cc3)"><g fill="#2a2aa0" opacity="0.42" filter="url(#b1)"><circle cx="625.4" cy="48.9" r="1.9"/><circle cx="640.9" cy="41.2" r="1.9"/><circle cx="653.9" cy="41.3" r="1.9"/><circle cx="651.3" cy="46.2" r="1.9"/><circle cx="680.5" cy="50.9" r="1.9"/><circle cx="659.3" cy="66.3" r="1.9"/><circle cx="667.9" cy="65.6" r="1.9"/><circle cx="644.5" cy="71.3" r="1.9"/><circle cx="651.8" cy="67.3" r="1.9"/><circle cx="656.5" cy="67.1" r="1.9"/><circle cx="662.0" cy="71.9" r="1.9"/><circle cx="670.8" cy="73.3" r="1.9"/><circle cx="640.2" cy="77.8" r="1.9"/><circle cx="641.5" cy="75.2" r="1.9"/><circle cx="645.4" cy="84.6" r="1.9"/><circle cx="651.0" cy="80.0" r="1.9"/><circle cx="661.7" cy="83.2" r="1.9"/><circle cx="661.9" cy="84.1" r="1.9"/><circle cx="652.9" cy="85.2" r="1.9"/><circle cx="664.7" cy="89.5" r="1.9"/><circle cx="672.8" cy="79.7" r="1.9"/><circle cx="677.7" cy="67.5" r="1.9"/><circle cx="672.6" cy="94.4" r="1.9"/><circle cx="674.1" cy="99.6" r="1.9"/><circle cx="677.3" cy="95.7" r="1.9"/><circle cx="617.8" cy="92.5" r="1.9"/><circle cx="613.9" cy="68.5" r="1.9"/><circle cx="693.2" cy="61.0" r="1.9"/><circle cx="669.0" cy="67.3" r="1.9"/><circle cx="655.5" cy="59.9" r="1.9"/><circle cx="660.4" cy="91.9" r="1.9"/><circle cx="643.1" cy="38.3" r="1.9"/><circle cx="656.1" cy="61.4" r="1.9"/><circle cx="678.5" cy="41.3" r="1.9"/><circle cx="685.5" cy="34.1" r="1.9"/><circle cx="660.7" cy="66.3" r="1.9"/></g></g>
<g clip-path="url(#cc6)"><g fill="#3030c8" opacity="0.6" filter="url(#b1)"><circle cx="646.6" cy="122.3" r="1.9"/><circle cx="658.8" cy="117.2" r="1.9"/><circle cx="653.0" cy="125.0" r="1.9"/><circle cx="686.4" cy="121.5" r="1.9"/><circle cx="625.1" cy="130.8" r="1.9"/><circle cx="636.6" cy="131.9" r="1.9"/><circle cx="628.6" cy="133.4" r="1.9"/><circle cx="685.4" cy="132.0" r="1.9"/><circle cx="681.6" cy="128.7" r="1.9"/><circle cx="681.6" cy="139.1" r="1.9"/><circle cx="638.3" cy="136.3" r="1.9"/><circle cx="640.0" cy="144.0" r="1.9"/><circle cx="647.7" cy="137.1" r="1.9"/><circle cx="654.7" cy="140.9" r="1.9"/><circle cx="659.5" cy="144.3" r="1.9"/><circle cx="648.3" cy="146.9" r="1.9"/><circle cx="671.8" cy="143.9" r="1.9"/><circle cx="622.8" cy="149.3" r="1.9"/><circle cx="679.0" cy="153.5" r="1.9"/><circle cx="620.4" cy="163.0" r="1.9"/><circle cx="626.3" cy="160.7" r="1.9"/><circle cx="658.9" cy="162.6" r="1.9"/><circle cx="664.8" cy="165.1" r="1.9"/><circle cx="672.9" cy="167.6" r="1.9"/><circle cx="679.7" cy="167.4" r="1.9"/><circle cx="622.3" cy="170.2" r="1.9"/><circle cx="630.4" cy="177.3" r="1.9"/><circle cx="631.6" cy="175.9" r="1.9"/><circle cx="644.6" cy="177.1" r="1.9"/><circle cx="650.6" cy="170.9" r="1.9"/><circle cx="670.3" cy="174.9" r="1.9"/><circle cx="686.7" cy="184.5" r="1.9"/><circle cx="685.8" cy="181.2" r="1.9"/><circle cx="647.7" cy="190.2" r="1.9"/><circle cx="656.3" cy="188.6" r="1.9"/><circle cx="692.6" cy="174.4" r="1.9"/><circle cx="682.7" cy="118.2" r="1.9"/><circle cx="620.5" cy="182.5" r="1.9"/><circle cx="666.4" cy="141.8" r="1.9"/><circle cx="629.6" cy="142.3" r="1.9"/><circle cx="645.4" cy="154.7" r="1.9"/><circle cx="653.7" cy="132.4" r="1.9"/><circle cx="626.2" cy="132.4" r="1.9"/></g></g>
<g><g fill="#402020" opacity="0.5" filter="url(#b05)"><circle cx="578.0" cy="100.0" r="1.2"/><circle cx="600.0" cy="150.0" r="1.2"/><circle cx="560.0" cy="160.0" r="1.2"/><circle cx="594.0" cy="175.0" r="1.2"/><circle cx="570.0" cy="128.0" r="1.2"/></g></g>
<line x1="519.4" y1="106.5" x2="529.1" y2="106.5" stroke="#fff" stroke-width="1"/>
<line x1="520.7" y1="108.7" x2="527.7" y2="108.7" stroke="#888" stroke-width="0.5"/>
<line x1="519.4" y1="191.3" x2="529.1" y2="191.3" stroke="#fff" stroke-width="1"/>
<line x1="520.7" y1="193.5" x2="527.7" y2="193.5" stroke="#888" stroke-width="0.5"/>
<line x1="602.4" y1="106.5" x2="612.1" y2="106.5" stroke="#fff" stroke-width="1"/>
<line x1="603.7" y1="108.7" x2="610.7" y2="108.7" stroke="#888" stroke-width="0.5"/>
<line x1="602.4" y1="191.3" x2="612.1" y2="191.3" stroke="#fff" stroke-width="1"/>
<line x1="603.7" y1="193.5" x2="610.7" y2="193.5" stroke="#888" stroke-width="0.5"/>
<line x1="686.3" y1="106.5" x2="696.0" y2="106.5" stroke="#fff" stroke-width="1"/>
<line x1="687.6" y1="108.7" x2="694.6" y2="108.7" stroke="#888" stroke-width="0.5"/>
<line x1="686.3" y1="191.3" x2="696.0" y2="191.3" stroke="#fff" stroke-width="1"/>
<line x1="687.6" y1="193.5" x2="694.6" y2="193.5" stroke="#888" stroke-width="0.5"/>
<rect x="623.5" y="44.5" width="6.5" height="6.8" fill="none" stroke="#6a7aa0" stroke-width="0.7"/>
<line x1="630.0" y1="44.5" x2="720.0" y2="29.6" stroke="#a06060" stroke-width="0.7"/>
<line x1="630.0" y1="51.3" x2="720.0" y2="110.5" stroke="#a06060" stroke-width="0.7"/>
<rect x="662.5" y="164.5" width="6.8" height="6.3" fill="none" stroke="#6a7aa0" stroke-width="0.7"/>
<line x1="669.3" y1="164.5" x2="720.0" y2="114.0" stroke="#a06060" stroke-width="0.7"/>
<line x1="669.3" y1="170.8" x2="720.0" y2="195.2" stroke="#a06060" stroke-width="0.7"/>
<ellipse cx="749.4" cy="72.2" rx="12.2" ry="12.8" fill="#1a2cf2" filter="url(#b1)"/>
<g filter="url(#b15)" opacity="0.55"><circle cx="748" cy="70" r="3.5" fill="#0c1490"/><circle cx="743" cy="76" r="2.2" fill="#2a3cff"/><circle cx="755" cy="78" r="2.5" fill="#1020b0"/><circle cx="752" cy="64" r="2" fill="#3040ff"/></g>
<circle cx="759.8" cy="152.3" r="15.2" fill="none" stroke="#5a0c22" stroke-width="2.6" filter="url(#b15)"/>
<g filter="url(#b1)"><circle cx="773" cy="150.5" r="2.2" fill="#c02030"/><circle cx="757" cy="138.5" r="1.8" fill="#a01828"/><circle cx="748" cy="162" r="1.8" fill="#901828"/><circle cx="766" cy="164" r="1.5" fill="#801828"/></g>
<circle cx="759.8" cy="152.3" r="13.3" fill="#1a2ae6" filter="url(#b1)"/>
<g filter="url(#b15)" opacity="0.6"><circle cx="759" cy="153" r="4" fill="#0a1280"/><circle cx="752" cy="148" r="2.5" fill="#2a3cff"/><circle cx="766" cy="158" r="2.5" fill="#1a2ad0"/></g>
<line x1="643.0" y1="115.0" x2="648.6" y2="119.8" stroke="#f2f20a" stroke-width="2.6"/>
<polygon points="653.5,124.0 646.1,122.6 651.0,116.9" fill="#f2f20a"/>
<line x1="659.3" y1="131.3" x2="664.7" y2="136.1" stroke="#f2f20a" stroke-width="2.6"/>
<polygon points="669.5,140.5 662.2,138.9 667.2,133.4" fill="#f2f20a"/>
<line x1="655.0" y1="158.0" x2="659.7" y2="162.2" stroke="#f2f20a" stroke-width="2.6"/>
<polygon points="664.5,166.5 657.2,165.0 662.2,159.4" fill="#f2f20a"/>
<line x1="626.0" y1="165.5" x2="631.6" y2="170.3" stroke="#f2f20a" stroke-width="2.6"/>
<polygon points="636.5,174.5 629.1,173.1 634.0,167.4" fill="#f2f20a"/>
<rect x="18.0" y="261.3" width="125.0" height="123.5" fill="none" stroke="#777" stroke-width="0.9"/>
<path d="M27.0,295.5 L27.0,295.5 L29.0,293.9 L31.0,291.8 L32.5,292.6 L34.0,292.6 L35.3,292.8 L36.7,292.1 L38.0,291.0 L39.3,291.4 L40.7,289.9 L42.0,290.0 L43.5,288.5 L45.0,288.8 L46.5,288.9 L48.0,288.5 L49.3,288.1 L50.7,287.3 L52.0,285.7 L53.3,284.7 L54.7,283.0 L56.0,281.9 L57.3,280.0 L58.7,279.2 L60.0,277.3 L61.3,276.7 L62.7,274.9 L64.0,274.5 L65.5,273.5 L67.0,272.3 L68.5,271.9 L70.0,271.3 L71.5,271.5 L73.0,271.8 L74.5,272.2 L76.0,272.6 L77.3,274.0 L78.7,274.6 L80.0,276.3 L81.3,276.6 L82.7,278.3 L84.0,279.8 L85.3,280.6 L86.7,281.2 L88.0,282.5 L89.3,283.3 L90.7,284.8 L92.0,286.1 L93.3,287.4 L94.7,288.7 L96.0,289.0 L97.3,290.0 L98.7,291.0 L100.0,293.0 L101.3,292.9 L102.7,294.2 L104.0,294.8 L105.5,295.1 L107.0,295.5 L107,295.5 Z" fill="#0608e0"/>
<line x1="18.0" y1="295.5" x2="143.0" y2="295.5" stroke="#6070b0" stroke-width="0.9"/>
<path d="M24.5,313.75 L24.5,313.8 L25.8,309.4 L27.0,305.5 L28.5,296.2 L30.0,287.9 L31.2,285.7 L32.5,284.1 L33.7,282.8 L36.0,284.5 L37.3,286.2 L38.7,287.4 L40.0,288.9 L41.2,290.0 L42.5,290.0 L43.8,290.9 L45.0,292.0 L46.2,293.2 L47.5,293.8 L48.8,295.2 L50.0,295.9 L51.2,296.9 L52.5,297.6 L53.7,298.6 L56.0,302.0 L57.4,305.0 L58.7,307.8 L60.4,309.7 L62.0,310.5 L63.5,311.3 L65.0,312.5 L66.2,312.4 L67.5,312.9 L68.8,313.2 L70.0,313.4 L71.2,313.5 L72.4,313.5 L73.6,313.6 L74.8,313.7 L76.0,313.8 L76,313.75 Z" fill="#3ee83a"/>
<line x1="18.0" y1="313.8" x2="143.0" y2="313.8" stroke="#3ee83a" stroke-width="0.9"/>
<path d="M26.0,331.25 L26.0,331.2 L27.5,327.5 L29.0,322.8 L31.2,313.6 L32.5,301.9 L34.0,309.1 L36.2,315.2 L37.5,315.4 L38.7,316.3 L40.0,316.4 L41.3,316.5 L42.7,317.0 L44.0,317.1 L45.6,317.4 L47.1,317.6 L48.7,317.8 L50.0,318.7 L51.2,319.5 L52.5,319.8 L53.7,321.2 L55.4,323.5 L57.0,325.2 L58.5,326.5 L60.0,327.8 L61.3,328.2 L62.7,329.2 L64.0,329.2 L65.6,329.4 L67.1,330.5 L68.7,330.5 L69.9,330.6 L71.1,330.8 L72.3,330.9 L73.6,331.0 L74.8,331.1 L76.0,331.2 L76,331.25 Z" fill="#f0908a"/>
<line x1="18.0" y1="331.2" x2="143.0" y2="331.2" stroke="#f0a0a0" stroke-width="0.9"/>
<path d="M26.0,348.75 L26.0,348.8 L28.0,342.4 L30.0,335.3 L31.2,326.9 L32.5,319.2 L33.8,323.2 L35.0,325.7 L37.0,332.5 L38.7,336.5 L41.0,336.1 L42.4,334.5 L43.7,334.4 L46.0,333.2 L47.4,332.3 L48.7,331.5 L50.0,331.8 L51.2,331.0 L52.5,331.2 L53.7,332.3 L55.0,332.9 L56.2,333.4 L58.0,337.3 L60.0,340.0 L62.0,343.1 L63.7,345.5 L65.3,346.4 L67.0,347.1 L68.5,347.5 L70.0,348.0 L71.2,348.3 L72.4,348.1 L73.6,348.2 L74.8,348.4 L76.0,348.5 L77.3,348.6 L78.6,348.6 L79.9,348.6 L81.2,348.7 L82.5,348.8 L82.5,348.75 Z" fill="#ee1111"/>
<line x1="18.0" y1="348.8" x2="143.0" y2="348.8" stroke="#c03030" stroke-width="0.9"/>
<path d="M27.5,366.75 L27.5,366.8 L29.0,362.5 L30.0,357.7 L31.5,344.6 L32.5,340.0 L34.0,345.2 L35.5,357.3 L37.0,363.1 L39.0,366.8 L39,366.75 Z" fill="#999999"/>
<line x1="18.0" y1="366.8" x2="143.0" y2="366.8" stroke="#aaaaaa" stroke-width="0.9"/>
<path d="M27.0,384.3 L27.0,384.3 L28.5,378.2 L29.5,369.9 L31.0,357.8 L32.0,352.8 L33.3,358.0 L35.0,373.0 L36.5,379.9 L37.8,382.1 L39.0,384.3 L39,384.3 Z" fill="#000"/>
<line x1="18.0" y1="384.3" x2="143.0" y2="384.3" stroke="#000" stroke-width="0.9"/>
<rect x="18.0" y="261.3" width="125.0" height="123.5" fill="none" stroke="#777" stroke-width="0.9"/>
<line x1="20.0" y1="391.8" x2="53.0" y2="391.8" stroke="#000" stroke-width="1"/>
<polygon points="57.0,391.8 52.0,393.9 52.0,389.7" fill="#000"/>
<text x="58.0" y="395.6" font-size="10.5" textLength="30.0" lengthAdjust="spacingAndGlyphs">CD73</text>
<text x="183.3" y="243.7" font-size="9.2" textLength="63.7" lengthAdjust="spacingAndGlyphs">Co-cultured with</text>
<rect x="168.7" y="245.7" width="11.9" height="4.2" fill="#111"/>
<text x="185.0" y="250.0" font-size="7">-</text>
<rect x="168.7" y="256.1" width="11.9" height="4.2" fill="#aaa"/>
<text x="185.0" y="260.4" font-size="7" textLength="71.5" lengthAdjust="spacingAndGlyphs">Treg (labeled IgG-PE)</text>
<rect x="168.7" y="264.8" width="11.9" height="4.2" fill="#d81010"/>
<text x="185.0" y="269.1" font-size="7" textLength="79.5" lengthAdjust="spacingAndGlyphs">Treg (labeled CD73-PE)</text>
<rect x="168.7" y="273.4" width="11.9" height="4.2" fill="#f08480"/>
<text x="185.0" y="277.7" font-size="7" textLength="114.3" lengthAdjust="spacingAndGlyphs">Treg (labeled CD73-PE) +AMP-CP</text>
<rect x="168.7" y="281.8" width="11.9" height="4.2" fill="#22ee22"/>
<text x="185.0" y="286.1" font-size="7" textLength="114.3" lengthAdjust="spacingAndGlyphs">Treg (labeled CD73-PE) +GW4869</text>
<line x1="189.7" y1="301.7" x2="189.7" y2="383.0" stroke="#333" stroke-width="0.9"/>
<line x1="189.7" y1="392.6" x2="189.7" y2="414.1" stroke="#333" stroke-width="0.9"/>
<line x1="189.7" y1="414.1" x2="270.6" y2="414.1" stroke="#333" stroke-width="0.9"/>
<line x1="187.0" y1="379.5" x2="192.5" y2="386.0" stroke="#333" stroke-width="0.8"/>
<line x1="187.0" y1="388.8" x2="192.5" y2="395.3" stroke="#333" stroke-width="0.8"/>
<line x1="186.2" y1="301.7" x2="189.7" y2="301.7" stroke="#333" stroke-width="0.9"/>
<text x="185.2" y="304.9" font-size="9" text-anchor="end">1000</text>
<line x1="186.2" y1="343.6" x2="189.7" y2="343.6" stroke="#333" stroke-width="0.9"/>
<text x="185.2" y="346.8" font-size="9" text-anchor="end">525</text>
<text x="185.2" y="387.5" font-size="9" text-anchor="end">50</text>
<text x="185.2" y="397.1" font-size="9" text-anchor="end">10</text>
<line x1="186.2" y1="404.2" x2="189.7" y2="404.2" stroke="#333" stroke-width="0.9"/>
<text x="185.2" y="407.4" font-size="9" text-anchor="end">5</text>
<line x1="186.2" y1="413.6" x2="189.7" y2="413.6" stroke="#333" stroke-width="0.9"/>
<text x="185.2" y="416.8" font-size="9" text-anchor="end">0</text>
<rect x="194.8" y="410.8" width="9.3" height="3.3" fill="#111"/>
<line x1="199.4" y1="409.8" x2="199.4" y2="410.8" stroke="#111" stroke-width="0.8"/>
<rect x="208.3" y="405.9" width="8.7" height="8.2" fill="#a0a8a8"/>
<line x1="212.6" y1="403.6" x2="212.6" y2="405.9" stroke="#a0a0a0" stroke-width="0.8"/>
<line x1="211.0" y1="403.6" x2="214.2" y2="403.6" stroke="#a0a0a0" stroke-width="0.8"/>
<rect x="222.1" y="394.3" width="8.2" height="19.8" fill="#ee2a14"/>
<rect x="222.1" y="368.1" width="8.2" height="15.9" fill="#ee2a14"/>
<line x1="224.6" y1="366.0" x2="228.0" y2="366.0" stroke="#999" stroke-width="0.8"/>
<rect x="235.6" y="394.3" width="7.7" height="19.8" fill="#de8a82"/>
<rect x="235.6" y="382.1" width="7.7" height="1.9" fill="#de8a82"/>
<line x1="237.5" y1="381.0" x2="241.5" y2="381.0" stroke="#e0a0a0" stroke-width="0.8"/>
<rect x="248.9" y="394.3" width="7.7" height="19.8" fill="#88ee44"/>
<rect x="248.9" y="382.1" width="7.7" height="1.9" fill="#88ee44"/>
<line x1="250.5" y1="381.0" x2="255.0" y2="381.0" stroke="#a0e080" stroke-width="0.8"/>
<rect x="262.9" y="394.3" width="7.3" height="19.8" fill="#1438e6"/>
<rect x="262.9" y="311.7" width="7.3" height="72.3" fill="#1438e6"/>
<line x1="266.5" y1="307.5" x2="266.5" y2="311.7" stroke="#1438e6" stroke-width="0.9"/>
<line x1="264.0" y1="307.5" x2="269.0" y2="307.5" stroke="#1438e6" stroke-width="0.9"/>
<line x1="259.4" y1="300.5" x2="259.4" y2="414.0" stroke="#444" stroke-width="0.8" stroke-dasharray="5 2 1 2"/>
<text x="205.5" y="355.5" font-size="20.4" font-weight="bold" textLength="26.9" lengthAdjust="spacingAndGlyphs">****</text>
<line x1="211.1" y1="352.0" x2="226.3" y2="352.0" stroke="#333" stroke-width="0.9"/>
<text x="227.8" y="343.2" font-size="22.0" font-weight="bold" textLength="20.7" lengthAdjust="spacingAndGlyphs">***</text>
<line x1="226.8" y1="337.4" x2="251.5" y2="337.4" stroke="#333" stroke-width="0.9"/>
<text x="223.3" y="368.0" font-size="19.8" font-weight="bold" textLength="20.1" lengthAdjust="spacingAndGlyphs">***</text>
<line x1="227.5" y1="365.1" x2="240.3" y2="365.1" stroke="#333" stroke-width="0.9"/>
<line x1="199.5" y1="414.1" x2="199.5" y2="430.0" stroke="#000" stroke-width="0.9"/>
<line x1="253.1" y1="414.1" x2="253.1" y2="430.0" stroke="#000" stroke-width="0.9"/>
<line x1="216.0" y1="428.1" x2="203.2" y2="428.1" stroke="#000" stroke-width="0.9"/>
<polygon points="200.0,428.1 204.0,426.3 204.0,429.9" fill="#000"/>
<line x1="237.0" y1="428.1" x2="249.4" y2="428.1" stroke="#000" stroke-width="0.9"/>
<polygon points="252.6,428.1 248.6,429.9 248.6,426.3" fill="#000"/>
<text x="217.0" y="431.8" font-size="11" textLength="18.6" lengthAdjust="spacingAndGlyphs">Teff</text>
<text x="260.1" y="431.8" font-size="11" textLength="21.0" lengthAdjust="spacingAndGlyphs">Treg</text>
<text transform="translate(156.6,425.0) rotate(-90)" font-size="11.3" textLength="134.3" lengthAdjust="spacingAndGlyphs">Mean flourscence intensity</text>
<line x1="345.3" y1="263.0" x2="345.3" y2="391.2" stroke="#555" stroke-width="1.1"/>
<line x1="345.3" y1="391.2" x2="424.6" y2="391.2" stroke="#555" stroke-width="1.1"/>
<line x1="341.8" y1="263.0" x2="345.3" y2="263.0" stroke="#555" stroke-width="1"/>
<text x="341.0" y="267.0" font-size="11" text-anchor="end">6</text>
<line x1="341.8" y1="326.9" x2="345.3" y2="326.9" stroke="#555" stroke-width="1"/>
<text x="341.0" y="330.9" font-size="11" text-anchor="end">3</text>
<line x1="341.8" y1="391.2" x2="345.3" y2="391.2" stroke="#555" stroke-width="1"/>
<text x="341.0" y="395.2" font-size="11" text-anchor="end">0</text>
<line x1="358.3" y1="325.8" x2="358.3" y2="315.2" stroke="#222" stroke-width="0.9"/>
<line x1="355.7" y1="315.2" x2="360.9" y2="315.2" stroke="#222" stroke-width="0.9"/>
<rect x="352.5" y="325.8" width="11.6" height="65.4" fill="#000" stroke="#222" stroke-width="0.9"/>
<line x1="358.3" y1="391.2" x2="358.3" y2="393.7" stroke="#555" stroke-width="0.9"/>
<ellipse cx="355.8" cy="306.4" rx="3.15" ry="3.75" fill="#fff" stroke="#222" stroke-width="1.15"/>
<ellipse cx="362.0" cy="306.4" rx="3.15" ry="3.75" fill="#fff" stroke="#222" stroke-width="1.15"/>
<ellipse cx="358.2" cy="319.1" rx="3.15" ry="3.75" fill="#fff" stroke="#222" stroke-width="1.15"/>
<ellipse cx="358.7" cy="336.7" rx="3.15" ry="3.75" fill="#fff" stroke="#222" stroke-width="1.15"/>
<ellipse cx="358.7" cy="355.7" rx="3.15" ry="3.75" fill="#fff" stroke="#222" stroke-width="1.15"/>
<line x1="377.3" y1="384.5" x2="377.3" y2="366.9" stroke="#222" stroke-width="0.9"/>
<line x1="374.7" y1="366.9" x2="379.9" y2="366.9" stroke="#222" stroke-width="0.9"/>
<rect x="371.5" y="384.5" width="11.6" height="6.7" fill="#f2401c" stroke="#222" stroke-width="0.9"/>
<line x1="377.3" y1="391.2" x2="377.3" y2="393.7" stroke="#555" stroke-width="0.9"/>
<ellipse cx="377.4" cy="351.8" rx="3.15" ry="3.75" fill="#fff" stroke="#222" stroke-width="1.15"/>
<ellipse cx="380.0" cy="370.5" rx="3.15" ry="3.75" fill="#fff" stroke="#222" stroke-width="1.15"/>
<ellipse cx="374.6" cy="375.2" rx="3.15" ry="3.75" fill="#fff" stroke="#222" stroke-width="1.15"/>
<ellipse cx="380.0" cy="379.8" rx="3.15" ry="3.75" fill="#fff" stroke="#222" stroke-width="1.15"/>
<ellipse cx="374.9" cy="383.7" rx="3.15" ry="3.75" fill="#fff" stroke="#222" stroke-width="1.15"/>
<line x1="396.4" y1="340.4" x2="396.4" y2="336.0" stroke="#222" stroke-width="0.9"/>
<line x1="393.8" y1="336.0" x2="399.0" y2="336.0" stroke="#222" stroke-width="0.9"/>
<rect x="390.1" y="340.4" width="12.5" height="50.8" fill="#f5928c" stroke="#222" stroke-width="0.9"/>
<line x1="396.4" y1="391.2" x2="396.4" y2="393.7" stroke="#555" stroke-width="0.9"/>
<ellipse cx="394.0" cy="326.9" rx="3.15" ry="3.75" fill="#fff" stroke="#222" stroke-width="1.15"/>
<ellipse cx="399.2" cy="332.4" rx="3.15" ry="3.75" fill="#fff" stroke="#222" stroke-width="1.15"/>
<ellipse cx="394.5" cy="338.3" rx="3.15" ry="3.75" fill="#fff" stroke="#222" stroke-width="1.15"/>
<ellipse cx="399.5" cy="350.3" rx="3.15" ry="3.75" fill="#fff" stroke="#222" stroke-width="1.15"/>
<ellipse cx="394.0" cy="351.8" rx="3.15" ry="3.75" fill="#fff" stroke="#222" stroke-width="1.15"/>
<line x1="415.4" y1="337.0" x2="415.4" y2="326.1" stroke="#222" stroke-width="0.9"/>
<line x1="412.8" y1="326.1" x2="418.0" y2="326.1" stroke="#222" stroke-width="0.9"/>
<rect x="409.1" y="337.0" width="12.5" height="54.2" fill="#0f8282" stroke="#222" stroke-width="0.9"/>
<line x1="415.4" y1="391.2" x2="415.4" y2="393.7" stroke="#555" stroke-width="0.9"/>
<ellipse cx="415.4" cy="306.2" rx="3.15" ry="3.75" fill="#fff" stroke="#222" stroke-width="1.15"/>
<ellipse cx="415.4" cy="319.9" rx="3.15" ry="3.75" fill="#fff" stroke="#222" stroke-width="1.15"/>
<ellipse cx="415.4" cy="338.6" rx="3.15" ry="3.75" fill="#fff" stroke="#222" stroke-width="1.15"/>
<ellipse cx="418.2" cy="355.7" rx="3.15" ry="3.75" fill="#fff" stroke="#222" stroke-width="1.15"/>
<ellipse cx="413.2" cy="360.7" rx="3.15" ry="3.75" fill="#fff" stroke="#222" stroke-width="1.15"/>
<text x="358.7" y="300.1" font-size="17.3" font-weight="bold" textLength="13.7" lengthAdjust="spacingAndGlyphs">**</text>
<line x1="356.1" y1="298.0" x2="374.6" y2="298.0" stroke="#555" stroke-width="1"/>
<text x="392.3" y="300.3" font-size="17.9" font-weight="bold" textLength="6.6" lengthAdjust="spacingAndGlyphs">*</text>
<line x1="377.2" y1="298.0" x2="414.7" y2="298.0" stroke="#555" stroke-width="1"/>
<text x="384.4" y="320.8" font-size="16.9" font-weight="bold" textLength="5.8" lengthAdjust="spacingAndGlyphs">*</text>
<line x1="377.9" y1="319.5" x2="396.5" y2="319.5" stroke="#555" stroke-width="1"/>
<line x1="379.8" y1="401.3" x2="362.8" y2="401.3" stroke="#000" stroke-width="0.9"/>
<polygon points="359.2,401.3 363.7,398.9 363.7,403.7" fill="#000"/>
<line x1="396.5" y1="401.3" x2="412.4" y2="401.3" stroke="#000" stroke-width="0.9"/>
<polygon points="416.0,401.3 411.5,403.7 411.5,398.9" fill="#000"/>
<text x="380.8" y="404.5" font-size="10" textLength="14.7" lengthAdjust="spacingAndGlyphs">Teff</text>
<text x="324.9" y="413.1" font-size="10" textLength="19.3" lengthAdjust="spacingAndGlyphs">Treg</text>
<line x1="355.9" y1="409.8" x2="359.3" y2="409.8" stroke="#222" stroke-width="1"/>
<line x1="375.9" y1="409.8" x2="380.9" y2="409.8" stroke="#222" stroke-width="1"/>
<line x1="378.4" y1="407.3" x2="378.4" y2="412.3" stroke="#222" stroke-width="1"/>
<line x1="398.0" y1="409.8" x2="403.0" y2="409.8" stroke="#222" stroke-width="1"/>
<line x1="400.5" y1="407.3" x2="400.5" y2="412.3" stroke="#222" stroke-width="1"/>
<line x1="419.8" y1="409.8" x2="424.8" y2="409.8" stroke="#222" stroke-width="1"/>
<line x1="422.3" y1="407.3" x2="422.3" y2="412.3" stroke="#222" stroke-width="1"/>
<text x="307.1" y="422.1" font-size="10" textLength="38.7" lengthAdjust="spacingAndGlyphs">AMP-CP</text>
<line x1="355.9" y1="418.8" x2="359.3" y2="418.8" stroke="#222" stroke-width="1"/>
<line x1="376.1" y1="418.8" x2="379.5" y2="418.8" stroke="#222" stroke-width="1"/>
<line x1="395.0" y1="418.8" x2="400.0" y2="418.8" stroke="#222" stroke-width="1"/>
<line x1="397.5" y1="416.3" x2="397.5" y2="421.3" stroke="#222" stroke-width="1"/>
<line x1="414.3" y1="418.8" x2="417.7" y2="418.8" stroke="#222" stroke-width="1"/>
<text x="306.3" y="431.0" font-size="10" textLength="39.1" lengthAdjust="spacingAndGlyphs">GW4869</text>
<line x1="355.9" y1="427.7" x2="359.3" y2="427.7" stroke="#222" stroke-width="1"/>
<line x1="376.1" y1="427.7" x2="379.5" y2="427.7" stroke="#222" stroke-width="1"/>
<line x1="395.8" y1="427.7" x2="399.2" y2="427.7" stroke="#222" stroke-width="1"/>
<line x1="413.5" y1="427.7" x2="418.5" y2="427.7" stroke="#222" stroke-width="1"/>
<line x1="416.0" y1="425.2" x2="416.0" y2="430.2" stroke="#222" stroke-width="1"/>
<text transform="translate(327.6,361.0) rotate(-90)" font-size="12.6" textLength="70.5" lengthAdjust="spacingAndGlyphs">IFN-<tspan font-size="0.85em">γ</tspan> (pg / ml)</text>
<line x1="471.7" y1="262.2" x2="471.7" y2="391.2" stroke="#555" stroke-width="1.1"/>
<line x1="471.7" y1="391.2" x2="548.5" y2="391.2" stroke="#555" stroke-width="1.1"/>
<line x1="468.2" y1="262.2" x2="471.7" y2="262.2" stroke="#555" stroke-width="1"/>
<text x="467.4" y="266.2" font-size="11" text-anchor="end">80</text>
<line x1="468.2" y1="327.0" x2="471.7" y2="327.0" stroke="#555" stroke-width="1"/>
<text x="467.4" y="331.0" font-size="11" text-anchor="end">40</text>
<line x1="468.2" y1="391.2" x2="471.7" y2="391.2" stroke="#555" stroke-width="1"/>
<text x="467.4" y="395.2" font-size="11" text-anchor="end">0</text>
<line x1="484.8" y1="316.7" x2="484.8" y2="306.2" stroke="#222" stroke-width="0.9"/>
<line x1="482.2" y1="306.2" x2="487.4" y2="306.2" stroke="#222" stroke-width="0.9"/>
<rect x="478.3" y="316.7" width="13.0" height="74.5" fill="#000" stroke="#222" stroke-width="0.9"/>
<line x1="484.8" y1="391.2" x2="484.8" y2="393.7" stroke="#555" stroke-width="0.9"/>
<ellipse cx="484.6" cy="282.0" rx="3.15" ry="3.75" fill="#fff" stroke="#222" stroke-width="1.15"/>
<ellipse cx="481.4" cy="315.0" rx="3.15" ry="3.75" fill="#fff" stroke="#222" stroke-width="1.15"/>
<ellipse cx="487.1" cy="315.0" rx="3.15" ry="3.75" fill="#fff" stroke="#222" stroke-width="1.15"/>
<ellipse cx="484.6" cy="324.7" rx="3.15" ry="3.75" fill="#fff" stroke="#222" stroke-width="1.15"/>
<ellipse cx="484.6" cy="341.5" rx="3.15" ry="3.75" fill="#fff" stroke="#222" stroke-width="1.15"/>
<line x1="504.2" y1="365.0" x2="504.2" y2="358.7" stroke="#222" stroke-width="0.9"/>
<line x1="501.6" y1="358.7" x2="506.8" y2="358.7" stroke="#222" stroke-width="0.9"/>
<rect x="498.2" y="365.0" width="12.0" height="26.2" fill="#f2401c" stroke="#222" stroke-width="0.9"/>
<line x1="504.2" y1="391.2" x2="504.2" y2="393.7" stroke="#555" stroke-width="0.9"/>
<ellipse cx="500.3" cy="350.7" rx="3.15" ry="3.75" fill="#fff" stroke="#222" stroke-width="1.15"/>
<ellipse cx="506.6" cy="350.7" rx="3.15" ry="3.75" fill="#fff" stroke="#222" stroke-width="1.15"/>
<ellipse cx="503.5" cy="356.6" rx="3.15" ry="3.75" fill="#fff" stroke="#222" stroke-width="1.15"/>
<ellipse cx="505.2" cy="378.6" rx="3.15" ry="3.75" fill="#fff" stroke="#222" stroke-width="1.15"/>
<ellipse cx="502.4" cy="385.6" rx="3.15" ry="3.75" fill="#fff" stroke="#222" stroke-width="1.15"/>
<line x1="523.1" y1="325.1" x2="523.1" y2="321.0" stroke="#222" stroke-width="0.9"/>
<line x1="520.5" y1="321.0" x2="525.7" y2="321.0" stroke="#222" stroke-width="0.9"/>
<rect x="517.1" y="325.1" width="12.0" height="66.1" fill="#f5928c" stroke="#222" stroke-width="0.9"/>
<line x1="523.1" y1="391.2" x2="523.1" y2="393.7" stroke="#555" stroke-width="0.9"/>
<ellipse cx="522.4" cy="315.6" rx="3.15" ry="3.75" fill="#fff" stroke="#222" stroke-width="1.15"/>
<ellipse cx="519.4" cy="320.0" rx="3.15" ry="3.75" fill="#fff" stroke="#222" stroke-width="1.15"/>
<ellipse cx="526.0" cy="320.5" rx="3.15" ry="3.75" fill="#fff" stroke="#222" stroke-width="1.15"/>
<ellipse cx="522.5" cy="324.0" rx="3.15" ry="3.75" fill="#fff" stroke="#222" stroke-width="1.15"/>
<ellipse cx="522.4" cy="341.5" rx="3.15" ry="3.75" fill="#fff" stroke="#222" stroke-width="1.15"/>
<line x1="542.0" y1="310.0" x2="542.0" y2="297.8" stroke="#222" stroke-width="0.9"/>
<line x1="539.4" y1="297.8" x2="544.6" y2="297.8" stroke="#222" stroke-width="0.9"/>
<rect x="536.0" y="310.0" width="12.0" height="81.2" fill="#0f8282" stroke="#222" stroke-width="0.9"/>
<line x1="542.0" y1="391.2" x2="542.0" y2="393.7" stroke="#555" stroke-width="0.9"/>
<ellipse cx="539.6" cy="282.7" rx="3.15" ry="3.75" fill="#fff" stroke="#222" stroke-width="1.15"/>
<ellipse cx="545.5" cy="282.7" rx="3.15" ry="3.75" fill="#fff" stroke="#222" stroke-width="1.15"/>
<ellipse cx="542.3" cy="293.2" rx="3.15" ry="3.75" fill="#fff" stroke="#222" stroke-width="1.15"/>
<ellipse cx="544.4" cy="340.8" rx="3.15" ry="3.75" fill="#fff" stroke="#222" stroke-width="1.15"/>
<ellipse cx="539.6" cy="346.1" rx="3.15" ry="3.75" fill="#fff" stroke="#222" stroke-width="1.15"/>
<text x="490.3" y="276.3" font-size="16.6" font-weight="bold" textLength="5.7" lengthAdjust="spacingAndGlyphs">*</text>
<line x1="484.2" y1="274.3" x2="502.4" y2="274.3" stroke="#555" stroke-width="1"/>
<text x="518.1" y="276.3" font-size="16.6" font-weight="bold" textLength="13.6" lengthAdjust="spacingAndGlyphs">**</text>
<line x1="504.5" y1="274.3" x2="544.4" y2="274.3" stroke="#555" stroke-width="1"/>
<text x="510.6" y="305.7" font-size="16.6" font-weight="bold" textLength="5.9" lengthAdjust="spacingAndGlyphs">*</text>
<line x1="504.5" y1="304.5" x2="523.4" y2="304.5" stroke="#555" stroke-width="1"/>
<line x1="505.9" y1="402.1" x2="489.7" y2="402.1" stroke="#000" stroke-width="0.9"/>
<polygon points="486.1,402.1 490.6,399.7 490.6,404.5" fill="#000"/>
<line x1="523.4" y1="402.1" x2="538.8" y2="402.1" stroke="#000" stroke-width="0.9"/>
<polygon points="542.4,402.1 537.9,404.5 537.9,399.7" fill="#000"/>
<text x="506.9" y="404.8" font-size="10" textLength="15.5" lengthAdjust="spacingAndGlyphs">Teff</text>
<text x="451.4" y="413.6" font-size="10" textLength="18.9" lengthAdjust="spacingAndGlyphs">Treg</text>
<line x1="481.8" y1="410.3" x2="485.2" y2="410.3" stroke="#222" stroke-width="1"/>
<line x1="502.0" y1="410.3" x2="507.0" y2="410.3" stroke="#222" stroke-width="1"/>
<line x1="504.5" y1="407.8" x2="504.5" y2="412.8" stroke="#222" stroke-width="1"/>
<line x1="521.0" y1="410.3" x2="526.0" y2="410.3" stroke="#222" stroke-width="1"/>
<line x1="523.5" y1="407.8" x2="523.5" y2="412.8" stroke="#222" stroke-width="1"/>
<line x1="538.8" y1="410.3" x2="543.8" y2="410.3" stroke="#222" stroke-width="1"/>
<line x1="541.3" y1="407.8" x2="541.3" y2="412.8" stroke="#222" stroke-width="1"/>
<text x="433.5" y="423.1" font-size="10" textLength="38.4" lengthAdjust="spacingAndGlyphs">AMP-CP</text>
<line x1="481.8" y1="419.8" x2="485.2" y2="419.8" stroke="#222" stroke-width="1"/>
<line x1="502.8" y1="419.8" x2="506.2" y2="419.8" stroke="#222" stroke-width="1"/>
<line x1="521.0" y1="419.8" x2="526.0" y2="419.8" stroke="#222" stroke-width="1"/>
<line x1="523.5" y1="417.3" x2="523.5" y2="422.3" stroke="#222" stroke-width="1"/>
<line x1="539.6" y1="419.8" x2="543.0" y2="419.8" stroke="#222" stroke-width="1"/>
<text x="432.7" y="432.1" font-size="10" textLength="38.7" lengthAdjust="spacingAndGlyphs">GW4869</text>
<line x1="481.8" y1="428.8" x2="485.2" y2="428.8" stroke="#222" stroke-width="1"/>
<line x1="502.8" y1="428.8" x2="506.2" y2="428.8" stroke="#222" stroke-width="1"/>
<line x1="521.8" y1="428.8" x2="525.2" y2="428.8" stroke="#222" stroke-width="1"/>
<line x1="538.8" y1="428.8" x2="543.8" y2="428.8" stroke="#222" stroke-width="1"/>
<line x1="541.3" y1="426.3" x2="541.3" y2="431.3" stroke="#222" stroke-width="1"/>
<text transform="translate(446.9,363.3) rotate(-90)" font-size="12.6" textLength="75.6" lengthAdjust="spacingAndGlyphs">TNF<tspan font-family="DejaVu Sans" font-size="0.85em">α</tspan> (pg / ml)</text>
<line x1="602.9" y1="262.3" x2="602.9" y2="390.4" stroke="#555" stroke-width="1.1"/>
<line x1="602.9" y1="390.4" x2="680.5" y2="390.4" stroke="#555" stroke-width="1.1"/>
<line x1="599.4" y1="262.3" x2="602.9" y2="262.3" stroke="#555" stroke-width="1"/>
<text x="598.6" y="266.3" font-size="11" text-anchor="end">10</text>
<line x1="599.4" y1="326.8" x2="602.9" y2="326.8" stroke="#555" stroke-width="1"/>
<text x="598.6" y="330.8" font-size="11" text-anchor="end">5</text>
<line x1="599.4" y1="390.4" x2="602.9" y2="390.4" stroke="#555" stroke-width="1"/>
<text x="598.6" y="394.4" font-size="11" text-anchor="end">0</text>
<line x1="615.8" y1="319.8" x2="615.8" y2="310.0" stroke="#222" stroke-width="0.9"/>
<line x1="613.1" y1="310.0" x2="618.4" y2="310.0" stroke="#222" stroke-width="0.9"/>
<rect x="609.9" y="319.8" width="11.7" height="70.6" fill="#000" stroke="#222" stroke-width="0.9"/>
<line x1="615.8" y1="390.4" x2="615.8" y2="392.9" stroke="#555" stroke-width="0.9"/>
<ellipse cx="618.5" cy="303.0" rx="3.15" ry="3.75" fill="#fff" stroke="#222" stroke-width="1.15"/>
<ellipse cx="613.0" cy="308.7" rx="3.15" ry="3.75" fill="#fff" stroke="#222" stroke-width="1.15"/>
<ellipse cx="615.7" cy="328.8" rx="3.15" ry="3.75" fill="#fff" stroke="#222" stroke-width="1.15"/>
<ellipse cx="615.7" cy="336.6" rx="3.15" ry="3.75" fill="#fff" stroke="#222" stroke-width="1.15"/>
<rect x="628.8" y="306.2" width="11.7" height="84.2" fill="#f2401c" stroke="#222" stroke-width="0.9"/>
<line x1="634.6" y1="390.4" x2="634.6" y2="392.9" stroke="#555" stroke-width="0.9"/>
<ellipse cx="633.2" cy="303.0" rx="3.15" ry="3.75" fill="#fff" stroke="#222" stroke-width="1.15"/>
<ellipse cx="637.8" cy="303.0" rx="3.15" ry="3.75" fill="#fff" stroke="#222" stroke-width="1.15"/>
<ellipse cx="632.5" cy="308.7" rx="3.15" ry="3.75" fill="#fff" stroke="#222" stroke-width="1.15"/>
<ellipse cx="636.1" cy="309.3" rx="3.15" ry="3.75" fill="#fff" stroke="#222" stroke-width="1.15"/>
<rect x="647.8" y="312.9" width="12.0" height="77.5" fill="#f5928c" stroke="#222" stroke-width="0.9"/>
<line x1="653.8" y1="390.4" x2="653.8" y2="392.9" stroke="#555" stroke-width="0.9"/>
<ellipse cx="655.6" cy="303.0" rx="3.15" ry="3.75" fill="#fff" stroke="#222" stroke-width="1.15"/>
<ellipse cx="650.4" cy="308.3" rx="3.15" ry="3.75" fill="#fff" stroke="#222" stroke-width="1.15"/>
<ellipse cx="656.2" cy="315.0" rx="3.15" ry="3.75" fill="#fff" stroke="#222" stroke-width="1.15"/>
<ellipse cx="651.0" cy="321.3" rx="3.15" ry="3.75" fill="#fff" stroke="#222" stroke-width="1.15"/>
<rect x="666.7" y="296.1" width="12.0" height="94.3" fill="#0f8282" stroke="#222" stroke-width="0.9"/>
<line x1="672.7" y1="390.4" x2="672.7" y2="392.9" stroke="#555" stroke-width="0.9"/>
<ellipse cx="675.1" cy="286.2" rx="3.15" ry="3.75" fill="#fff" stroke="#222" stroke-width="1.15"/>
<ellipse cx="670.3" cy="291.9" rx="3.15" ry="3.75" fill="#fff" stroke="#222" stroke-width="1.15"/>
<ellipse cx="675.6" cy="297.4" rx="3.15" ry="3.75" fill="#fff" stroke="#222" stroke-width="1.15"/>
<ellipse cx="672.4" cy="308.7" rx="3.15" ry="3.75" fill="#fff" stroke="#222" stroke-width="1.15"/>
<text x="650.2" y="281.2" font-size="17.6" font-weight="bold" textLength="5.8" lengthAdjust="spacingAndGlyphs">*</text>
<line x1="634.0" y1="279.9" x2="672.4" y2="279.9" stroke="#555" stroke-width="1"/>
<line x1="636.7" y1="401.6" x2="620.3" y2="401.6" stroke="#000" stroke-width="0.9"/>
<polygon points="616.7,401.6 621.2,399.2 621.2,404.0" fill="#000"/>
<line x1="654.0" y1="401.6" x2="669.9" y2="401.6" stroke="#000" stroke-width="0.9"/>
<polygon points="673.5,401.6 669.0,404.0 669.0,399.2" fill="#000"/>
<text x="637.7" y="404.5" font-size="10" textLength="15.3" lengthAdjust="spacingAndGlyphs">Teff</text>
<text x="582.0" y="413.6" font-size="10" textLength="19.0" lengthAdjust="spacingAndGlyphs">Treg</text>
<line x1="613.0" y1="410.3" x2="616.4" y2="410.3" stroke="#222" stroke-width="1"/>
<line x1="633.2" y1="410.3" x2="638.2" y2="410.3" stroke="#222" stroke-width="1"/>
<line x1="635.7" y1="407.8" x2="635.7" y2="412.8" stroke="#222" stroke-width="1"/>
<line x1="652.1" y1="410.3" x2="657.1" y2="410.3" stroke="#222" stroke-width="1"/>
<line x1="654.6" y1="407.8" x2="654.6" y2="412.8" stroke="#222" stroke-width="1"/>
<line x1="670.6" y1="410.3" x2="675.6" y2="410.3" stroke="#222" stroke-width="1"/>
<line x1="673.1" y1="407.8" x2="673.1" y2="412.8" stroke="#222" stroke-width="1"/>
<text x="564.7" y="423.0" font-size="10" textLength="38.6" lengthAdjust="spacingAndGlyphs">AMP-CP</text>
<line x1="613.0" y1="419.7" x2="616.4" y2="419.7" stroke="#222" stroke-width="1"/>
<line x1="634.0" y1="419.7" x2="637.4" y2="419.7" stroke="#222" stroke-width="1"/>
<line x1="652.1" y1="419.7" x2="657.1" y2="419.7" stroke="#222" stroke-width="1"/>
<line x1="654.6" y1="417.2" x2="654.6" y2="422.2" stroke="#222" stroke-width="1"/>
<line x1="671.4" y1="419.7" x2="674.8" y2="419.7" stroke="#222" stroke-width="1"/>
<text x="563.9" y="432.1" font-size="10" textLength="39.1" lengthAdjust="spacingAndGlyphs">GW4869</text>
<line x1="613.0" y1="428.8" x2="616.4" y2="428.8" stroke="#222" stroke-width="1"/>
<line x1="634.0" y1="428.8" x2="637.4" y2="428.8" stroke="#222" stroke-width="1"/>
<line x1="652.9" y1="428.8" x2="656.3" y2="428.8" stroke="#222" stroke-width="1"/>
<line x1="670.6" y1="428.8" x2="675.6" y2="428.8" stroke="#222" stroke-width="1"/>
<line x1="673.1" y1="426.3" x2="673.1" y2="431.3" stroke="#222" stroke-width="1"/>
<text transform="translate(578.2,359.8) rotate(-90)" font-size="12.6" textLength="72.1" lengthAdjust="spacingAndGlyphs">IL-1β (pg / ml)</text>
<line x1="735.8" y1="262.9" x2="735.8" y2="391.5" stroke="#555" stroke-width="1.1"/>
<line x1="735.8" y1="391.5" x2="812.5" y2="391.5" stroke="#555" stroke-width="1.1"/>
<line x1="732.3" y1="262.9" x2="735.8" y2="262.9" stroke="#555" stroke-width="1"/>
<text x="731.5" y="266.9" font-size="11" text-anchor="end">20</text>
<line x1="732.3" y1="327.6" x2="735.8" y2="327.6" stroke="#555" stroke-width="1"/>
<text x="731.5" y="331.6" font-size="11" text-anchor="end">10</text>
<line x1="732.3" y1="391.5" x2="735.8" y2="391.5" stroke="#555" stroke-width="1"/>
<text x="731.5" y="395.5" font-size="11" text-anchor="end">0</text>
<line x1="748.6" y1="316.7" x2="748.6" y2="312.1" stroke="#222" stroke-width="0.9"/>
<line x1="746.0" y1="312.1" x2="751.2" y2="312.1" stroke="#222" stroke-width="0.9"/>
<rect x="742.6" y="316.7" width="12.0" height="74.8" fill="#000" stroke="#222" stroke-width="0.9"/>
<line x1="748.6" y1="391.5" x2="748.6" y2="394.0" stroke="#555" stroke-width="0.9"/>
<ellipse cx="748.5" cy="293.8" rx="3.15" ry="3.75" fill="#fff" stroke="#222" stroke-width="1.15"/>
<ellipse cx="750.7" cy="316.0" rx="3.15" ry="3.75" fill="#fff" stroke="#222" stroke-width="1.15"/>
<ellipse cx="745.5" cy="320.4" rx="3.15" ry="3.75" fill="#fff" stroke="#222" stroke-width="1.15"/>
<ellipse cx="750.7" cy="332.4" rx="3.15" ry="3.75" fill="#fff" stroke="#222" stroke-width="1.15"/>
<ellipse cx="745.5" cy="333.5" rx="3.15" ry="3.75" fill="#fff" stroke="#222" stroke-width="1.15"/>
<line x1="767.7" y1="359.2" x2="767.7" y2="350.9" stroke="#222" stroke-width="0.9"/>
<line x1="765.1" y1="350.9" x2="770.3" y2="350.9" stroke="#222" stroke-width="0.9"/>
<rect x="761.6" y="359.2" width="12.2" height="32.3" fill="#f2401c" stroke="#222" stroke-width="0.9"/>
<line x1="767.7" y1="391.5" x2="767.7" y2="394.0" stroke="#555" stroke-width="0.9"/>
<ellipse cx="767.3" cy="333.9" rx="3.15" ry="3.75" fill="#fff" stroke="#222" stroke-width="1.15"/>
<ellipse cx="767.3" cy="344.8" rx="3.15" ry="3.75" fill="#fff" stroke="#222" stroke-width="1.15"/>
<ellipse cx="764.4" cy="356.4" rx="3.15" ry="3.75" fill="#fff" stroke="#222" stroke-width="1.15"/>
<ellipse cx="769.9" cy="356.4" rx="3.15" ry="3.75" fill="#fff" stroke="#222" stroke-width="1.15"/>
<ellipse cx="767.3" cy="378.1" rx="3.15" ry="3.75" fill="#fff" stroke="#222" stroke-width="1.15"/>
<line x1="786.2" y1="324.7" x2="786.2" y2="315.6" stroke="#222" stroke-width="0.9"/>
<line x1="783.6" y1="315.6" x2="788.8" y2="315.6" stroke="#222" stroke-width="0.9"/>
<rect x="780.3" y="324.7" width="11.8" height="66.8" fill="#f5928c" stroke="#222" stroke-width="0.9"/>
<line x1="786.2" y1="391.5" x2="786.2" y2="394.0" stroke="#555" stroke-width="0.9"/>
<ellipse cx="786.2" cy="293.1" rx="3.15" ry="3.75" fill="#fff" stroke="#222" stroke-width="1.15"/>
<ellipse cx="786.2" cy="320.4" rx="3.15" ry="3.75" fill="#fff" stroke="#222" stroke-width="1.15"/>
<ellipse cx="783.4" cy="328.0" rx="3.15" ry="3.75" fill="#fff" stroke="#222" stroke-width="1.15"/>
<ellipse cx="789.1" cy="333.9" rx="3.15" ry="3.75" fill="#fff" stroke="#222" stroke-width="1.15"/>
<ellipse cx="786.2" cy="345.5" rx="3.15" ry="3.75" fill="#fff" stroke="#222" stroke-width="1.15"/>
<rect x="799.7" y="312.1" width="12.0" height="79.4" fill="#0f8282" stroke="#222" stroke-width="0.9"/>
<line x1="805.7" y1="391.5" x2="805.7" y2="394.0" stroke="#555" stroke-width="0.9"/>
<ellipse cx="802.6" cy="300.8" rx="3.15" ry="3.75" fill="#fff" stroke="#222" stroke-width="1.15"/>
<ellipse cx="808.0" cy="301.9" rx="3.15" ry="3.75" fill="#fff" stroke="#222" stroke-width="1.15"/>
<ellipse cx="803.0" cy="308.4" rx="3.15" ry="3.75" fill="#fff" stroke="#222" stroke-width="1.15"/>
<ellipse cx="805.8" cy="316.5" rx="3.15" ry="3.75" fill="#fff" stroke="#222" stroke-width="1.15"/>
<ellipse cx="805.2" cy="331.7" rx="3.15" ry="3.75" fill="#fff" stroke="#222" stroke-width="1.15"/>
<text x="751.1" y="273.1" font-size="17.3" font-weight="bold" textLength="5.9" lengthAdjust="spacingAndGlyphs">*</text>
<line x1="746.3" y1="270.3" x2="764.4" y2="270.3" stroke="#555" stroke-width="1"/>
<text x="778.1" y="273.1" font-size="17.3" font-weight="bold" textLength="14.6" lengthAdjust="spacingAndGlyphs">**</text>
<line x1="767.3" y1="270.3" x2="804.3" y2="270.3" stroke="#555" stroke-width="1"/>
<text x="773.6" y="287.0" font-size="17.9" font-weight="bold" textLength="6.4" lengthAdjust="spacingAndGlyphs">*</text>
<line x1="768.1" y1="284.4" x2="786.9" y2="284.4" stroke="#555" stroke-width="1"/>
<line x1="769.5" y1="402.1" x2="752.8" y2="402.1" stroke="#000" stroke-width="0.9"/>
<polygon points="749.2,402.1 753.7,399.7 753.7,404.5" fill="#000"/>
<line x1="786.5" y1="402.1" x2="802.4" y2="402.1" stroke="#000" stroke-width="0.9"/>
<polygon points="806.0,402.1 801.5,404.5 801.5,399.7" fill="#000"/>
<text x="770.5" y="405.3" font-size="10" textLength="15.0" lengthAdjust="spacingAndGlyphs">Teff</text>
<text x="715.2" y="414.7" font-size="10" textLength="19.0" lengthAdjust="spacingAndGlyphs">Treg</text>
<line x1="745.4" y1="411.4" x2="748.8" y2="411.4" stroke="#222" stroke-width="1"/>
<line x1="765.1" y1="411.4" x2="770.1" y2="411.4" stroke="#222" stroke-width="1"/>
<line x1="767.6" y1="408.9" x2="767.6" y2="413.9" stroke="#222" stroke-width="1"/>
<line x1="784.1" y1="411.4" x2="789.1" y2="411.4" stroke="#222" stroke-width="1"/>
<line x1="786.6" y1="408.9" x2="786.6" y2="413.9" stroke="#222" stroke-width="1"/>
<line x1="803.5" y1="411.4" x2="808.5" y2="411.4" stroke="#222" stroke-width="1"/>
<line x1="806.0" y1="408.9" x2="806.0" y2="413.9" stroke="#222" stroke-width="1"/>
<text x="696.6" y="424.2" font-size="10" textLength="38.4" lengthAdjust="spacingAndGlyphs">AMP-CP</text>
<line x1="745.4" y1="420.9" x2="748.8" y2="420.9" stroke="#222" stroke-width="1"/>
<line x1="765.9" y1="420.9" x2="769.3" y2="420.9" stroke="#222" stroke-width="1"/>
<line x1="784.1" y1="420.9" x2="789.1" y2="420.9" stroke="#222" stroke-width="1"/>
<line x1="786.6" y1="418.4" x2="786.6" y2="423.4" stroke="#222" stroke-width="1"/>
<line x1="804.3" y1="420.9" x2="807.7" y2="420.9" stroke="#222" stroke-width="1"/>
<text x="696.6" y="432.9" font-size="10" textLength="38.4" lengthAdjust="spacingAndGlyphs">GW4869</text>
<line x1="745.4" y1="429.6" x2="748.8" y2="429.6" stroke="#222" stroke-width="1"/>
<line x1="765.9" y1="429.6" x2="769.3" y2="429.6" stroke="#222" stroke-width="1"/>
<line x1="784.9" y1="429.6" x2="788.3" y2="429.6" stroke="#222" stroke-width="1"/>
<line x1="803.5" y1="429.6" x2="808.5" y2="429.6" stroke="#222" stroke-width="1"/>
<line x1="806.0" y1="427.1" x2="806.0" y2="432.1" stroke="#222" stroke-width="1"/>
<text transform="translate(712.6,361.5) rotate(-90)" font-size="12.6" textLength="71.5" lengthAdjust="spacingAndGlyphs">IL-17 (pg / ml)</text>
<line x1="60.3" y1="461.7" x2="60.3" y2="589.8" stroke="#555" stroke-width="1.1"/>
<line x1="60.3" y1="589.8" x2="139.5" y2="589.8" stroke="#555" stroke-width="1.1"/>
<line x1="56.8" y1="461.7" x2="60.3" y2="461.7" stroke="#555" stroke-width="1"/>
<text x="56.0" y="465.3" font-size="10" text-anchor="end">1.4</text>
<line x1="56.8" y1="526.4" x2="60.3" y2="526.4" stroke="#555" stroke-width="1"/>
<text x="56.0" y="530.0" font-size="10" text-anchor="end">0.7</text>
<line x1="56.8" y1="589.8" x2="60.3" y2="589.8" stroke="#555" stroke-width="1"/>
<text x="56.0" y="593.4" font-size="10" text-anchor="end">0.0</text>
<line x1="72.4" y1="498.9" x2="72.4" y2="488.5" stroke="#222" stroke-width="0.9"/>
<line x1="69.8" y1="488.5" x2="75.0" y2="488.5" stroke="#222" stroke-width="0.9"/>
<rect x="66.6" y="498.9" width="11.6" height="90.9" fill="#000" stroke="#222" stroke-width="0.9"/>
<line x1="72.4" y1="589.8" x2="72.4" y2="592.3" stroke="#555" stroke-width="0.9"/>
<line x1="91.1" y1="558.8" x2="91.1" y2="553.0" stroke="#222" stroke-width="0.9"/>
<line x1="88.5" y1="553.0" x2="93.7" y2="553.0" stroke="#222" stroke-width="0.9"/>
<rect x="85.2" y="558.8" width="11.7" height="31.0" fill="#f2401c" stroke="#222" stroke-width="0.9"/>
<line x1="91.1" y1="589.8" x2="91.1" y2="592.3" stroke="#555" stroke-width="0.9"/>
<line x1="109.9" y1="532.0" x2="109.9" y2="526.2" stroke="#222" stroke-width="0.9"/>
<line x1="107.3" y1="526.2" x2="112.5" y2="526.2" stroke="#222" stroke-width="0.9"/>
<rect x="104.1" y="532.0" width="11.7" height="57.8" fill="#f5928c" stroke="#222" stroke-width="0.9"/>
<line x1="109.9" y1="589.8" x2="109.9" y2="592.3" stroke="#555" stroke-width="0.9"/>
<line x1="129.1" y1="529.2" x2="129.1" y2="522.2" stroke="#222" stroke-width="0.9"/>
<line x1="126.5" y1="522.2" x2="131.7" y2="522.2" stroke="#222" stroke-width="0.9"/>
<rect x="123.2" y="529.2" width="11.7" height="60.6" fill="#0f8282" stroke="#222" stroke-width="0.9"/>
<line x1="129.1" y1="589.8" x2="129.1" y2="592.3" stroke="#555" stroke-width="0.9"/>
<text x="69.3" y="479.7" font-size="14.8" font-weight="bold" textLength="20.8" lengthAdjust="spacingAndGlyphs">***</text>
<line x1="70.1" y1="478.4" x2="88.7" y2="478.4" stroke="#555" stroke-width="1"/>
<text x="106.7" y="500.1" font-size="17.3" font-weight="bold" textLength="6.0" lengthAdjust="spacingAndGlyphs">*</text>
<line x1="91.1" y1="497.3" x2="127.9" y2="497.3" stroke="#555" stroke-width="1"/>
<text x="95.1" y="516.3" font-size="17.9" font-weight="bold" textLength="6.0" lengthAdjust="spacingAndGlyphs">*</text>
<line x1="91.1" y1="514.1" x2="108.1" y2="514.1" stroke="#555" stroke-width="1"/>
<line x1="93.3" y1="601.0" x2="76.7" y2="601.0" stroke="#000" stroke-width="0.9"/>
<polygon points="73.1,601.0 77.6,598.6 77.6,603.4" fill="#000"/>
<line x1="110.6" y1="601.0" x2="125.9" y2="601.0" stroke="#000" stroke-width="0.9"/>
<polygon points="129.5,601.0 125.0,603.4 125.0,598.6" fill="#000"/>
<text x="94.3" y="603.9" font-size="10" textLength="15.3" lengthAdjust="spacingAndGlyphs">Teff</text>
<text x="38.7" y="612.9" font-size="10" textLength="19.9" lengthAdjust="spacingAndGlyphs">Treg</text>
<line x1="69.7" y1="609.6" x2="73.1" y2="609.6" stroke="#222" stroke-width="1"/>
<line x1="89.2" y1="609.6" x2="94.2" y2="609.6" stroke="#222" stroke-width="1"/>
<line x1="91.7" y1="607.1" x2="91.7" y2="612.1" stroke="#222" stroke-width="1"/>
<line x1="108.8" y1="609.6" x2="113.8" y2="609.6" stroke="#222" stroke-width="1"/>
<line x1="111.3" y1="607.1" x2="111.3" y2="612.1" stroke="#222" stroke-width="1"/>
<line x1="127.5" y1="609.6" x2="132.5" y2="609.6" stroke="#222" stroke-width="1"/>
<line x1="130.0" y1="607.1" x2="130.0" y2="612.1" stroke="#222" stroke-width="1"/>
<text x="21.2" y="622.6" font-size="10" textLength="38.6" lengthAdjust="spacingAndGlyphs">AMP-CP</text>
<line x1="69.7" y1="619.3" x2="73.1" y2="619.3" stroke="#222" stroke-width="1"/>
<line x1="90.0" y1="619.3" x2="93.4" y2="619.3" stroke="#222" stroke-width="1"/>
<line x1="108.8" y1="619.3" x2="113.8" y2="619.3" stroke="#222" stroke-width="1"/>
<line x1="111.3" y1="616.8" x2="111.3" y2="621.8" stroke="#222" stroke-width="1"/>
<line x1="128.3" y1="619.3" x2="131.7" y2="619.3" stroke="#222" stroke-width="1"/>
<text x="20.4" y="630.8" font-size="10" textLength="39.4" lengthAdjust="spacingAndGlyphs">GW4869</text>
<line x1="69.7" y1="627.5" x2="73.1" y2="627.5" stroke="#222" stroke-width="1"/>
<line x1="90.0" y1="627.5" x2="93.4" y2="627.5" stroke="#222" stroke-width="1"/>
<line x1="109.6" y1="627.5" x2="113.0" y2="627.5" stroke="#222" stroke-width="1"/>
<line x1="127.5" y1="627.5" x2="132.5" y2="627.5" stroke="#222" stroke-width="1"/>
<line x1="130.0" y1="625.0" x2="130.0" y2="630.0" stroke="#222" stroke-width="1"/>
<text transform="translate(38.3,605.5) rotate(-90)" font-size="12" textLength="158.9" lengthAdjust="spacingAndGlyphs">Relative mRNA level (/β-actin)</text>
<text transform="translate(26.2,533.6) rotate(-90)" font-size="12" font-style="italic" textLength="18.6" lengthAdjust="spacingAndGlyphs">Ifnγ</text>
<line x1="183.5" y1="461.5" x2="183.5" y2="589.0" stroke="#555" stroke-width="1.1"/>
<line x1="183.5" y1="589.0" x2="262.0" y2="589.0" stroke="#555" stroke-width="1.1"/>
<line x1="180.0" y1="461.5" x2="183.5" y2="461.5" stroke="#555" stroke-width="1"/>
<text x="179.2" y="465.1" font-size="10" text-anchor="end">1.4</text>
<line x1="180.0" y1="525.8" x2="183.5" y2="525.8" stroke="#555" stroke-width="1"/>
<text x="179.2" y="529.4" font-size="10" text-anchor="end">0.7</text>
<line x1="180.0" y1="589.0" x2="183.5" y2="589.0" stroke="#555" stroke-width="1"/>
<text x="179.2" y="592.6" font-size="10" text-anchor="end">0.0</text>
<line x1="195.8" y1="494.7" x2="195.8" y2="491.6" stroke="#222" stroke-width="0.9"/>
<line x1="193.2" y1="491.6" x2="198.4" y2="491.6" stroke="#222" stroke-width="0.9"/>
<rect x="189.6" y="494.7" width="12.4" height="94.3" fill="#000" stroke="#222" stroke-width="0.9"/>
<line x1="195.8" y1="589.0" x2="195.8" y2="591.5" stroke="#555" stroke-width="0.9"/>
<line x1="214.6" y1="534.5" x2="214.6" y2="530.8" stroke="#222" stroke-width="0.9"/>
<line x1="212.0" y1="530.8" x2="217.2" y2="530.8" stroke="#222" stroke-width="0.9"/>
<rect x="208.6" y="534.5" width="11.9" height="54.5" fill="#f2401c" stroke="#222" stroke-width="0.9"/>
<line x1="214.6" y1="589.0" x2="214.6" y2="591.5" stroke="#555" stroke-width="0.9"/>
<line x1="233.5" y1="518.2" x2="233.5" y2="514.9" stroke="#222" stroke-width="0.9"/>
<line x1="230.9" y1="514.9" x2="236.1" y2="514.9" stroke="#222" stroke-width="0.9"/>
<rect x="227.3" y="518.2" width="12.4" height="70.8" fill="#f5928c" stroke="#222" stroke-width="0.9"/>
<line x1="233.5" y1="589.0" x2="233.5" y2="591.5" stroke="#555" stroke-width="0.9"/>
<line x1="252.2" y1="511.6" x2="252.2" y2="505.5" stroke="#222" stroke-width="0.9"/>
<line x1="249.7" y1="505.5" x2="254.8" y2="505.5" stroke="#222" stroke-width="0.9"/>
<rect x="246.3" y="511.6" width="11.9" height="77.4" fill="#0f8282" stroke="#222" stroke-width="0.9"/>
<line x1="252.2" y1="589.0" x2="252.2" y2="591.5" stroke="#555" stroke-width="0.9"/>
<text x="192.7" y="479.0" font-size="15.7" font-weight="bold" textLength="21.2" lengthAdjust="spacingAndGlyphs">***</text>
<line x1="193.5" y1="476.8" x2="212.5" y2="476.8" stroke="#555" stroke-width="1"/>
<text x="226.6" y="489.6" font-size="16.6" font-weight="bold" textLength="13.2" lengthAdjust="spacingAndGlyphs">**</text>
<line x1="214.7" y1="486.6" x2="251.7" y2="486.6" stroke="#555" stroke-width="1"/>
<text x="218.8" y="504.7" font-size="16.3" font-weight="bold" textLength="5.9" lengthAdjust="spacingAndGlyphs">*</text>
<line x1="214.7" y1="502.9" x2="232.1" y2="502.9" stroke="#555" stroke-width="1"/>
<line x1="215.0" y1="599.8" x2="199.2" y2="599.8" stroke="#000" stroke-width="0.9"/>
<polygon points="195.6,599.8 200.1,597.4 200.1,602.2" fill="#000"/>
<line x1="232.0" y1="599.8" x2="249.0" y2="599.8" stroke="#000" stroke-width="0.9"/>
<polygon points="252.6,599.8 248.1,602.2 248.1,597.4" fill="#000"/>
<text x="216.0" y="602.7" font-size="10" textLength="15.0" lengthAdjust="spacingAndGlyphs">Teff</text>
<text x="162.5" y="611.8" font-size="10" textLength="19.9" lengthAdjust="spacingAndGlyphs">Treg</text>
<line x1="193.9" y1="608.5" x2="197.3" y2="608.5" stroke="#222" stroke-width="1"/>
<line x1="213.0" y1="608.5" x2="218.0" y2="608.5" stroke="#222" stroke-width="1"/>
<line x1="215.5" y1="606.0" x2="215.5" y2="611.0" stroke="#222" stroke-width="1"/>
<line x1="231.9" y1="608.5" x2="236.9" y2="608.5" stroke="#222" stroke-width="1"/>
<line x1="234.4" y1="606.0" x2="234.4" y2="611.0" stroke="#222" stroke-width="1"/>
<line x1="251.7" y1="608.5" x2="256.7" y2="608.5" stroke="#222" stroke-width="1"/>
<line x1="254.2" y1="606.0" x2="254.2" y2="611.0" stroke="#222" stroke-width="1"/>
<text x="144.5" y="621.3" font-size="10" textLength="38.5" lengthAdjust="spacingAndGlyphs">AMP-CP</text>
<line x1="193.9" y1="618.0" x2="197.3" y2="618.0" stroke="#222" stroke-width="1"/>
<line x1="213.8" y1="618.0" x2="217.2" y2="618.0" stroke="#222" stroke-width="1"/>
<line x1="231.9" y1="618.0" x2="236.9" y2="618.0" stroke="#222" stroke-width="1"/>
<line x1="234.4" y1="615.5" x2="234.4" y2="620.5" stroke="#222" stroke-width="1"/>
<line x1="252.5" y1="618.0" x2="255.9" y2="618.0" stroke="#222" stroke-width="1"/>
<text x="143.3" y="630.7" font-size="10" textLength="39.7" lengthAdjust="spacingAndGlyphs">GW4869</text>
<line x1="193.9" y1="627.4" x2="197.3" y2="627.4" stroke="#222" stroke-width="1"/>
<line x1="213.8" y1="627.4" x2="217.2" y2="627.4" stroke="#222" stroke-width="1"/>
<line x1="232.7" y1="627.4" x2="236.1" y2="627.4" stroke="#222" stroke-width="1"/>
<line x1="251.7" y1="627.4" x2="256.7" y2="627.4" stroke="#222" stroke-width="1"/>
<line x1="254.2" y1="624.9" x2="254.2" y2="629.9" stroke="#222" stroke-width="1"/>
<text transform="translate(161.2,604.7) rotate(-90)" font-size="12" textLength="160.6" lengthAdjust="spacingAndGlyphs">Relative mRNA level (/β-actin)</text>
<text transform="translate(151.1,537.4) rotate(-90)" font-size="12" font-style="italic" textLength="23.1" lengthAdjust="spacingAndGlyphs">Tnf<tspan font-family="DejaVu Sans" font-size="0.85em">α</tspan></text>
<line x1="317.8" y1="466.3" x2="317.8" y2="593.5" stroke="#555" stroke-width="1.1"/>
<line x1="317.8" y1="593.5" x2="395.0" y2="593.5" stroke="#555" stroke-width="1.1"/>
<line x1="314.3" y1="466.3" x2="317.8" y2="466.3" stroke="#555" stroke-width="1"/>
<text x="313.5" y="469.9" font-size="10" text-anchor="end">1.4</text>
<line x1="314.3" y1="530.5" x2="317.8" y2="530.5" stroke="#555" stroke-width="1"/>
<text x="313.5" y="534.1" font-size="10" text-anchor="end">0.7</text>
<line x1="314.3" y1="593.5" x2="317.8" y2="593.5" stroke="#555" stroke-width="1"/>
<text x="313.5" y="597.1" font-size="10" text-anchor="end">0.0</text>
<line x1="330.3" y1="502.5" x2="330.3" y2="496.7" stroke="#222" stroke-width="0.9"/>
<line x1="327.7" y1="496.7" x2="332.9" y2="496.7" stroke="#222" stroke-width="0.9"/>
<rect x="324.1" y="502.5" width="12.4" height="91.0" fill="#000" stroke="#222" stroke-width="0.9"/>
<line x1="330.3" y1="593.5" x2="330.3" y2="596.0" stroke="#555" stroke-width="0.9"/>
<line x1="349.1" y1="528.6" x2="349.1" y2="524.2" stroke="#222" stroke-width="0.9"/>
<line x1="346.5" y1="524.2" x2="351.7" y2="524.2" stroke="#222" stroke-width="0.9"/>
<rect x="343.0" y="528.6" width="12.2" height="64.9" fill="#f2401c" stroke="#222" stroke-width="0.9"/>
<line x1="349.1" y1="593.5" x2="349.1" y2="596.0" stroke="#555" stroke-width="0.9"/>
<line x1="368.2" y1="499.0" x2="368.2" y2="491.5" stroke="#222" stroke-width="0.9"/>
<line x1="365.6" y1="491.5" x2="370.9" y2="491.5" stroke="#222" stroke-width="0.9"/>
<rect x="362.2" y="499.0" width="12.1" height="94.5" fill="#f5928c" stroke="#222" stroke-width="0.9"/>
<line x1="368.2" y1="593.5" x2="368.2" y2="596.0" stroke="#555" stroke-width="0.9"/>
<line x1="387.2" y1="496.7" x2="387.2" y2="489.7" stroke="#222" stroke-width="0.9"/>
<line x1="384.6" y1="489.7" x2="389.9" y2="489.7" stroke="#222" stroke-width="0.9"/>
<rect x="381.3" y="496.7" width="11.9" height="96.8" fill="#0f8282" stroke="#222" stroke-width="0.9"/>
<line x1="387.2" y1="593.5" x2="387.2" y2="596.0" stroke="#555" stroke-width="0.9"/>
<text x="334.0" y="467.4" font-size="16.3" font-weight="bold" textLength="5.8" lengthAdjust="spacingAndGlyphs">*</text>
<line x1="328.3" y1="465.2" x2="346.5" y2="465.2" stroke="#555" stroke-width="1"/>
<text x="360.0" y="474.1" font-size="16.9" font-weight="bold" textLength="13.6" lengthAdjust="spacingAndGlyphs">**</text>
<line x1="349.3" y1="471.0" x2="386.7" y2="471.0" stroke="#555" stroke-width="1"/>
<text x="353.3" y="489.1" font-size="17.3" font-weight="bold" textLength="5.9" lengthAdjust="spacingAndGlyphs">*</text>
<line x1="348.2" y1="486.6" x2="366.1" y2="486.6" stroke="#555" stroke-width="1"/>
<line x1="350.0" y1="603.8" x2="334.9" y2="603.8" stroke="#000" stroke-width="0.9"/>
<polygon points="331.3,603.8 335.8,601.4 335.8,606.2" fill="#000"/>
<line x1="367.5" y1="603.8" x2="385.0" y2="603.8" stroke="#000" stroke-width="0.9"/>
<polygon points="388.6,603.8 384.1,606.2 384.1,601.4" fill="#000"/>
<text x="351.0" y="606.6" font-size="10" textLength="15.5" lengthAdjust="spacingAndGlyphs">Teff</text>
<text x="298.0" y="615.8" font-size="10" textLength="20.0" lengthAdjust="spacingAndGlyphs">Treg</text>
<line x1="329.6" y1="612.5" x2="333.0" y2="612.5" stroke="#222" stroke-width="1"/>
<line x1="348.0" y1="612.5" x2="353.0" y2="612.5" stroke="#222" stroke-width="1"/>
<line x1="350.5" y1="610.0" x2="350.5" y2="615.0" stroke="#222" stroke-width="1"/>
<line x1="366.9" y1="612.5" x2="371.9" y2="612.5" stroke="#222" stroke-width="1"/>
<line x1="369.4" y1="610.0" x2="369.4" y2="615.0" stroke="#222" stroke-width="1"/>
<line x1="386.7" y1="612.5" x2="391.7" y2="612.5" stroke="#222" stroke-width="1"/>
<line x1="389.2" y1="610.0" x2="389.2" y2="615.0" stroke="#222" stroke-width="1"/>
<text x="280.0" y="625.2" font-size="10" textLength="38.5" lengthAdjust="spacingAndGlyphs">AMP-CP</text>
<line x1="329.6" y1="621.9" x2="333.0" y2="621.9" stroke="#222" stroke-width="1"/>
<line x1="348.8" y1="621.9" x2="352.2" y2="621.9" stroke="#222" stroke-width="1"/>
<line x1="366.9" y1="621.9" x2="371.9" y2="621.9" stroke="#222" stroke-width="1"/>
<line x1="369.4" y1="619.4" x2="369.4" y2="624.4" stroke="#222" stroke-width="1"/>
<line x1="387.5" y1="621.9" x2="390.9" y2="621.9" stroke="#222" stroke-width="1"/>
<text x="279.0" y="634.2" font-size="10" textLength="39.5" lengthAdjust="spacingAndGlyphs">GW4869</text>
<line x1="329.6" y1="630.9" x2="333.0" y2="630.9" stroke="#222" stroke-width="1"/>
<line x1="348.8" y1="630.9" x2="352.2" y2="630.9" stroke="#222" stroke-width="1"/>
<line x1="367.7" y1="630.9" x2="371.1" y2="630.9" stroke="#222" stroke-width="1"/>
<line x1="386.7" y1="630.9" x2="391.7" y2="630.9" stroke="#222" stroke-width="1"/>
<line x1="389.2" y1="628.4" x2="389.2" y2="633.4" stroke="#222" stroke-width="1"/>
<text transform="translate(296.0,609.0) rotate(-90)" font-size="12" textLength="161.0" lengthAdjust="spacingAndGlyphs">Relative mRNA level (/β-actin)</text>
<text transform="translate(283.0,540.1) rotate(-90)" font-size="12" font-style="italic" textLength="16.7" lengthAdjust="spacingAndGlyphs">Il1β</text>
<line x1="448.2" y1="464.5" x2="448.2" y2="592.8" stroke="#555" stroke-width="1.1"/>
<line x1="448.2" y1="592.8" x2="525.0" y2="592.8" stroke="#555" stroke-width="1.1"/>
<line x1="444.7" y1="464.5" x2="448.2" y2="464.5" stroke="#555" stroke-width="1"/>
<text x="443.9" y="468.1" font-size="10" text-anchor="end">1.4</text>
<line x1="444.7" y1="528.9" x2="448.2" y2="528.9" stroke="#555" stroke-width="1"/>
<text x="443.9" y="532.5" font-size="10" text-anchor="end">0.7</text>
<line x1="444.7" y1="592.8" x2="448.2" y2="592.8" stroke="#555" stroke-width="1"/>
<text x="443.9" y="596.4" font-size="10" text-anchor="end">0.0</text>
<line x1="460.1" y1="501.3" x2="460.1" y2="495.0" stroke="#222" stroke-width="0.9"/>
<line x1="457.4" y1="495.0" x2="462.7" y2="495.0" stroke="#222" stroke-width="0.9"/>
<rect x="454.0" y="501.3" width="12.1" height="91.5" fill="#000" stroke="#222" stroke-width="0.9"/>
<line x1="460.1" y1="592.8" x2="460.1" y2="595.3" stroke="#555" stroke-width="0.9"/>
<line x1="478.8" y1="538.0" x2="478.8" y2="532.8" stroke="#222" stroke-width="0.9"/>
<line x1="476.1" y1="532.8" x2="481.4" y2="532.8" stroke="#222" stroke-width="0.9"/>
<rect x="472.7" y="538.0" width="12.1" height="54.8" fill="#f2401c" stroke="#222" stroke-width="0.9"/>
<line x1="478.8" y1="592.8" x2="478.8" y2="595.3" stroke="#555" stroke-width="0.9"/>
<line x1="497.8" y1="515.8" x2="497.8" y2="510.2" stroke="#222" stroke-width="0.9"/>
<line x1="495.1" y1="510.2" x2="500.4" y2="510.2" stroke="#222" stroke-width="0.9"/>
<rect x="491.8" y="515.8" width="11.9" height="77.0" fill="#f5928c" stroke="#222" stroke-width="0.9"/>
<line x1="497.8" y1="592.8" x2="497.8" y2="595.3" stroke="#555" stroke-width="0.9"/>
<line x1="516.6" y1="506.0" x2="516.6" y2="499.5" stroke="#222" stroke-width="0.9"/>
<line x1="514.0" y1="499.5" x2="519.2" y2="499.5" stroke="#222" stroke-width="0.9"/>
<rect x="510.5" y="506.0" width="12.3" height="86.8" fill="#0f8282" stroke="#222" stroke-width="0.9"/>
<line x1="516.6" y1="592.8" x2="516.6" y2="595.3" stroke="#555" stroke-width="0.9"/>
<text x="457.4" y="474.1" font-size="16.9" font-weight="bold" textLength="20.6" lengthAdjust="spacingAndGlyphs">***</text>
<line x1="458.2" y1="471.7" x2="476.9" y2="471.7" stroke="#555" stroke-width="1"/>
<text x="490.4" y="481.1" font-size="16.9" font-weight="bold" textLength="13.6" lengthAdjust="spacingAndGlyphs">**</text>
<line x1="479.2" y1="479.2" x2="516.5" y2="479.2" stroke="#555" stroke-width="1"/>
<text x="486.0" y="500.0" font-size="18.2" font-weight="bold" textLength="6.0" lengthAdjust="spacingAndGlyphs">*</text>
<line x1="480.1" y1="497.8" x2="498.3" y2="497.8" stroke="#555" stroke-width="1"/>
<line x1="480.5" y1="602.2" x2="464.9" y2="602.2" stroke="#000" stroke-width="0.9"/>
<polygon points="461.3,602.2 465.8,599.8 465.8,604.6" fill="#000"/>
<line x1="497.5" y1="602.2" x2="514.0" y2="602.2" stroke="#000" stroke-width="0.9"/>
<polygon points="517.6,602.2 513.1,604.6 513.1,599.8" fill="#000"/>
<text x="481.5" y="605.0" font-size="10" textLength="15.0" lengthAdjust="spacingAndGlyphs">Teff</text>
<text x="427.5" y="615.0" font-size="10" textLength="20.0" lengthAdjust="spacingAndGlyphs">Treg</text>
<line x1="459.6" y1="611.7" x2="463.0" y2="611.7" stroke="#222" stroke-width="1"/>
<line x1="478.0" y1="611.7" x2="483.0" y2="611.7" stroke="#222" stroke-width="1"/>
<line x1="480.5" y1="609.2" x2="480.5" y2="614.2" stroke="#222" stroke-width="1"/>
<line x1="496.9" y1="611.7" x2="501.9" y2="611.7" stroke="#222" stroke-width="1"/>
<line x1="499.4" y1="609.2" x2="499.4" y2="614.2" stroke="#222" stroke-width="1"/>
<line x1="516.0" y1="611.7" x2="521.0" y2="611.7" stroke="#222" stroke-width="1"/>
<line x1="518.5" y1="609.2" x2="518.5" y2="614.2" stroke="#222" stroke-width="1"/>
<text x="409.5" y="624.4" font-size="10" textLength="38.5" lengthAdjust="spacingAndGlyphs">AMP-CP</text>
<line x1="459.6" y1="621.1" x2="463.0" y2="621.1" stroke="#222" stroke-width="1"/>
<line x1="478.8" y1="621.1" x2="482.2" y2="621.1" stroke="#222" stroke-width="1"/>
<line x1="496.9" y1="621.1" x2="501.9" y2="621.1" stroke="#222" stroke-width="1"/>
<line x1="499.4" y1="618.6" x2="499.4" y2="623.6" stroke="#222" stroke-width="1"/>
<line x1="516.8" y1="621.1" x2="520.2" y2="621.1" stroke="#222" stroke-width="1"/>
<text x="408.5" y="633.4" font-size="10" textLength="39.5" lengthAdjust="spacingAndGlyphs">GW4869</text>
<line x1="459.6" y1="630.1" x2="463.0" y2="630.1" stroke="#222" stroke-width="1"/>
<line x1="478.8" y1="630.1" x2="482.2" y2="630.1" stroke="#222" stroke-width="1"/>
<line x1="497.7" y1="630.1" x2="501.1" y2="630.1" stroke="#222" stroke-width="1"/>
<line x1="516.0" y1="630.1" x2="521.0" y2="630.1" stroke="#222" stroke-width="1"/>
<line x1="518.5" y1="627.6" x2="518.5" y2="632.6" stroke="#222" stroke-width="1"/>
<text transform="translate(425.7,607.0) rotate(-90)" font-size="12" textLength="159.0" lengthAdjust="spacingAndGlyphs">Relative mRNA level (/β-actin)</text>
<text transform="translate(414.0,537.4) rotate(-90)" font-size="12" font-style="italic" textLength="17.9" lengthAdjust="spacingAndGlyphs">Il17</text>
<line x1="594.5" y1="465.2" x2="594.5" y2="556.5" stroke="#555" stroke-width="1.1"/>
<line x1="594.5" y1="569.5" x2="594.5" y2="592.5" stroke="#555" stroke-width="1.1"/>
<line x1="591.7" y1="559.5" x2="597.3" y2="553.5" stroke="#555" stroke-width="0.9"/>
<line x1="591.7" y1="572.5" x2="597.3" y2="566.5" stroke="#555" stroke-width="0.9"/>
<line x1="594.5" y1="592.5" x2="676.8" y2="592.5" stroke="#555" stroke-width="1.1"/>
<line x1="591.0" y1="465.2" x2="594.5" y2="465.2" stroke="#555" stroke-width="1"/>
<text x="590.2" y="469.2" font-size="11" text-anchor="end">100</text>
<line x1="591.0" y1="511.4" x2="594.5" y2="511.4" stroke="#555" stroke-width="1"/>
<text x="590.2" y="515.4" font-size="11" text-anchor="end">75</text>
<text x="590.2" y="561.8" font-size="11" text-anchor="end">50</text>
<text x="590.2" y="573.8" font-size="11" text-anchor="end">10</text>
<line x1="591.0" y1="592.5" x2="594.5" y2="592.5" stroke="#555" stroke-width="1"/>
<text x="590.2" y="596.5" font-size="11" text-anchor="end">0</text>
<rect x="603.5" y="511.8" width="15.3" height="80.7" fill="#fff" stroke="#222" stroke-width="0.9"/>
<line x1="611.1" y1="592.5" x2="611.1" y2="595.0" stroke="#555" stroke-width="0.9"/>
<ellipse cx="608.7" cy="502.8" rx="3.15" ry="3.75" fill="#fff" stroke="#222" stroke-width="1.15"/>
<ellipse cx="614.3" cy="502.8" rx="3.15" ry="3.75" fill="#fff" stroke="#222" stroke-width="1.15"/>
<ellipse cx="611.0" cy="509.0" rx="3.15" ry="3.75" fill="#fff" stroke="#222" stroke-width="1.15"/>
<ellipse cx="607.0" cy="516.0" rx="3.15" ry="3.75" fill="#fff" stroke="#222" stroke-width="1.15"/>
<ellipse cx="615.5" cy="517.5" rx="3.15" ry="3.75" fill="#fff" stroke="#222" stroke-width="1.15"/>
<ellipse cx="609.0" cy="519.0" rx="3.15" ry="3.75" fill="#fff" stroke="#222" stroke-width="1.15"/>
<rect x="627.9" y="535.1" width="15.3" height="57.4" fill="#0f8282" stroke="#222" stroke-width="0.9"/>
<line x1="635.5" y1="592.5" x2="635.5" y2="595.0" stroke="#555" stroke-width="0.9"/>
<ellipse cx="635.8" cy="523.8" rx="3.15" ry="3.75" fill="#fff" stroke="#222" stroke-width="1.15"/>
<ellipse cx="632.4" cy="535.1" rx="3.15" ry="3.75" fill="#fff" stroke="#222" stroke-width="1.15"/>
<ellipse cx="639.1" cy="533.5" rx="3.15" ry="3.75" fill="#fff" stroke="#222" stroke-width="1.15"/>
<ellipse cx="636.4" cy="536.2" rx="3.15" ry="3.75" fill="#fff" stroke="#222" stroke-width="1.15"/>
<ellipse cx="631.2" cy="537.3" rx="3.15" ry="3.75" fill="#fff" stroke="#222" stroke-width="1.15"/>
<rect x="652.7" y="520.4" width="15.3" height="72.1" fill="#0a4c94" stroke="#222" stroke-width="0.9"/>
<line x1="660.4" y1="592.5" x2="660.4" y2="595.0" stroke="#555" stroke-width="0.9"/>
<ellipse cx="656.7" cy="517.0" rx="3.15" ry="3.75" fill="#fff" stroke="#222" stroke-width="1.15"/>
<ellipse cx="662.1" cy="517.0" rx="3.15" ry="3.75" fill="#fff" stroke="#222" stroke-width="1.15"/>
<ellipse cx="659.4" cy="520.4" rx="3.15" ry="3.75" fill="#fff" stroke="#222" stroke-width="1.15"/>
<ellipse cx="664.4" cy="523.8" rx="3.15" ry="3.75" fill="#fff" stroke="#222" stroke-width="1.15"/>
<ellipse cx="655.4" cy="521.1" rx="3.15" ry="3.75" fill="#fff" stroke="#222" stroke-width="1.15"/>
<text x="608.0" y="495.0" font-size="17.6" font-weight="bold" textLength="20.2" lengthAdjust="spacingAndGlyphs">***</text>
<line x1="609.4" y1="492.2" x2="627.9" y2="492.2" stroke="#555" stroke-width="1"/>
<text x="642.7" y="504.2" font-size="17.9" font-weight="bold" textLength="13.9" lengthAdjust="spacingAndGlyphs">**</text>
<line x1="641.4" y1="502.8" x2="659.4" y2="502.8" stroke="#555" stroke-width="1"/>
<text transform="translate(563.5,566.6) rotate(-90)" font-size="12.6" textLength="77.8" lengthAdjust="spacingAndGlyphs">TNF<tspan font-family="DejaVu Sans" font-size="0.85em">α</tspan> (pg / ml)</text>
<line x1="731.0" y1="466.2" x2="731.0" y2="593.3" stroke="#555" stroke-width="1.1"/>
<line x1="731.0" y1="593.3" x2="812.0" y2="593.3" stroke="#555" stroke-width="1.1"/>
<line x1="727.5" y1="466.2" x2="731.0" y2="466.2" stroke="#555" stroke-width="1"/>
<text x="726.7" y="470.2" font-size="11" text-anchor="end">30</text>
<line x1="727.5" y1="529.9" x2="731.0" y2="529.9" stroke="#555" stroke-width="1"/>
<text x="726.7" y="533.9" font-size="11" text-anchor="end">15</text>
<line x1="727.5" y1="593.3" x2="731.0" y2="593.3" stroke="#555" stroke-width="1"/>
<text x="726.7" y="597.3" font-size="11" text-anchor="end">0</text>
<line x1="747.5" y1="508.9" x2="747.5" y2="502.2" stroke="#222" stroke-width="0.9"/>
<line x1="744.9" y1="502.2" x2="750.1" y2="502.2" stroke="#222" stroke-width="0.9"/>
<rect x="740.0" y="508.9" width="15.1" height="84.4" fill="#fff" stroke="#222" stroke-width="0.9"/>
<line x1="747.5" y1="593.3" x2="747.5" y2="595.8" stroke="#555" stroke-width="0.9"/>
<ellipse cx="747.4" cy="480.7" rx="3.15" ry="3.75" fill="#fff" stroke="#222" stroke-width="1.15"/>
<ellipse cx="747.4" cy="498.5" rx="3.15" ry="3.75" fill="#fff" stroke="#222" stroke-width="1.15"/>
<ellipse cx="749.0" cy="517.5" rx="3.15" ry="3.75" fill="#fff" stroke="#222" stroke-width="1.15"/>
<ellipse cx="752.5" cy="519.0" rx="3.15" ry="3.75" fill="#fff" stroke="#222" stroke-width="1.15"/>
<ellipse cx="743.5" cy="523.5" rx="3.15" ry="3.75" fill="#fff" stroke="#222" stroke-width="1.15"/>
<line x1="772.0" y1="546.3" x2="772.0" y2="540.0" stroke="#222" stroke-width="0.9"/>
<line x1="769.4" y1="540.0" x2="774.6" y2="540.0" stroke="#222" stroke-width="0.9"/>
<rect x="764.3" y="546.3" width="15.5" height="47.0" fill="#0f8282" stroke="#222" stroke-width="0.9"/>
<line x1="772.0" y1="593.3" x2="772.0" y2="595.8" stroke="#555" stroke-width="0.9"/>
<ellipse cx="768.0" cy="537.1" rx="3.15" ry="3.75" fill="#fff" stroke="#222" stroke-width="1.15"/>
<ellipse cx="775.7" cy="539.5" rx="3.15" ry="3.75" fill="#fff" stroke="#222" stroke-width="1.15"/>
<ellipse cx="772.0" cy="542.7" rx="3.15" ry="3.75" fill="#fff" stroke="#222" stroke-width="1.15"/>
<ellipse cx="769.6" cy="554.7" rx="3.15" ry="3.75" fill="#fff" stroke="#222" stroke-width="1.15"/>
<ellipse cx="774.4" cy="554.0" rx="3.15" ry="3.75" fill="#fff" stroke="#222" stroke-width="1.15"/>
<rect x="788.9" y="531.3" width="15.7" height="62.0" fill="#0a4c94" stroke="#222" stroke-width="0.9"/>
<line x1="796.8" y1="593.3" x2="796.8" y2="595.8" stroke="#555" stroke-width="0.9"/>
<ellipse cx="796.2" cy="519.3" rx="3.15" ry="3.75" fill="#fff" stroke="#222" stroke-width="1.15"/>
<ellipse cx="792.5" cy="527.5" rx="3.15" ry="3.75" fill="#fff" stroke="#222" stroke-width="1.15"/>
<ellipse cx="800.3" cy="527.5" rx="3.15" ry="3.75" fill="#fff" stroke="#222" stroke-width="1.15"/>
<ellipse cx="795.4" cy="533.8" rx="3.15" ry="3.75" fill="#fff" stroke="#222" stroke-width="1.15"/>
<ellipse cx="796.2" cy="545.1" rx="3.15" ry="3.75" fill="#fff" stroke="#222" stroke-width="1.15"/>
<text x="748.1" y="476.4" font-size="17.3" font-weight="bold" textLength="13.6" lengthAdjust="spacingAndGlyphs">**</text>
<line x1="746.2" y1="473.9" x2="764.1" y2="473.9" stroke="#555" stroke-width="1"/>
<text x="768.7" y="464.5" font-size="17.6" font-weight="bold" textLength="5.9" lengthAdjust="spacingAndGlyphs">*</text>
<line x1="746.2" y1="460.7" x2="796.9" y2="460.7" stroke="#555" stroke-width="1"/>
<text transform="translate(706.9,563.3) rotate(-90)" font-size="12.6" textLength="67.7" lengthAdjust="spacingAndGlyphs">IL-17 (pg / ml)</text>
<line x1="611.3" y1="592.5" x2="611.3" y2="595.0" stroke="#555" stroke-width="0.9"/>
<line x1="635.7" y1="592.5" x2="635.7" y2="595.0" stroke="#555" stroke-width="0.9"/>
<line x1="659.9" y1="592.5" x2="659.9" y2="595.0" stroke="#555" stroke-width="0.9"/>
<line x1="747.5" y1="593.3" x2="747.5" y2="595.8" stroke="#555" stroke-width="0.9"/>
<line x1="772.0" y1="593.3" x2="772.0" y2="595.8" stroke="#555" stroke-width="0.9"/>
<line x1="796.7" y1="593.3" x2="796.7" y2="595.8" stroke="#555" stroke-width="0.9"/>
<text transform="translate(614.8,599.8) rotate(-45)" font-size="12" text-anchor="end">PBS</text>
<text transform="translate(639.3,599.8) rotate(-45)" font-size="12" text-anchor="end">WT-Exo</text>
<text transform="translate(663.8,599.8) rotate(-45)" font-size="12" text-anchor="end">KO-Exo</text>
<text transform="translate(750.8,600.8) rotate(-45)" font-size="12" text-anchor="end">PBS</text>
<text transform="translate(775.3,600.8) rotate(-45)" font-size="12" text-anchor="end">WT-Exo</text>
<text transform="translate(799.8,600.8) rotate(-45)" font-size="12" text-anchor="end">KO-Exo</text>
</svg></body></html>
